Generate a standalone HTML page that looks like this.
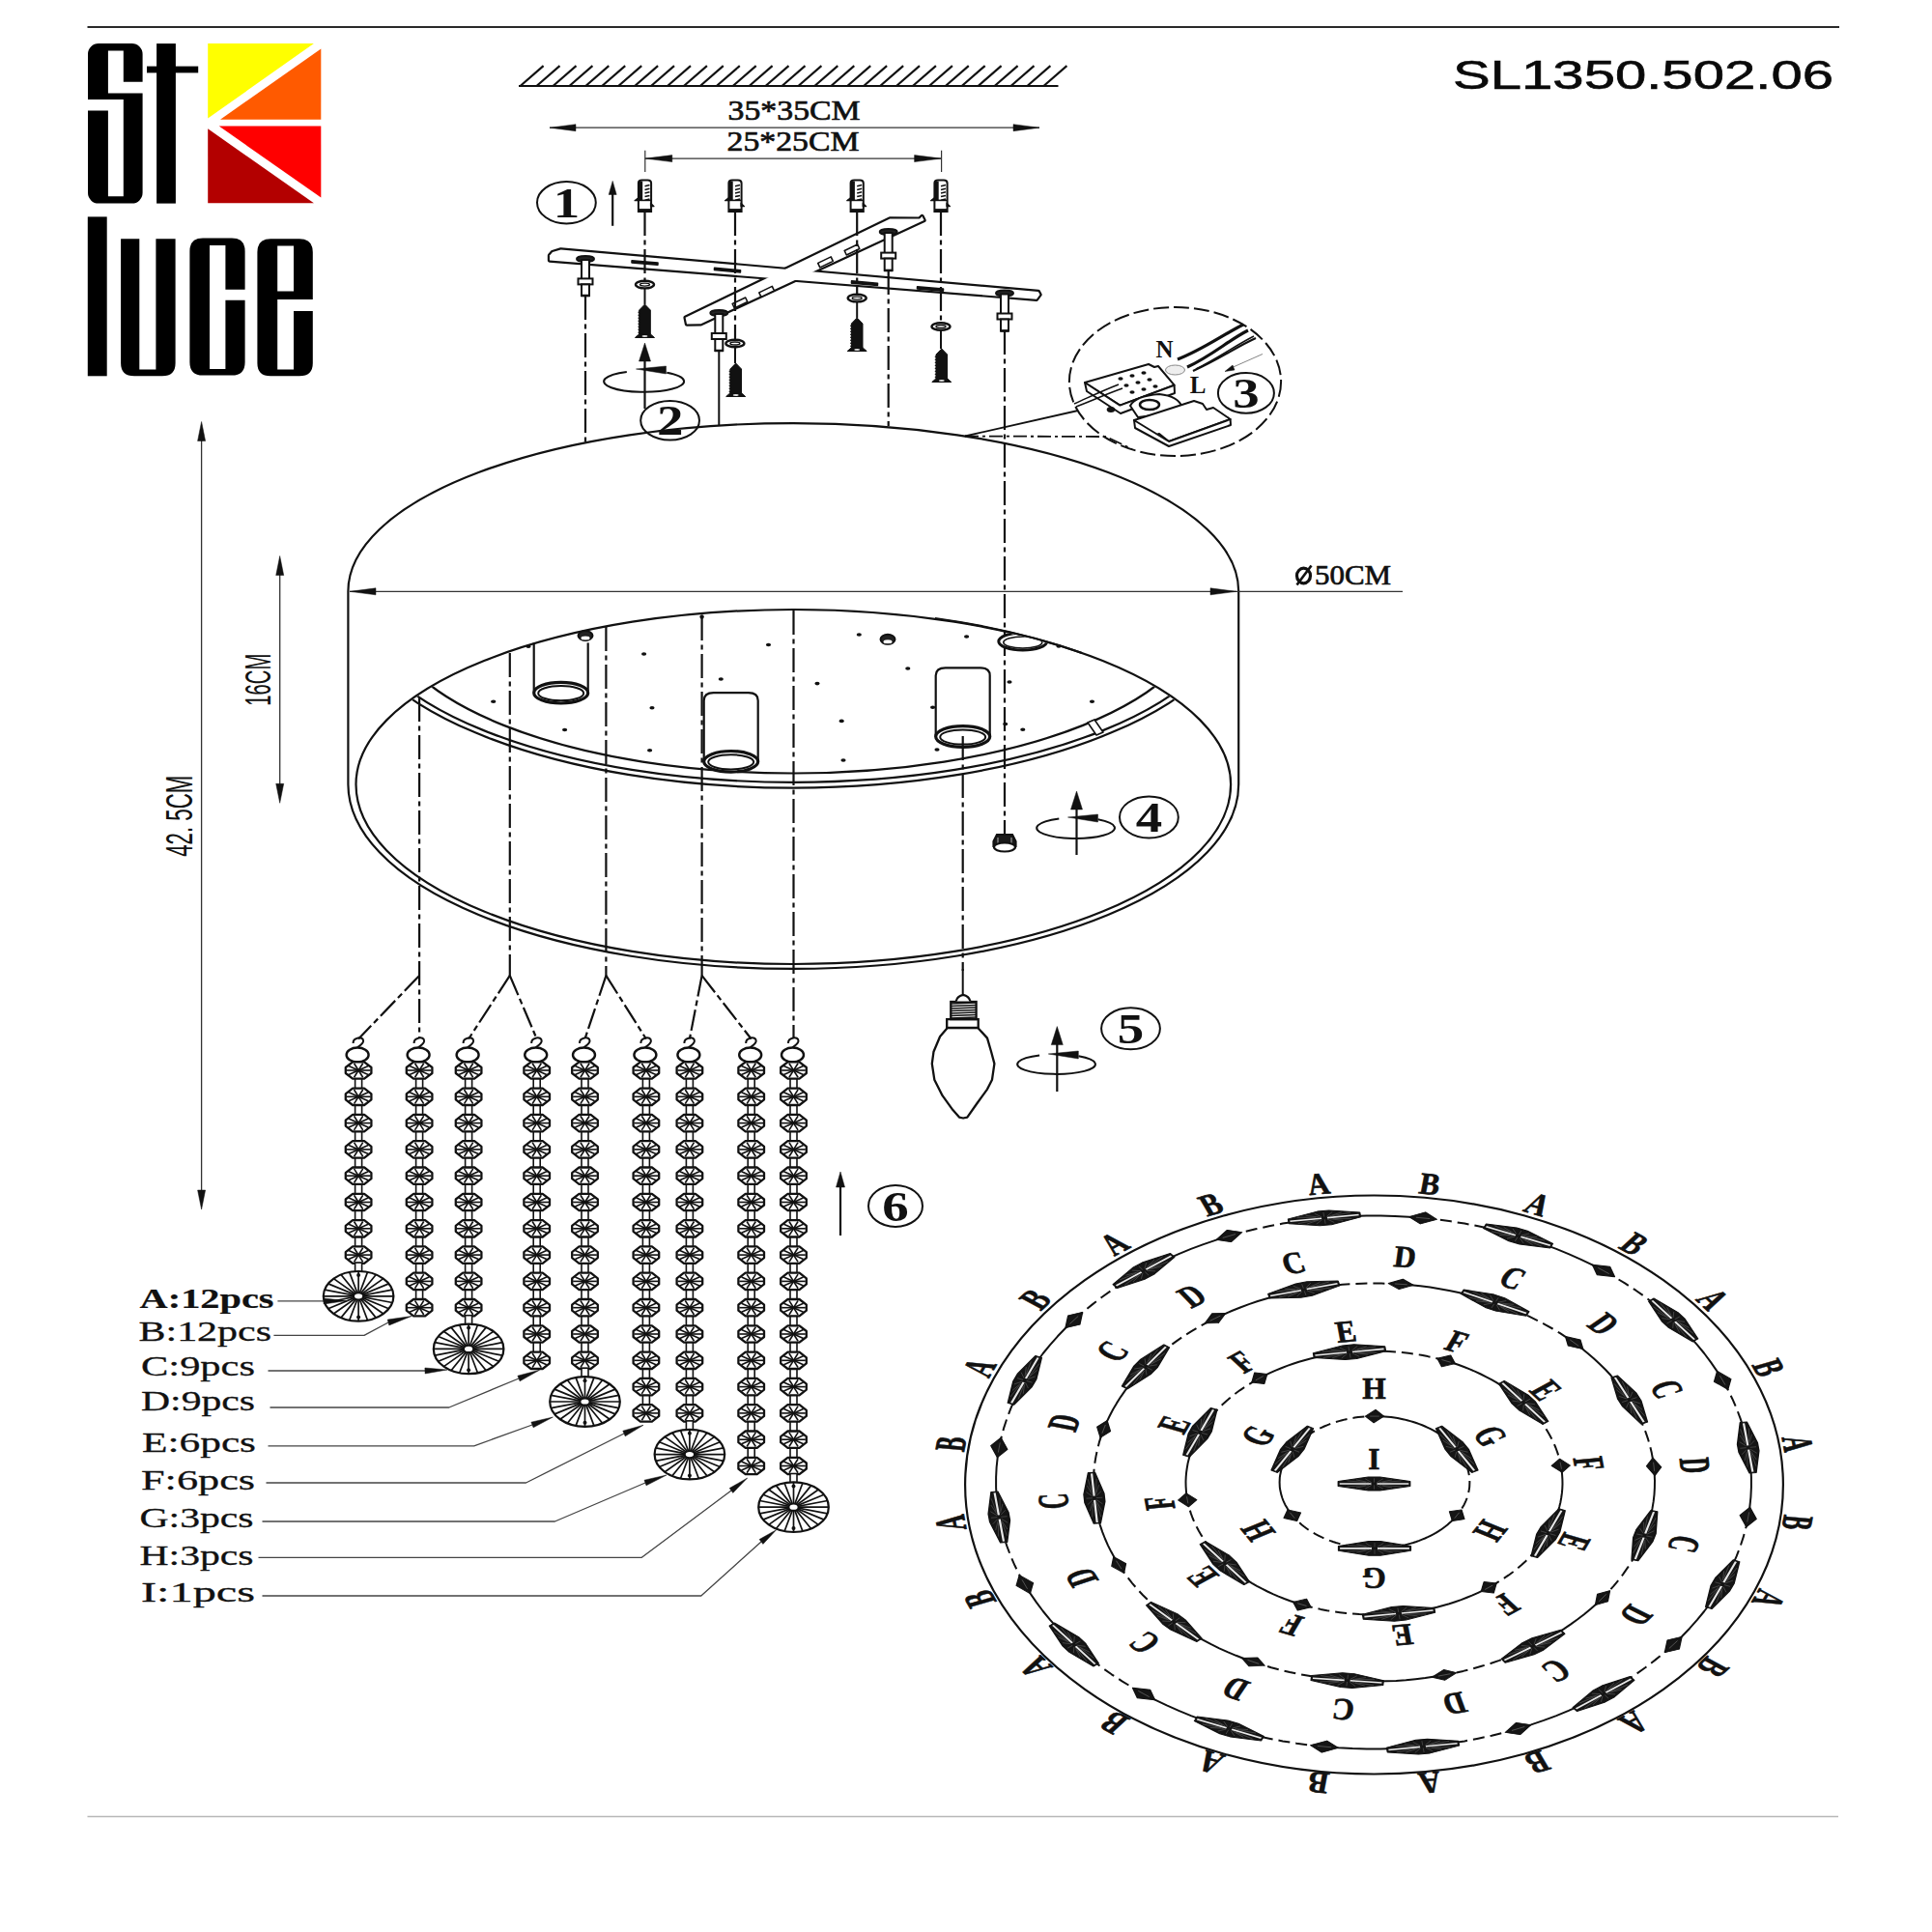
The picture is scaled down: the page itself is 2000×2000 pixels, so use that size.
<!DOCTYPE html>
<html><head><meta charset="utf-8"><title>SL1350.502.06</title>
<style>html,body{margin:0;padding:0;background:#fff;}svg{display:block;}
</style></head>
<body><svg width="2000" height="2000" viewBox="0 0 2000 2000">
<rect width="2000" height="2000" fill="#fff"/>
<line x1="90.5" y1="28" x2="1904" y2="28" stroke="#2a2a2a" stroke-width="2"/>
<line x1="90.5" y1="1880.5" x2="1903" y2="1880.5" stroke="#b8b8b8" stroke-width="1.5"/>
<path d="M102,45.1 H136.6 A11,11 0 0 1 147.6,56.1 V84.8 H127.8 V52.5 H111.9 V96.6 H147.6 V199.6 A11,11 0 0 1 136.6,210.6 H102 A11,11 0 0 1 91,199.6 V114.4 H111.9 V203.2 H127.8 V103 H91 V56.1 A11,11 0 0 1 102,45.1 Z" fill="#000" stroke="none" stroke-width="0"/>
<rect x="162.1" y="45.1" width="19.8" height="165.5" rx="0" fill="#000"/>
<rect x="152" y="68.6" width="53.2" height="6.8" rx="0" fill="#000"/>
<polygon points="215.2,45.1 324.9,45.1 215.2,122.5" fill="#ffff00" stroke="none" stroke-width="0" stroke-linejoin="round"/>
<polygon points="228,123.8 332.3,50.5 332.3,123.8" fill="#ff5a00" stroke="none" stroke-width="0" stroke-linejoin="round"/>
<polygon points="226.7,130.5 332.3,130.5 332.3,204.6" fill="#ff0000" stroke="none" stroke-width="0" stroke-linejoin="round"/>
<polygon points="215.2,133.2 324.9,210.3 215.2,210.3" fill="#b30000" stroke="none" stroke-width="0" stroke-linejoin="round"/>
<rect x="90.8" y="224.4" width="19.9" height="164.9" rx="0" fill="#000"/>
<path d="M125.1,247.3 H144.3 V382.5 H161.4 V247.3 H181.6 V376 Q181.6,389.3 168,389.3 H139 Q125.1,389.3 125.1,376 Z" fill="#000" stroke="none" stroke-width="0"/>
<path d="M210,246.6 H240 Q253.6,246.6 253.6,260 V299.8 H233.4 V254 H217 V381.9 H233.4 V310.8 H253.6 V375 Q253.6,388.6 240,388.6 H210 Q196.4,388.6 196.4,375 V260 Q196.4,246.6 210,246.6 Z" fill="#000" stroke="none" stroke-width="0"/>
<path d="M280,247.3 H310 Q323.8,247.3 323.8,261 V309.9 H287.2 V382.5 H304 V322 H323.8 V376 Q323.8,389.3 310,389.3 H280 Q266.4,389.3 266.4,376 V261 Q266.4,247.3 280,247.3 Z M287.2,254.4 V301.4 H304 V254.4 Z" fill="#000" stroke="none" stroke-width="0" fill-rule="evenodd"/>
<text x="1504" y="91.7" font-family="Liberation Sans" font-size="42" font-weight="normal" text-anchor="start" fill="#0a0a0a" stroke="#0a0a0a" stroke-width="0.6" textLength="394" lengthAdjust="spacingAndGlyphs">SL1350.502.06</text>
<line x1="537" y1="89" x2="1095.5" y2="89" stroke="#111" stroke-width="2.2"/>
<line x1="538.6" y1="89" x2="562.6" y2="68.1" stroke="#111" stroke-width="2.2"/>
<line x1="555.5" y1="89" x2="579.5" y2="68.1" stroke="#111" stroke-width="2.2"/>
<line x1="572.5" y1="89" x2="596.5" y2="68.1" stroke="#111" stroke-width="2.2"/>
<line x1="589.4" y1="89" x2="613.4" y2="68.1" stroke="#111" stroke-width="2.2"/>
<line x1="606.3" y1="89" x2="630.3" y2="68.1" stroke="#111" stroke-width="2.2"/>
<line x1="623.2" y1="89" x2="647.2" y2="68.1" stroke="#111" stroke-width="2.2"/>
<line x1="640.2" y1="89" x2="664.2" y2="68.1" stroke="#111" stroke-width="2.2"/>
<line x1="657.1" y1="89" x2="681.1" y2="68.1" stroke="#111" stroke-width="2.2"/>
<line x1="674" y1="89" x2="698" y2="68.1" stroke="#111" stroke-width="2.2"/>
<line x1="691" y1="89" x2="715" y2="68.1" stroke="#111" stroke-width="2.2"/>
<line x1="707.9" y1="89" x2="731.9" y2="68.1" stroke="#111" stroke-width="2.2"/>
<line x1="724.8" y1="89" x2="748.8" y2="68.1" stroke="#111" stroke-width="2.2"/>
<line x1="741.8" y1="89" x2="765.8" y2="68.1" stroke="#111" stroke-width="2.2"/>
<line x1="758.7" y1="89" x2="782.7" y2="68.1" stroke="#111" stroke-width="2.2"/>
<line x1="775.6" y1="89" x2="799.6" y2="68.1" stroke="#111" stroke-width="2.2"/>
<line x1="792.5" y1="89" x2="816.5" y2="68.1" stroke="#111" stroke-width="2.2"/>
<line x1="809.5" y1="89" x2="833.5" y2="68.1" stroke="#111" stroke-width="2.2"/>
<line x1="826.4" y1="89" x2="850.4" y2="68.1" stroke="#111" stroke-width="2.2"/>
<line x1="843.3" y1="89" x2="867.3" y2="68.1" stroke="#111" stroke-width="2.2"/>
<line x1="860.3" y1="89" x2="884.3" y2="68.1" stroke="#111" stroke-width="2.2"/>
<line x1="877.2" y1="89" x2="901.2" y2="68.1" stroke="#111" stroke-width="2.2"/>
<line x1="894.1" y1="89" x2="918.1" y2="68.1" stroke="#111" stroke-width="2.2"/>
<line x1="911.1" y1="89" x2="935.1" y2="68.1" stroke="#111" stroke-width="2.2"/>
<line x1="928" y1="89" x2="952" y2="68.1" stroke="#111" stroke-width="2.2"/>
<line x1="944.9" y1="89" x2="968.9" y2="68.1" stroke="#111" stroke-width="2.2"/>
<line x1="961.9" y1="89" x2="985.9" y2="68.1" stroke="#111" stroke-width="2.2"/>
<line x1="978.8" y1="89" x2="1002.8" y2="68.1" stroke="#111" stroke-width="2.2"/>
<line x1="995.7" y1="89" x2="1019.7" y2="68.1" stroke="#111" stroke-width="2.2"/>
<line x1="1012.6" y1="89" x2="1036.6" y2="68.1" stroke="#111" stroke-width="2.2"/>
<line x1="1029.6" y1="89" x2="1053.6" y2="68.1" stroke="#111" stroke-width="2.2"/>
<line x1="1046.5" y1="89" x2="1070.5" y2="68.1" stroke="#111" stroke-width="2.2"/>
<line x1="1063.4" y1="89" x2="1087.4" y2="68.1" stroke="#111" stroke-width="2.2"/>
<line x1="1080.4" y1="89" x2="1104.4" y2="68.1" stroke="#111" stroke-width="2.2"/>
<line x1="569" y1="132.2" x2="1076" y2="132.2" stroke="#333" stroke-width="1.2"/>
<polygon points="569,132.2 596,128.7 596,135.7" fill="#111" stroke="#111" stroke-width="0.5" stroke-linejoin="round"/>
<polygon points="1076,132.2 1049,135.7 1049,128.7" fill="#111" stroke="#111" stroke-width="0.5" stroke-linejoin="round"/>
<text x="753.6" y="124" font-family="Liberation Serif" font-size="29.5" font-weight="normal" text-anchor="start" fill="#111" stroke="#111" stroke-width="0.7" textLength="137" lengthAdjust="spacingAndGlyphs">35*35CM</text>
<line x1="667.8" y1="164.1" x2="974.6" y2="164.1" stroke="#333" stroke-width="1.2"/>
<polygon points="667.8,164.1 695.8,160.6 695.8,167.6" fill="#111" stroke="#111" stroke-width="0.5" stroke-linejoin="round"/>
<polygon points="974.6,164.1 946.6,167.6 946.6,160.6" fill="#111" stroke="#111" stroke-width="0.5" stroke-linejoin="round"/>
<text x="752.5" y="155.8" font-family="Liberation Serif" font-size="29.5" font-weight="normal" text-anchor="start" fill="#111" stroke="#111" stroke-width="0.7" textLength="137" lengthAdjust="spacingAndGlyphs">25*25CM</text>
<line x1="667.8" y1="155.8" x2="667.8" y2="178" stroke="#333" stroke-width="1.2"/>
<line x1="974.6" y1="155.8" x2="974.6" y2="178" stroke="#333" stroke-width="1.2"/>
<path d="M660.9,219.1 V189.6 Q660.9,186.6 664.5,186.6 H670.5 Q674.1,186.6 674.1,189.6 V219.1 Z" fill="#fff" stroke="#111" stroke-width="2"/>
<rect x="660.9" y="187.6" width="4.3" height="20" rx="0" fill="#111"/>
<line x1="667.5" y1="192.8" x2="672.5" y2="191.6" stroke="#111" stroke-width="1.5"/>
<line x1="667.5" y1="196.4" x2="672.5" y2="195.2" stroke="#111" stroke-width="1.5"/>
<line x1="667.5" y1="200" x2="672.5" y2="198.8" stroke="#111" stroke-width="1.5"/>
<line x1="667.5" y1="203.6" x2="672.5" y2="202.4" stroke="#111" stroke-width="1.5"/>
<line x1="667.5" y1="207.2" x2="672.5" y2="206" stroke="#111" stroke-width="1.5"/>
<polygon points="661.5,204.1 657,207.6 661.5,207.6" fill="#111" stroke="#111" stroke-width="1.2" stroke-linejoin="round"/>
<polygon points="673.5,210.1 677,213.6 673.5,213.6" fill="#111" stroke="#111" stroke-width="1.2" stroke-linejoin="round"/>
<line x1="660.9" y1="207.4" x2="674.1" y2="207.4" stroke="#111" stroke-width="1.6"/>
<rect x="660.9" y="216.1" width="13.2" height="3.2" rx="0" fill="#111"/>
<path d="M754.4,219.1 V189.6 Q754.4,186.6 758,186.6 H764 Q767.6,186.6 767.6,189.6 V219.1 Z" fill="#fff" stroke="#111" stroke-width="2"/>
<rect x="754.4" y="187.6" width="4.3" height="20" rx="0" fill="#111"/>
<line x1="761" y1="192.8" x2="766" y2="191.6" stroke="#111" stroke-width="1.5"/>
<line x1="761" y1="196.4" x2="766" y2="195.2" stroke="#111" stroke-width="1.5"/>
<line x1="761" y1="200" x2="766" y2="198.8" stroke="#111" stroke-width="1.5"/>
<line x1="761" y1="203.6" x2="766" y2="202.4" stroke="#111" stroke-width="1.5"/>
<line x1="761" y1="207.2" x2="766" y2="206" stroke="#111" stroke-width="1.5"/>
<polygon points="755,204.1 750.5,207.6 755,207.6" fill="#111" stroke="#111" stroke-width="1.2" stroke-linejoin="round"/>
<polygon points="767,210.1 770.5,213.6 767,213.6" fill="#111" stroke="#111" stroke-width="1.2" stroke-linejoin="round"/>
<line x1="754.4" y1="207.4" x2="767.6" y2="207.4" stroke="#111" stroke-width="1.6"/>
<rect x="754.4" y="216.1" width="13.2" height="3.2" rx="0" fill="#111"/>
<path d="M880.6,219.1 V189.6 Q880.6,186.6 884.2,186.6 H890.2 Q893.8,186.6 893.8,189.6 V219.1 Z" fill="#fff" stroke="#111" stroke-width="2"/>
<rect x="880.6" y="187.6" width="4.3" height="20" rx="0" fill="#111"/>
<line x1="887.2" y1="192.8" x2="892.2" y2="191.6" stroke="#111" stroke-width="1.5"/>
<line x1="887.2" y1="196.4" x2="892.2" y2="195.2" stroke="#111" stroke-width="1.5"/>
<line x1="887.2" y1="200" x2="892.2" y2="198.8" stroke="#111" stroke-width="1.5"/>
<line x1="887.2" y1="203.6" x2="892.2" y2="202.4" stroke="#111" stroke-width="1.5"/>
<line x1="887.2" y1="207.2" x2="892.2" y2="206" stroke="#111" stroke-width="1.5"/>
<polygon points="881.2,204.1 876.7,207.6 881.2,207.6" fill="#111" stroke="#111" stroke-width="1.2" stroke-linejoin="round"/>
<polygon points="893.2,210.1 896.7,213.6 893.2,213.6" fill="#111" stroke="#111" stroke-width="1.2" stroke-linejoin="round"/>
<line x1="880.6" y1="207.4" x2="893.8" y2="207.4" stroke="#111" stroke-width="1.6"/>
<rect x="880.6" y="216.1" width="13.2" height="3.2" rx="0" fill="#111"/>
<path d="M967.4,219.1 V189.6 Q967.4,186.6 971,186.6 H977 Q980.6,186.6 980.6,189.6 V219.1 Z" fill="#fff" stroke="#111" stroke-width="2"/>
<rect x="967.4" y="187.6" width="4.3" height="20" rx="0" fill="#111"/>
<line x1="974" y1="192.8" x2="979" y2="191.6" stroke="#111" stroke-width="1.5"/>
<line x1="974" y1="196.4" x2="979" y2="195.2" stroke="#111" stroke-width="1.5"/>
<line x1="974" y1="200" x2="979" y2="198.8" stroke="#111" stroke-width="1.5"/>
<line x1="974" y1="203.6" x2="979" y2="202.4" stroke="#111" stroke-width="1.5"/>
<line x1="974" y1="207.2" x2="979" y2="206" stroke="#111" stroke-width="1.5"/>
<polygon points="968,204.1 963.5,207.6 968,207.6" fill="#111" stroke="#111" stroke-width="1.2" stroke-linejoin="round"/>
<polygon points="980,210.1 983.5,213.6 980,213.6" fill="#111" stroke="#111" stroke-width="1.2" stroke-linejoin="round"/>
<line x1="967.4" y1="207.4" x2="980.6" y2="207.4" stroke="#111" stroke-width="1.6"/>
<rect x="967.4" y="216.1" width="13.2" height="3.2" rx="0" fill="#111"/>
<polygon points="569,264.5 572,261 580.6,258.4 1074.8,301.9 1076.5,305 1073,309.7 569,269.5" fill="#fff" stroke="#111" stroke-width="4.4" stroke-linejoin="round"/>
<polygon points="709.6,328.8 921.2,226.5 952,226.6 954.5,224 956.5,228 725.5,335.2 711,335.5" fill="#fff" stroke="#111" stroke-width="4.4" stroke-linejoin="round"/>
<polygon points="569,264.5 572,261 580.6,258.4 1074.8,301.9 1076.5,305 1073,309.7 569,269.5" fill="#fff" stroke="none" stroke-width="0" stroke-linejoin="round"/>
<polygon points="709.6,328.8 921.2,226.5 952,226.6 954.5,224 956.5,228 725.5,335.2 711,335.5" fill="#fff" stroke="none" stroke-width="0" stroke-linejoin="round"/>
<polygon points="654,271.9 680.9,274.3 681,272.1 654.1,269.7" fill="#111" stroke="#111" stroke-width="1.6" stroke-linejoin="round"/>
<polygon points="739.5,279.5 766.4,281.9 766.5,279.7 739.6,277.3" fill="#111" stroke="#111" stroke-width="1.6" stroke-linejoin="round"/>
<polygon points="881.5,293.1 908.4,295.5 908.5,293.3 881.6,290.9" fill="#111" stroke="#111" stroke-width="1.6" stroke-linejoin="round"/>
<polygon points="949.5,298.9 976.4,301.3 976.5,299.1 949.6,296.7" fill="#111" stroke="#111" stroke-width="1.6" stroke-linejoin="round"/>
<polygon points="876.3,264 889.8,257.5 887.7,253 874.2,259.5" fill="#fff" stroke="#111" stroke-width="1.6" stroke-linejoin="round"/>
<polygon points="848.8,276.9 862.3,270.4 860.2,265.9 846.7,272.4" fill="#fff" stroke="#111" stroke-width="1.6" stroke-linejoin="round"/>
<polygon points="787.9,307.4 801.4,300.9 799.3,296.4 785.8,302.9" fill="#fff" stroke="#111" stroke-width="1.6" stroke-linejoin="round"/>
<polygon points="760.3,319 773.8,312.5 771.7,308 758.2,314.5" fill="#fff" stroke="#111" stroke-width="1.6" stroke-linejoin="round"/>
<line x1="606" y1="306" x2="606" y2="460" stroke="#111" stroke-width="2.2" stroke-dasharray="25,4.5,5,4.5"/>
<line x1="667.5" y1="219" x2="667.5" y2="290" stroke="#111" stroke-width="2.2" stroke-dasharray="25,4.5,5,4.5"/>
<line x1="667.5" y1="298" x2="667.5" y2="315" stroke="#111" stroke-width="2"/>
<line x1="744.3" y1="362" x2="744.3" y2="440" stroke="#111" stroke-width="2"/>
<line x1="761" y1="219" x2="761" y2="351" stroke="#111" stroke-width="2.2" stroke-dasharray="25,4.5,5,4.5"/>
<line x1="761" y1="359" x2="761" y2="376" stroke="#111" stroke-width="2"/>
<line x1="887.2" y1="219" x2="887.2" y2="304" stroke="#111" stroke-width="2.2" stroke-dasharray="25,4.5,5,4.5"/>
<line x1="887.2" y1="312" x2="887.2" y2="329" stroke="#111" stroke-width="2"/>
<line x1="919.7" y1="280" x2="919.7" y2="441" stroke="#111" stroke-width="2.2" stroke-dasharray="25,4.5,5,4.5"/>
<line x1="974" y1="219" x2="974" y2="334" stroke="#111" stroke-width="2.2" stroke-dasharray="25,4.5,5,4.5"/>
<line x1="974" y1="342" x2="974" y2="361" stroke="#111" stroke-width="2"/>
<line x1="1040" y1="342" x2="1040" y2="866" stroke="#111" stroke-width="2.2" stroke-dasharray="25,4.5,5,4.5"/>
<ellipse cx="667.5" cy="294.6" rx="9.5" ry="3.8" fill="#fff" stroke="#111" stroke-width="2.4"/>
<ellipse cx="667.5" cy="294.6" rx="5" ry="1.5" fill="#fff" stroke="#111" stroke-width="1.4"/>
<ellipse cx="760.9" cy="355.5" rx="9.5" ry="3.8" fill="#fff" stroke="#111" stroke-width="2.4"/>
<ellipse cx="760.9" cy="355.5" rx="5" ry="1.5" fill="#fff" stroke="#111" stroke-width="1.4"/>
<ellipse cx="887.2" cy="308.6" rx="9.5" ry="3.8" fill="#fff" stroke="#111" stroke-width="2.4"/>
<ellipse cx="887.2" cy="308.6" rx="5" ry="1.5" fill="#fff" stroke="#111" stroke-width="1.4"/>
<ellipse cx="974" cy="338" rx="9.5" ry="3.8" fill="#fff" stroke="#111" stroke-width="2.4"/>
<ellipse cx="974" cy="338" rx="5" ry="1.5" fill="#fff" stroke="#111" stroke-width="1.4"/>
<path d="M667.5,315 L673.3,321 V346 H661.7 V321 Z" fill="#111" stroke="#111" stroke-width="1"/>
<line x1="660.5" y1="323" x2="662.5" y2="324" stroke="#111" stroke-width="1.2"/>
<line x1="660.5" y1="326" x2="662.5" y2="327" stroke="#111" stroke-width="1.2"/>
<line x1="660.5" y1="329" x2="662.5" y2="330" stroke="#111" stroke-width="1.2"/>
<line x1="660.5" y1="332" x2="662.5" y2="333" stroke="#111" stroke-width="1.2"/>
<line x1="660.5" y1="335" x2="662.5" y2="336" stroke="#111" stroke-width="1.2"/>
<line x1="660.5" y1="338" x2="662.5" y2="339" stroke="#111" stroke-width="1.2"/>
<line x1="660.5" y1="341" x2="662.5" y2="342" stroke="#111" stroke-width="1.2"/>
<line x1="660.5" y1="344" x2="662.5" y2="345" stroke="#111" stroke-width="1.2"/>
<path d="M661.5,346 H673.5 L677.5,349.5 H657.5 Z" fill="#111" stroke="#111" stroke-width="1"/>
<ellipse cx="667.5" cy="348" rx="3" ry="1" fill="#ddd" stroke="none" stroke-width="0"/>
<path d="M761.7,376 L767.5,382 V407 H755.9 V382 Z" fill="#111" stroke="#111" stroke-width="1"/>
<line x1="754.7" y1="384" x2="756.7" y2="385" stroke="#111" stroke-width="1.2"/>
<line x1="754.7" y1="387" x2="756.7" y2="388" stroke="#111" stroke-width="1.2"/>
<line x1="754.7" y1="390" x2="756.7" y2="391" stroke="#111" stroke-width="1.2"/>
<line x1="754.7" y1="393" x2="756.7" y2="394" stroke="#111" stroke-width="1.2"/>
<line x1="754.7" y1="396" x2="756.7" y2="397" stroke="#111" stroke-width="1.2"/>
<line x1="754.7" y1="399" x2="756.7" y2="400" stroke="#111" stroke-width="1.2"/>
<line x1="754.7" y1="402" x2="756.7" y2="403" stroke="#111" stroke-width="1.2"/>
<line x1="754.7" y1="405" x2="756.7" y2="406" stroke="#111" stroke-width="1.2"/>
<path d="M755.7,407 H767.7 L771.7,410.5 H751.7 Z" fill="#111" stroke="#111" stroke-width="1"/>
<ellipse cx="761.7" cy="409" rx="3" ry="1" fill="#ddd" stroke="none" stroke-width="0"/>
<path d="M887.2,329 L893,335 V360 H881.4 V335 Z" fill="#111" stroke="#111" stroke-width="1"/>
<line x1="880.2" y1="337" x2="882.2" y2="338" stroke="#111" stroke-width="1.2"/>
<line x1="880.2" y1="340" x2="882.2" y2="341" stroke="#111" stroke-width="1.2"/>
<line x1="880.2" y1="343" x2="882.2" y2="344" stroke="#111" stroke-width="1.2"/>
<line x1="880.2" y1="346" x2="882.2" y2="347" stroke="#111" stroke-width="1.2"/>
<line x1="880.2" y1="349" x2="882.2" y2="350" stroke="#111" stroke-width="1.2"/>
<line x1="880.2" y1="352" x2="882.2" y2="353" stroke="#111" stroke-width="1.2"/>
<line x1="880.2" y1="355" x2="882.2" y2="356" stroke="#111" stroke-width="1.2"/>
<line x1="880.2" y1="358" x2="882.2" y2="359" stroke="#111" stroke-width="1.2"/>
<path d="M881.2,360 H893.2 L897.2,363.5 H877.2 Z" fill="#111" stroke="#111" stroke-width="1"/>
<ellipse cx="887.2" cy="362" rx="3" ry="1" fill="#ddd" stroke="none" stroke-width="0"/>
<path d="M974.8,361 L980.6,367 V392 H969 V367 Z" fill="#111" stroke="#111" stroke-width="1"/>
<line x1="967.8" y1="369" x2="969.8" y2="370" stroke="#111" stroke-width="1.2"/>
<line x1="967.8" y1="372" x2="969.8" y2="373" stroke="#111" stroke-width="1.2"/>
<line x1="967.8" y1="375" x2="969.8" y2="376" stroke="#111" stroke-width="1.2"/>
<line x1="967.8" y1="378" x2="969.8" y2="379" stroke="#111" stroke-width="1.2"/>
<line x1="967.8" y1="381" x2="969.8" y2="382" stroke="#111" stroke-width="1.2"/>
<line x1="967.8" y1="384" x2="969.8" y2="385" stroke="#111" stroke-width="1.2"/>
<line x1="967.8" y1="387" x2="969.8" y2="388" stroke="#111" stroke-width="1.2"/>
<line x1="967.8" y1="390" x2="969.8" y2="391" stroke="#111" stroke-width="1.2"/>
<path d="M968.8,392 H980.8 L984.8,395.5 H964.8 Z" fill="#111" stroke="#111" stroke-width="1"/>
<ellipse cx="974.8" cy="394" rx="3" ry="1" fill="#ddd" stroke="none" stroke-width="0"/>
<ellipse cx="606" cy="268" rx="9" ry="3" fill="#222" stroke="#111" stroke-width="2"/>
<rect x="602" y="269" width="8" height="20.3" rx="0" fill="#fff" stroke="#111" stroke-width="2"/>
<rect x="598.5" y="288.4" width="15" height="6" rx="0" fill="#fff" stroke="#111" stroke-width="2"/>
<rect x="602" y="294.4" width="8" height="11.7" rx="0" fill="#fff" stroke="#111" stroke-width="2"/>
<line x1="601.5" y1="306" x2="610.5" y2="306" stroke="#111" stroke-width="2.5"/>
<ellipse cx="744.3" cy="324" rx="9" ry="3" fill="#222" stroke="#111" stroke-width="2"/>
<rect x="740.3" y="325" width="8" height="20.8" rx="0" fill="#fff" stroke="#111" stroke-width="2"/>
<rect x="736.8" y="345" width="15" height="6" rx="0" fill="#fff" stroke="#111" stroke-width="2"/>
<rect x="740.3" y="351" width="8" height="12" rx="0" fill="#fff" stroke="#111" stroke-width="2"/>
<line x1="739.8" y1="363" x2="748.8" y2="363" stroke="#111" stroke-width="2.5"/>
<ellipse cx="919.7" cy="240" rx="9" ry="3" fill="#222" stroke="#111" stroke-width="2"/>
<rect x="915.7" y="241" width="8" height="21.3" rx="0" fill="#fff" stroke="#111" stroke-width="2"/>
<rect x="912.2" y="261.6" width="15" height="6" rx="0" fill="#fff" stroke="#111" stroke-width="2"/>
<rect x="915.7" y="267.6" width="8" height="12.3" rx="0" fill="#fff" stroke="#111" stroke-width="2"/>
<line x1="915.2" y1="280" x2="924.2" y2="280" stroke="#111" stroke-width="2.5"/>
<ellipse cx="1040" cy="303.5" rx="9" ry="3" fill="#222" stroke="#111" stroke-width="2"/>
<rect x="1036" y="304.5" width="8" height="20.8" rx="0" fill="#fff" stroke="#111" stroke-width="2"/>
<rect x="1032.5" y="324.5" width="15" height="6" rx="0" fill="#fff" stroke="#111" stroke-width="2"/>
<rect x="1036" y="330.5" width="8" height="12" rx="0" fill="#fff" stroke="#111" stroke-width="2"/>
<line x1="1035.5" y1="342.5" x2="1044.5" y2="342.5" stroke="#111" stroke-width="2.5"/>
<line x1="634.2" y1="200" x2="634.2" y2="233.8" stroke="#111" stroke-width="2.2"/>
<polygon points="634.2,187.4 638.2,201.4 630.2,201.4" fill="#111" stroke="#111" stroke-width="0.5" stroke-linejoin="round"/>
<ellipse cx="586.4" cy="209.7" rx="30.4" ry="21.7" fill="none" stroke="#111" stroke-width="2"/>
<text transform="translate(586.4,224.8) scale(1.22,1)" x="0" y="0" font-family="Liberation Serif" font-size="45" font-weight="bold" text-anchor="middle" fill="#111">1</text>
<line x1="667.5" y1="370" x2="667.5" y2="423" stroke="#111" stroke-width="2.2"/>
<polygon points="667.5,355 673.5,374 661.5,374" fill="#111" stroke="#111" stroke-width="0.5" stroke-linejoin="round"/>
<path d="M648.8,384.9 A41.5,11 0 1 0 690.3,385.8" fill="none" stroke="#111" stroke-width="2"/>
<polygon points="658.5,382 689.5,379 689.5,387" fill="#111" stroke="#111" stroke-width="0.5" stroke-linejoin="round"/>
<ellipse cx="693.6" cy="435.2" rx="30.4" ry="20.3" fill="none" stroke="#111" stroke-width="2"/>
<text transform="translate(693.6,450.3) scale(1.22,1)" x="0" y="0" font-family="Liberation Serif" font-size="45" font-weight="bold" text-anchor="middle" fill="#111">2</text>
<path d="M360.4,612 A460.9,174 0 0 1 1282.2,612" fill="none" stroke="#111" stroke-width="2.2"/>
<line x1="360.4" y1="612" x2="360.4" y2="812" stroke="#111" stroke-width="2.2"/>
<line x1="1282.2" y1="612" x2="1282.2" y2="812" stroke="#111" stroke-width="2.2"/>
<path d="M360.4,812 A460.9,191 0 0 0 1282.2,812" fill="none" stroke="#111" stroke-width="2.2"/>
<path d="M368.5,812 A452.8,181 0 0 1 1274.1,812" fill="none" stroke="#111" stroke-width="2.2"/>
<path d="M368.5,812 A452.8,186 0 0 0 1274.1,812" fill="none" stroke="#111" stroke-width="2.2"/>
<defs><clipPath id="cin"><ellipse cx="821.3" cy="812" rx="451.5" ry="180"/></clipPath></defs>
<g clip-path="url(#cin)" fill="none" stroke="#111" stroke-width="2.2">
<path d="M397.4,631 A423.9,169.5 0 0 0 1245.2,631"/>
<path d="M367,625.6 A454.3,184.3 0 0 0 1275.6,625.6"/>
<path d="M356.4,621 A464.9,194.6 0 0 0 1286.2,621"/>
</g>
<polygon points="1126,748 1133,745 1142,758 1135,761" fill="#fff" stroke="#111" stroke-width="1.6" stroke-linejoin="round"/>
<line x1="552.7" y1="665.4" x2="552.7" y2="717.2" stroke="#111" stroke-width="2.2"/>
<line x1="608.7" y1="665.4" x2="608.7" y2="717.2" stroke="#111" stroke-width="2.2"/>
<ellipse cx="580.7" cy="717.2" rx="28" ry="10.8" fill="#fff" stroke="#111" stroke-width="3.2"/>
<ellipse cx="580.7" cy="717.7" rx="23.5" ry="7.6" fill="#fff" stroke="#111" stroke-width="2"/>
<path d="M728.7,788.3 V725.2 Q728.7,717.2 738.7,717.2 H774.7 Q784.7,717.2 784.7,725.2 V788.3" fill="#fff" stroke="#111" stroke-width="2.2"/>
<ellipse cx="756.7" cy="788.3" rx="28" ry="10.8" fill="#fff" stroke="#111" stroke-width="3.2"/>
<ellipse cx="756.7" cy="788.8" rx="23.5" ry="7.6" fill="#fff" stroke="#111" stroke-width="2"/>
<path d="M968.7,762.5 V699.3 Q968.7,691.3 978.7,691.3 H1014.7 Q1024.7,691.3 1024.7,699.3 V762.5" fill="#fff" stroke="#111" stroke-width="2.2"/>
<ellipse cx="996.7" cy="762.5" rx="28" ry="10.8" fill="#fff" stroke="#111" stroke-width="3.2"/>
<ellipse cx="996.7" cy="763" rx="23.5" ry="7.6" fill="#fff" stroke="#111" stroke-width="2"/>
<g clip-path="url(#cin)">
<ellipse cx="1058.8" cy="664" rx="25" ry="9" fill="#fff" stroke="#111" stroke-width="3"/>
<ellipse cx="1058.8" cy="665" rx="20" ry="6" fill="#fff" stroke="#111" stroke-width="1.6"/>
</g>
<path d="M968,640 A452.8,181 0 0 1 1120,676" fill="none" stroke="#111" stroke-width="2.2"/>
<ellipse cx="606" cy="658" rx="7.5" ry="5" fill="#222" stroke="#111" stroke-width="2"/>
<ellipse cx="606" cy="660.5" rx="5" ry="2.5" fill="#fff" stroke="#111" stroke-width="1"/>
<ellipse cx="919" cy="661.8" rx="7.5" ry="5" fill="#222" stroke="#111" stroke-width="2"/>
<ellipse cx="919" cy="664.3" rx="5" ry="2.5" fill="#fff" stroke="#111" stroke-width="1"/>
<ellipse cx="510.8" cy="726.2" rx="2.6" ry="1.8" fill="#111" stroke="none" stroke-width="0"/>
<ellipse cx="584.6" cy="755.5" rx="2.6" ry="1.8" fill="#111" stroke="none" stroke-width="0"/>
<ellipse cx="666.6" cy="677" rx="2.6" ry="1.8" fill="#111" stroke="none" stroke-width="0"/>
<ellipse cx="675" cy="732.7" rx="2.6" ry="1.8" fill="#111" stroke="none" stroke-width="0"/>
<ellipse cx="672.6" cy="776.7" rx="2.6" ry="1.8" fill="#111" stroke="none" stroke-width="0"/>
<ellipse cx="746.3" cy="703" rx="2.6" ry="1.8" fill="#111" stroke="none" stroke-width="0"/>
<ellipse cx="795.5" cy="667.5" rx="2.6" ry="1.8" fill="#111" stroke="none" stroke-width="0"/>
<ellipse cx="547" cy="669.3" rx="2.6" ry="1.8" fill="#111" stroke="none" stroke-width="0"/>
<ellipse cx="889.3" cy="657" rx="2.6" ry="1.8" fill="#111" stroke="none" stroke-width="0"/>
<ellipse cx="1000.6" cy="659" rx="2.6" ry="1.8" fill="#111" stroke="none" stroke-width="0"/>
<ellipse cx="939.8" cy="692" rx="2.6" ry="1.8" fill="#111" stroke="none" stroke-width="0"/>
<ellipse cx="846" cy="707.6" rx="2.6" ry="1.8" fill="#111" stroke="none" stroke-width="0"/>
<ellipse cx="1045" cy="706" rx="2.6" ry="1.8" fill="#111" stroke="none" stroke-width="0"/>
<ellipse cx="1130.5" cy="726.2" rx="2.6" ry="1.8" fill="#111" stroke="none" stroke-width="0"/>
<ellipse cx="965.6" cy="732.2" rx="2.6" ry="1.8" fill="#111" stroke="none" stroke-width="0"/>
<ellipse cx="1040.7" cy="749.5" rx="2.6" ry="1.8" fill="#111" stroke="none" stroke-width="0"/>
<ellipse cx="1058.8" cy="755.2" rx="2.6" ry="1.8" fill="#111" stroke="none" stroke-width="0"/>
<ellipse cx="871.2" cy="746.4" rx="2.6" ry="1.8" fill="#111" stroke="none" stroke-width="0"/>
<ellipse cx="970" cy="776" rx="2.6" ry="1.8" fill="#111" stroke="none" stroke-width="0"/>
<ellipse cx="873" cy="787" rx="2.6" ry="1.8" fill="#111" stroke="none" stroke-width="0"/>
<ellipse cx="1096" cy="669" rx="2.6" ry="1.8" fill="#111" stroke="none" stroke-width="0"/>
<line x1="362" y1="612.3" x2="1452" y2="612.3" stroke="#333" stroke-width="1.2"/>
<polygon points="362,612.3 389,608.8 389,615.8" fill="#111" stroke="#111" stroke-width="0.5" stroke-linejoin="round"/>
<polygon points="1280,612.3 1253,615.8 1253,608.8" fill="#111" stroke="#111" stroke-width="0.5" stroke-linejoin="round"/>
<ellipse cx="1349.5" cy="596" rx="7" ry="7.8" fill="none" stroke="#111" stroke-width="3.2"/>
<line x1="1342.5" y1="605.5" x2="1357.5" y2="585.5" stroke="#111" stroke-width="2.6"/>
<text x="1361" y="604.5" font-family="Liberation Serif" font-size="29.5" font-weight="normal" text-anchor="start" fill="#111" stroke="#111" stroke-width="0.7" textLength="79" lengthAdjust="spacingAndGlyphs">50CM</text>
<line x1="208.6" y1="450" x2="208.6" y2="1240" stroke="#333" stroke-width="1.3"/>
<polygon points="208.6,436.5 212.6,456.5 204.6,456.5" fill="#111" stroke="#111" stroke-width="0.5" stroke-linejoin="round"/>
<polygon points="208.6,1252 204.6,1232 212.6,1232" fill="#111" stroke="#111" stroke-width="0.5" stroke-linejoin="round"/>
<text transform="translate(199,844.8) rotate(-90)" font-family="Liberation Sans" font-size="39" text-anchor="middle" fill="#111" textLength="84" lengthAdjust="spacingAndGlyphs">42. 5CM</text>
<line x1="289.7" y1="590" x2="289.7" y2="817" stroke="#333" stroke-width="1.3"/>
<polygon points="289.7,575.5 293.7,595.5 285.7,595.5" fill="#111" stroke="#111" stroke-width="0.5" stroke-linejoin="round"/>
<polygon points="289.7,831.3 285.7,811.3 293.7,811.3" fill="#111" stroke="#111" stroke-width="0.5" stroke-linejoin="round"/>
<text transform="translate(279.5,703.7) rotate(-90)" font-family="Liberation Sans" font-size="37" text-anchor="middle" fill="#111" textLength="54" lengthAdjust="spacingAndGlyphs">16CM</text>
<line x1="434.1" y1="722" x2="434.1" y2="1075" stroke="#111" stroke-width="2.2" stroke-dasharray="25,4.5,5,4.5"/>
<line x1="527.8" y1="676" x2="527.8" y2="1010" stroke="#111" stroke-width="2.2" stroke-dasharray="25,4.5,5,4.5"/>
<line x1="627.4" y1="649" x2="627.4" y2="1010" stroke="#111" stroke-width="2.2" stroke-dasharray="25,4.5,5,4.5"/>
<line x1="726.6" y1="638" x2="726.6" y2="1010" stroke="#111" stroke-width="2.2" stroke-dasharray="25,4.5,5,4.5"/>
<line x1="821.5" y1="632" x2="821.5" y2="1075" stroke="#111" stroke-width="2.2" stroke-dasharray="25,4.5,5,4.5"/>
<circle cx="726.6" cy="638.5" r="2.2" fill="#111"/>
<line x1="434.1" y1="1009.9" x2="371.1" y2="1075.5" stroke="#111" stroke-width="2.2" stroke-dasharray="22,4,6,4"/>
<line x1="527.8" y1="1009.9" x2="485.1" y2="1075.5" stroke="#111" stroke-width="2.2" stroke-dasharray="22,4,6,4"/>
<line x1="527.8" y1="1009.9" x2="555.7" y2="1075.5" stroke="#111" stroke-width="2.2" stroke-dasharray="22,4,6,4"/>
<line x1="627.4" y1="1009.9" x2="605.5" y2="1075.5" stroke="#111" stroke-width="2.2" stroke-dasharray="22,4,6,4"/>
<line x1="627.4" y1="1009.9" x2="668.9" y2="1075.5" stroke="#111" stroke-width="2.2" stroke-dasharray="22,4,6,4"/>
<line x1="726.6" y1="1009.9" x2="713.9" y2="1075.5" stroke="#111" stroke-width="2.2" stroke-dasharray="22,4,6,4"/>
<line x1="726.6" y1="1009.9" x2="777.7" y2="1075.5" stroke="#111" stroke-width="2.2" stroke-dasharray="22,4,6,4"/>
<line x1="996.7" y1="762" x2="996.7" y2="1005" stroke="#111" stroke-width="2.2" stroke-dasharray="25,4.5,5,4.5"/>
<line x1="996.7" y1="1003" x2="996.7" y2="1030" stroke="#111" stroke-width="2"/>
<path d="M365.6,1080 C365.1,1074 376.1,1072 376.1,1077.5 C376.1,1081 371.1,1083 370.1,1084.5" fill="none" stroke="#111" stroke-width="2"/>
<ellipse cx="370.1" cy="1092" rx="11.5" ry="7.5" fill="#fff" stroke="#111" stroke-width="2.4"/>
<rect x="367.6" y="1116" width="7" height="11.3" rx="0" fill="#fff" stroke="#111" stroke-width="1.6"/>
<rect x="367.6" y="1143.3" width="7" height="11.3" rx="0" fill="#fff" stroke="#111" stroke-width="1.6"/>
<rect x="367.6" y="1170.6" width="7" height="11.3" rx="0" fill="#fff" stroke="#111" stroke-width="1.6"/>
<rect x="367.6" y="1197.9" width="7" height="11.3" rx="0" fill="#fff" stroke="#111" stroke-width="1.6"/>
<rect x="367.6" y="1225.2" width="7" height="11.3" rx="0" fill="#fff" stroke="#111" stroke-width="1.6"/>
<rect x="367.6" y="1252.5" width="7" height="11.3" rx="0" fill="#fff" stroke="#111" stroke-width="1.6"/>
<rect x="367.6" y="1279.8" width="7" height="11.3" rx="0" fill="#fff" stroke="#111" stroke-width="1.6"/>
<polygon points="365.1,1099.3 377.1,1099.3 384.4,1105 384.4,1111 377.1,1116.7 365.1,1116.7 357.8,1111 357.8,1105" fill="#fff" stroke="#111" stroke-width="2.3" stroke-linejoin="round"/>
<line x1="358.8" y1="1108" x2="383.4" y2="1108" stroke="#111" stroke-width="1.6"/>
<line x1="361" y1="1103.5" x2="381.2" y2="1112.5" stroke="#111" stroke-width="1.6"/>
<line x1="366.5" y1="1100.7" x2="375.7" y2="1115.3" stroke="#111" stroke-width="1.6"/>
<line x1="375.7" y1="1100.7" x2="366.5" y2="1115.3" stroke="#111" stroke-width="1.6"/>
<line x1="381.2" y1="1103.5" x2="361" y2="1112.5" stroke="#111" stroke-width="1.6"/>
<polygon points="365.1,1126.6 377.1,1126.6 384.4,1132.3 384.4,1138.3 377.1,1144 365.1,1144 357.8,1138.3 357.8,1132.3" fill="#fff" stroke="#111" stroke-width="2.3" stroke-linejoin="round"/>
<line x1="358.8" y1="1135.3" x2="383.4" y2="1135.3" stroke="#111" stroke-width="1.6"/>
<line x1="361" y1="1130.8" x2="381.2" y2="1139.8" stroke="#111" stroke-width="1.6"/>
<line x1="366.5" y1="1128" x2="375.7" y2="1142.6" stroke="#111" stroke-width="1.6"/>
<line x1="375.7" y1="1128" x2="366.5" y2="1142.6" stroke="#111" stroke-width="1.6"/>
<line x1="381.2" y1="1130.8" x2="361" y2="1139.8" stroke="#111" stroke-width="1.6"/>
<polygon points="365.1,1153.9 377.1,1153.9 384.4,1159.6 384.4,1165.6 377.1,1171.3 365.1,1171.3 357.8,1165.6 357.8,1159.6" fill="#fff" stroke="#111" stroke-width="2.3" stroke-linejoin="round"/>
<line x1="358.8" y1="1162.6" x2="383.4" y2="1162.6" stroke="#111" stroke-width="1.6"/>
<line x1="361" y1="1158.1" x2="381.2" y2="1167.1" stroke="#111" stroke-width="1.6"/>
<line x1="366.5" y1="1155.3" x2="375.7" y2="1169.9" stroke="#111" stroke-width="1.6"/>
<line x1="375.7" y1="1155.3" x2="366.5" y2="1169.9" stroke="#111" stroke-width="1.6"/>
<line x1="381.2" y1="1158.1" x2="361" y2="1167.1" stroke="#111" stroke-width="1.6"/>
<polygon points="365.1,1181.2 377.1,1181.2 384.4,1186.9 384.4,1192.9 377.1,1198.6 365.1,1198.6 357.8,1192.9 357.8,1186.9" fill="#fff" stroke="#111" stroke-width="2.3" stroke-linejoin="round"/>
<line x1="358.8" y1="1189.9" x2="383.4" y2="1189.9" stroke="#111" stroke-width="1.6"/>
<line x1="361" y1="1185.4" x2="381.2" y2="1194.4" stroke="#111" stroke-width="1.6"/>
<line x1="366.5" y1="1182.6" x2="375.7" y2="1197.2" stroke="#111" stroke-width="1.6"/>
<line x1="375.7" y1="1182.6" x2="366.5" y2="1197.2" stroke="#111" stroke-width="1.6"/>
<line x1="381.2" y1="1185.4" x2="361" y2="1194.4" stroke="#111" stroke-width="1.6"/>
<polygon points="365.1,1208.5 377.1,1208.5 384.4,1214.2 384.4,1220.2 377.1,1225.9 365.1,1225.9 357.8,1220.2 357.8,1214.2" fill="#fff" stroke="#111" stroke-width="2.3" stroke-linejoin="round"/>
<line x1="358.8" y1="1217.2" x2="383.4" y2="1217.2" stroke="#111" stroke-width="1.6"/>
<line x1="361" y1="1212.7" x2="381.2" y2="1221.7" stroke="#111" stroke-width="1.6"/>
<line x1="366.5" y1="1209.9" x2="375.7" y2="1224.5" stroke="#111" stroke-width="1.6"/>
<line x1="375.7" y1="1209.9" x2="366.5" y2="1224.5" stroke="#111" stroke-width="1.6"/>
<line x1="381.2" y1="1212.7" x2="361" y2="1221.7" stroke="#111" stroke-width="1.6"/>
<polygon points="365.1,1235.8 377.1,1235.8 384.4,1241.5 384.4,1247.5 377.1,1253.2 365.1,1253.2 357.8,1247.5 357.8,1241.5" fill="#fff" stroke="#111" stroke-width="2.3" stroke-linejoin="round"/>
<line x1="358.8" y1="1244.5" x2="383.4" y2="1244.5" stroke="#111" stroke-width="1.6"/>
<line x1="361" y1="1240" x2="381.2" y2="1249" stroke="#111" stroke-width="1.6"/>
<line x1="366.5" y1="1237.2" x2="375.7" y2="1251.8" stroke="#111" stroke-width="1.6"/>
<line x1="375.7" y1="1237.2" x2="366.5" y2="1251.8" stroke="#111" stroke-width="1.6"/>
<line x1="381.2" y1="1240" x2="361" y2="1249" stroke="#111" stroke-width="1.6"/>
<polygon points="365.1,1263.1 377.1,1263.1 384.4,1268.8 384.4,1274.8 377.1,1280.5 365.1,1280.5 357.8,1274.8 357.8,1268.8" fill="#fff" stroke="#111" stroke-width="2.3" stroke-linejoin="round"/>
<line x1="358.8" y1="1271.8" x2="383.4" y2="1271.8" stroke="#111" stroke-width="1.6"/>
<line x1="361" y1="1267.3" x2="381.2" y2="1276.3" stroke="#111" stroke-width="1.6"/>
<line x1="366.5" y1="1264.5" x2="375.7" y2="1279.1" stroke="#111" stroke-width="1.6"/>
<line x1="375.7" y1="1264.5" x2="366.5" y2="1279.1" stroke="#111" stroke-width="1.6"/>
<line x1="381.2" y1="1267.3" x2="361" y2="1276.3" stroke="#111" stroke-width="1.6"/>
<polygon points="365.1,1290.4 377.1,1290.4 384.4,1296.1 384.4,1302.1 377.1,1307.8 365.1,1307.8 357.8,1302.1 357.8,1296.1" fill="#fff" stroke="#111" stroke-width="2.3" stroke-linejoin="round"/>
<line x1="358.8" y1="1299.1" x2="383.4" y2="1299.1" stroke="#111" stroke-width="1.6"/>
<line x1="361" y1="1294.6" x2="381.2" y2="1303.6" stroke="#111" stroke-width="1.6"/>
<line x1="366.5" y1="1291.8" x2="375.7" y2="1306.4" stroke="#111" stroke-width="1.6"/>
<line x1="375.7" y1="1291.8" x2="366.5" y2="1306.4" stroke="#111" stroke-width="1.6"/>
<line x1="381.2" y1="1294.6" x2="361" y2="1303.6" stroke="#111" stroke-width="1.6"/>
<rect x="367.6" y="1307.1" width="7" height="10" rx="0" fill="#fff" stroke="#111" stroke-width="1.6"/>
<ellipse cx="371.1" cy="1341.8" rx="36.3" ry="25.8" fill="#fff" stroke="#111" stroke-width="2.2"/>
<line x1="334.8" y1="1341.8" x2="407.4" y2="1341.8" stroke="#111" stroke-width="1.7"/>
<line x1="336" y1="1335.1" x2="406.2" y2="1348.5" stroke="#111" stroke-width="1.7"/>
<line x1="339.7" y1="1328.9" x2="402.5" y2="1354.7" stroke="#111" stroke-width="1.7"/>
<line x1="345.4" y1="1323.6" x2="396.8" y2="1360" stroke="#111" stroke-width="1.7"/>
<line x1="353" y1="1319.5" x2="389.2" y2="1364.1" stroke="#111" stroke-width="1.7"/>
<line x1="361.7" y1="1316.9" x2="380.5" y2="1366.7" stroke="#111" stroke-width="1.7"/>
<line x1="371.1" y1="1316" x2="371.1" y2="1367.6" stroke="#111" stroke-width="1.7"/>
<line x1="380.5" y1="1316.9" x2="361.7" y2="1366.7" stroke="#111" stroke-width="1.7"/>
<line x1="389.2" y1="1319.5" x2="353" y2="1364.1" stroke="#111" stroke-width="1.7"/>
<line x1="396.8" y1="1323.6" x2="345.4" y2="1360" stroke="#111" stroke-width="1.7"/>
<line x1="402.5" y1="1328.9" x2="339.7" y2="1354.7" stroke="#111" stroke-width="1.7"/>
<line x1="406.2" y1="1335.1" x2="336" y2="1348.5" stroke="#111" stroke-width="1.7"/>
<ellipse cx="371.1" cy="1341.8" rx="5" ry="3.5" fill="#fff" stroke="#111" stroke-width="1.8"/>
<circle cx="371.1" cy="1320" r="2" fill="#111"/>
<circle cx="371.1" cy="1363.6" r="2" fill="#111"/>
<path d="M428.6,1080 C428.1,1074 439.1,1072 439.1,1077.5 C439.1,1081 434.1,1083 433.1,1084.5" fill="none" stroke="#111" stroke-width="2"/>
<ellipse cx="433.1" cy="1092" rx="11.5" ry="7.5" fill="#fff" stroke="#111" stroke-width="2.4"/>
<rect x="430.6" y="1116" width="7" height="11.3" rx="0" fill="#fff" stroke="#111" stroke-width="1.6"/>
<rect x="430.6" y="1143.3" width="7" height="11.3" rx="0" fill="#fff" stroke="#111" stroke-width="1.6"/>
<rect x="430.6" y="1170.6" width="7" height="11.3" rx="0" fill="#fff" stroke="#111" stroke-width="1.6"/>
<rect x="430.6" y="1197.9" width="7" height="11.3" rx="0" fill="#fff" stroke="#111" stroke-width="1.6"/>
<rect x="430.6" y="1225.2" width="7" height="11.3" rx="0" fill="#fff" stroke="#111" stroke-width="1.6"/>
<rect x="430.6" y="1252.5" width="7" height="11.3" rx="0" fill="#fff" stroke="#111" stroke-width="1.6"/>
<rect x="430.6" y="1279.8" width="7" height="11.3" rx="0" fill="#fff" stroke="#111" stroke-width="1.6"/>
<rect x="430.6" y="1307.1" width="7" height="11.3" rx="0" fill="#fff" stroke="#111" stroke-width="1.6"/>
<rect x="430.6" y="1334.4" width="7" height="11.3" rx="0" fill="#fff" stroke="#111" stroke-width="1.6"/>
<polygon points="428.1,1099.3 440.1,1099.3 447.4,1105 447.4,1111 440.1,1116.7 428.1,1116.7 420.8,1111 420.8,1105" fill="#fff" stroke="#111" stroke-width="2.3" stroke-linejoin="round"/>
<line x1="421.8" y1="1108" x2="446.4" y2="1108" stroke="#111" stroke-width="1.6"/>
<line x1="424" y1="1103.5" x2="444.2" y2="1112.5" stroke="#111" stroke-width="1.6"/>
<line x1="429.5" y1="1100.7" x2="438.7" y2="1115.3" stroke="#111" stroke-width="1.6"/>
<line x1="438.7" y1="1100.7" x2="429.5" y2="1115.3" stroke="#111" stroke-width="1.6"/>
<line x1="444.2" y1="1103.5" x2="424" y2="1112.5" stroke="#111" stroke-width="1.6"/>
<polygon points="428.1,1126.6 440.1,1126.6 447.4,1132.3 447.4,1138.3 440.1,1144 428.1,1144 420.8,1138.3 420.8,1132.3" fill="#fff" stroke="#111" stroke-width="2.3" stroke-linejoin="round"/>
<line x1="421.8" y1="1135.3" x2="446.4" y2="1135.3" stroke="#111" stroke-width="1.6"/>
<line x1="424" y1="1130.8" x2="444.2" y2="1139.8" stroke="#111" stroke-width="1.6"/>
<line x1="429.5" y1="1128" x2="438.7" y2="1142.6" stroke="#111" stroke-width="1.6"/>
<line x1="438.7" y1="1128" x2="429.5" y2="1142.6" stroke="#111" stroke-width="1.6"/>
<line x1="444.2" y1="1130.8" x2="424" y2="1139.8" stroke="#111" stroke-width="1.6"/>
<polygon points="428.1,1153.9 440.1,1153.9 447.4,1159.6 447.4,1165.6 440.1,1171.3 428.1,1171.3 420.8,1165.6 420.8,1159.6" fill="#fff" stroke="#111" stroke-width="2.3" stroke-linejoin="round"/>
<line x1="421.8" y1="1162.6" x2="446.4" y2="1162.6" stroke="#111" stroke-width="1.6"/>
<line x1="424" y1="1158.1" x2="444.2" y2="1167.1" stroke="#111" stroke-width="1.6"/>
<line x1="429.5" y1="1155.3" x2="438.7" y2="1169.9" stroke="#111" stroke-width="1.6"/>
<line x1="438.7" y1="1155.3" x2="429.5" y2="1169.9" stroke="#111" stroke-width="1.6"/>
<line x1="444.2" y1="1158.1" x2="424" y2="1167.1" stroke="#111" stroke-width="1.6"/>
<polygon points="428.1,1181.2 440.1,1181.2 447.4,1186.9 447.4,1192.9 440.1,1198.6 428.1,1198.6 420.8,1192.9 420.8,1186.9" fill="#fff" stroke="#111" stroke-width="2.3" stroke-linejoin="round"/>
<line x1="421.8" y1="1189.9" x2="446.4" y2="1189.9" stroke="#111" stroke-width="1.6"/>
<line x1="424" y1="1185.4" x2="444.2" y2="1194.4" stroke="#111" stroke-width="1.6"/>
<line x1="429.5" y1="1182.6" x2="438.7" y2="1197.2" stroke="#111" stroke-width="1.6"/>
<line x1="438.7" y1="1182.6" x2="429.5" y2="1197.2" stroke="#111" stroke-width="1.6"/>
<line x1="444.2" y1="1185.4" x2="424" y2="1194.4" stroke="#111" stroke-width="1.6"/>
<polygon points="428.1,1208.5 440.1,1208.5 447.4,1214.2 447.4,1220.2 440.1,1225.9 428.1,1225.9 420.8,1220.2 420.8,1214.2" fill="#fff" stroke="#111" stroke-width="2.3" stroke-linejoin="round"/>
<line x1="421.8" y1="1217.2" x2="446.4" y2="1217.2" stroke="#111" stroke-width="1.6"/>
<line x1="424" y1="1212.7" x2="444.2" y2="1221.7" stroke="#111" stroke-width="1.6"/>
<line x1="429.5" y1="1209.9" x2="438.7" y2="1224.5" stroke="#111" stroke-width="1.6"/>
<line x1="438.7" y1="1209.9" x2="429.5" y2="1224.5" stroke="#111" stroke-width="1.6"/>
<line x1="444.2" y1="1212.7" x2="424" y2="1221.7" stroke="#111" stroke-width="1.6"/>
<polygon points="428.1,1235.8 440.1,1235.8 447.4,1241.5 447.4,1247.5 440.1,1253.2 428.1,1253.2 420.8,1247.5 420.8,1241.5" fill="#fff" stroke="#111" stroke-width="2.3" stroke-linejoin="round"/>
<line x1="421.8" y1="1244.5" x2="446.4" y2="1244.5" stroke="#111" stroke-width="1.6"/>
<line x1="424" y1="1240" x2="444.2" y2="1249" stroke="#111" stroke-width="1.6"/>
<line x1="429.5" y1="1237.2" x2="438.7" y2="1251.8" stroke="#111" stroke-width="1.6"/>
<line x1="438.7" y1="1237.2" x2="429.5" y2="1251.8" stroke="#111" stroke-width="1.6"/>
<line x1="444.2" y1="1240" x2="424" y2="1249" stroke="#111" stroke-width="1.6"/>
<polygon points="428.1,1263.1 440.1,1263.1 447.4,1268.8 447.4,1274.8 440.1,1280.5 428.1,1280.5 420.8,1274.8 420.8,1268.8" fill="#fff" stroke="#111" stroke-width="2.3" stroke-linejoin="round"/>
<line x1="421.8" y1="1271.8" x2="446.4" y2="1271.8" stroke="#111" stroke-width="1.6"/>
<line x1="424" y1="1267.3" x2="444.2" y2="1276.3" stroke="#111" stroke-width="1.6"/>
<line x1="429.5" y1="1264.5" x2="438.7" y2="1279.1" stroke="#111" stroke-width="1.6"/>
<line x1="438.7" y1="1264.5" x2="429.5" y2="1279.1" stroke="#111" stroke-width="1.6"/>
<line x1="444.2" y1="1267.3" x2="424" y2="1276.3" stroke="#111" stroke-width="1.6"/>
<polygon points="428.1,1290.4 440.1,1290.4 447.4,1296.1 447.4,1302.1 440.1,1307.8 428.1,1307.8 420.8,1302.1 420.8,1296.1" fill="#fff" stroke="#111" stroke-width="2.3" stroke-linejoin="round"/>
<line x1="421.8" y1="1299.1" x2="446.4" y2="1299.1" stroke="#111" stroke-width="1.6"/>
<line x1="424" y1="1294.6" x2="444.2" y2="1303.6" stroke="#111" stroke-width="1.6"/>
<line x1="429.5" y1="1291.8" x2="438.7" y2="1306.4" stroke="#111" stroke-width="1.6"/>
<line x1="438.7" y1="1291.8" x2="429.5" y2="1306.4" stroke="#111" stroke-width="1.6"/>
<line x1="444.2" y1="1294.6" x2="424" y2="1303.6" stroke="#111" stroke-width="1.6"/>
<polygon points="428.1,1317.7 440.1,1317.7 447.4,1323.4 447.4,1329.4 440.1,1335.1 428.1,1335.1 420.8,1329.4 420.8,1323.4" fill="#fff" stroke="#111" stroke-width="2.3" stroke-linejoin="round"/>
<line x1="421.8" y1="1326.4" x2="446.4" y2="1326.4" stroke="#111" stroke-width="1.6"/>
<line x1="424" y1="1321.9" x2="444.2" y2="1330.9" stroke="#111" stroke-width="1.6"/>
<line x1="429.5" y1="1319.1" x2="438.7" y2="1333.7" stroke="#111" stroke-width="1.6"/>
<line x1="438.7" y1="1319.1" x2="429.5" y2="1333.7" stroke="#111" stroke-width="1.6"/>
<line x1="444.2" y1="1321.9" x2="424" y2="1330.9" stroke="#111" stroke-width="1.6"/>
<polygon points="428.1,1345 440.1,1345 447.4,1350.7 447.4,1356.7 440.1,1362.4 428.1,1362.4 420.8,1356.7 420.8,1350.7" fill="#fff" stroke="#111" stroke-width="2.3" stroke-linejoin="round"/>
<line x1="421.8" y1="1353.7" x2="446.4" y2="1353.7" stroke="#111" stroke-width="1.6"/>
<line x1="424" y1="1349.2" x2="444.2" y2="1358.2" stroke="#111" stroke-width="1.6"/>
<line x1="429.5" y1="1346.4" x2="438.7" y2="1361" stroke="#111" stroke-width="1.6"/>
<line x1="438.7" y1="1346.4" x2="429.5" y2="1361" stroke="#111" stroke-width="1.6"/>
<line x1="444.2" y1="1349.2" x2="424" y2="1358.2" stroke="#111" stroke-width="1.6"/>
<path d="M479.6,1080 C479.1,1074 490.1,1072 490.1,1077.5 C490.1,1081 485.1,1083 484.1,1084.5" fill="none" stroke="#111" stroke-width="2"/>
<ellipse cx="484.1" cy="1092" rx="11.5" ry="7.5" fill="#fff" stroke="#111" stroke-width="2.4"/>
<rect x="481.6" y="1116" width="7" height="11.3" rx="0" fill="#fff" stroke="#111" stroke-width="1.6"/>
<rect x="481.6" y="1143.3" width="7" height="11.3" rx="0" fill="#fff" stroke="#111" stroke-width="1.6"/>
<rect x="481.6" y="1170.6" width="7" height="11.3" rx="0" fill="#fff" stroke="#111" stroke-width="1.6"/>
<rect x="481.6" y="1197.9" width="7" height="11.3" rx="0" fill="#fff" stroke="#111" stroke-width="1.6"/>
<rect x="481.6" y="1225.2" width="7" height="11.3" rx="0" fill="#fff" stroke="#111" stroke-width="1.6"/>
<rect x="481.6" y="1252.5" width="7" height="11.3" rx="0" fill="#fff" stroke="#111" stroke-width="1.6"/>
<rect x="481.6" y="1279.8" width="7" height="11.3" rx="0" fill="#fff" stroke="#111" stroke-width="1.6"/>
<rect x="481.6" y="1307.1" width="7" height="11.3" rx="0" fill="#fff" stroke="#111" stroke-width="1.6"/>
<rect x="481.6" y="1334.4" width="7" height="11.3" rx="0" fill="#fff" stroke="#111" stroke-width="1.6"/>
<polygon points="479.1,1099.3 491.1,1099.3 498.4,1105 498.4,1111 491.1,1116.7 479.1,1116.7 471.8,1111 471.8,1105" fill="#fff" stroke="#111" stroke-width="2.3" stroke-linejoin="round"/>
<line x1="472.8" y1="1108" x2="497.4" y2="1108" stroke="#111" stroke-width="1.6"/>
<line x1="475" y1="1103.5" x2="495.2" y2="1112.5" stroke="#111" stroke-width="1.6"/>
<line x1="480.5" y1="1100.7" x2="489.7" y2="1115.3" stroke="#111" stroke-width="1.6"/>
<line x1="489.7" y1="1100.7" x2="480.5" y2="1115.3" stroke="#111" stroke-width="1.6"/>
<line x1="495.2" y1="1103.5" x2="475" y2="1112.5" stroke="#111" stroke-width="1.6"/>
<polygon points="479.1,1126.6 491.1,1126.6 498.4,1132.3 498.4,1138.3 491.1,1144 479.1,1144 471.8,1138.3 471.8,1132.3" fill="#fff" stroke="#111" stroke-width="2.3" stroke-linejoin="round"/>
<line x1="472.8" y1="1135.3" x2="497.4" y2="1135.3" stroke="#111" stroke-width="1.6"/>
<line x1="475" y1="1130.8" x2="495.2" y2="1139.8" stroke="#111" stroke-width="1.6"/>
<line x1="480.5" y1="1128" x2="489.7" y2="1142.6" stroke="#111" stroke-width="1.6"/>
<line x1="489.7" y1="1128" x2="480.5" y2="1142.6" stroke="#111" stroke-width="1.6"/>
<line x1="495.2" y1="1130.8" x2="475" y2="1139.8" stroke="#111" stroke-width="1.6"/>
<polygon points="479.1,1153.9 491.1,1153.9 498.4,1159.6 498.4,1165.6 491.1,1171.3 479.1,1171.3 471.8,1165.6 471.8,1159.6" fill="#fff" stroke="#111" stroke-width="2.3" stroke-linejoin="round"/>
<line x1="472.8" y1="1162.6" x2="497.4" y2="1162.6" stroke="#111" stroke-width="1.6"/>
<line x1="475" y1="1158.1" x2="495.2" y2="1167.1" stroke="#111" stroke-width="1.6"/>
<line x1="480.5" y1="1155.3" x2="489.7" y2="1169.9" stroke="#111" stroke-width="1.6"/>
<line x1="489.7" y1="1155.3" x2="480.5" y2="1169.9" stroke="#111" stroke-width="1.6"/>
<line x1="495.2" y1="1158.1" x2="475" y2="1167.1" stroke="#111" stroke-width="1.6"/>
<polygon points="479.1,1181.2 491.1,1181.2 498.4,1186.9 498.4,1192.9 491.1,1198.6 479.1,1198.6 471.8,1192.9 471.8,1186.9" fill="#fff" stroke="#111" stroke-width="2.3" stroke-linejoin="round"/>
<line x1="472.8" y1="1189.9" x2="497.4" y2="1189.9" stroke="#111" stroke-width="1.6"/>
<line x1="475" y1="1185.4" x2="495.2" y2="1194.4" stroke="#111" stroke-width="1.6"/>
<line x1="480.5" y1="1182.6" x2="489.7" y2="1197.2" stroke="#111" stroke-width="1.6"/>
<line x1="489.7" y1="1182.6" x2="480.5" y2="1197.2" stroke="#111" stroke-width="1.6"/>
<line x1="495.2" y1="1185.4" x2="475" y2="1194.4" stroke="#111" stroke-width="1.6"/>
<polygon points="479.1,1208.5 491.1,1208.5 498.4,1214.2 498.4,1220.2 491.1,1225.9 479.1,1225.9 471.8,1220.2 471.8,1214.2" fill="#fff" stroke="#111" stroke-width="2.3" stroke-linejoin="round"/>
<line x1="472.8" y1="1217.2" x2="497.4" y2="1217.2" stroke="#111" stroke-width="1.6"/>
<line x1="475" y1="1212.7" x2="495.2" y2="1221.7" stroke="#111" stroke-width="1.6"/>
<line x1="480.5" y1="1209.9" x2="489.7" y2="1224.5" stroke="#111" stroke-width="1.6"/>
<line x1="489.7" y1="1209.9" x2="480.5" y2="1224.5" stroke="#111" stroke-width="1.6"/>
<line x1="495.2" y1="1212.7" x2="475" y2="1221.7" stroke="#111" stroke-width="1.6"/>
<polygon points="479.1,1235.8 491.1,1235.8 498.4,1241.5 498.4,1247.5 491.1,1253.2 479.1,1253.2 471.8,1247.5 471.8,1241.5" fill="#fff" stroke="#111" stroke-width="2.3" stroke-linejoin="round"/>
<line x1="472.8" y1="1244.5" x2="497.4" y2="1244.5" stroke="#111" stroke-width="1.6"/>
<line x1="475" y1="1240" x2="495.2" y2="1249" stroke="#111" stroke-width="1.6"/>
<line x1="480.5" y1="1237.2" x2="489.7" y2="1251.8" stroke="#111" stroke-width="1.6"/>
<line x1="489.7" y1="1237.2" x2="480.5" y2="1251.8" stroke="#111" stroke-width="1.6"/>
<line x1="495.2" y1="1240" x2="475" y2="1249" stroke="#111" stroke-width="1.6"/>
<polygon points="479.1,1263.1 491.1,1263.1 498.4,1268.8 498.4,1274.8 491.1,1280.5 479.1,1280.5 471.8,1274.8 471.8,1268.8" fill="#fff" stroke="#111" stroke-width="2.3" stroke-linejoin="round"/>
<line x1="472.8" y1="1271.8" x2="497.4" y2="1271.8" stroke="#111" stroke-width="1.6"/>
<line x1="475" y1="1267.3" x2="495.2" y2="1276.3" stroke="#111" stroke-width="1.6"/>
<line x1="480.5" y1="1264.5" x2="489.7" y2="1279.1" stroke="#111" stroke-width="1.6"/>
<line x1="489.7" y1="1264.5" x2="480.5" y2="1279.1" stroke="#111" stroke-width="1.6"/>
<line x1="495.2" y1="1267.3" x2="475" y2="1276.3" stroke="#111" stroke-width="1.6"/>
<polygon points="479.1,1290.4 491.1,1290.4 498.4,1296.1 498.4,1302.1 491.1,1307.8 479.1,1307.8 471.8,1302.1 471.8,1296.1" fill="#fff" stroke="#111" stroke-width="2.3" stroke-linejoin="round"/>
<line x1="472.8" y1="1299.1" x2="497.4" y2="1299.1" stroke="#111" stroke-width="1.6"/>
<line x1="475" y1="1294.6" x2="495.2" y2="1303.6" stroke="#111" stroke-width="1.6"/>
<line x1="480.5" y1="1291.8" x2="489.7" y2="1306.4" stroke="#111" stroke-width="1.6"/>
<line x1="489.7" y1="1291.8" x2="480.5" y2="1306.4" stroke="#111" stroke-width="1.6"/>
<line x1="495.2" y1="1294.6" x2="475" y2="1303.6" stroke="#111" stroke-width="1.6"/>
<polygon points="479.1,1317.7 491.1,1317.7 498.4,1323.4 498.4,1329.4 491.1,1335.1 479.1,1335.1 471.8,1329.4 471.8,1323.4" fill="#fff" stroke="#111" stroke-width="2.3" stroke-linejoin="round"/>
<line x1="472.8" y1="1326.4" x2="497.4" y2="1326.4" stroke="#111" stroke-width="1.6"/>
<line x1="475" y1="1321.9" x2="495.2" y2="1330.9" stroke="#111" stroke-width="1.6"/>
<line x1="480.5" y1="1319.1" x2="489.7" y2="1333.7" stroke="#111" stroke-width="1.6"/>
<line x1="489.7" y1="1319.1" x2="480.5" y2="1333.7" stroke="#111" stroke-width="1.6"/>
<line x1="495.2" y1="1321.9" x2="475" y2="1330.9" stroke="#111" stroke-width="1.6"/>
<polygon points="479.1,1345 491.1,1345 498.4,1350.7 498.4,1356.7 491.1,1362.4 479.1,1362.4 471.8,1356.7 471.8,1350.7" fill="#fff" stroke="#111" stroke-width="2.3" stroke-linejoin="round"/>
<line x1="472.8" y1="1353.7" x2="497.4" y2="1353.7" stroke="#111" stroke-width="1.6"/>
<line x1="475" y1="1349.2" x2="495.2" y2="1358.2" stroke="#111" stroke-width="1.6"/>
<line x1="480.5" y1="1346.4" x2="489.7" y2="1361" stroke="#111" stroke-width="1.6"/>
<line x1="489.7" y1="1346.4" x2="480.5" y2="1361" stroke="#111" stroke-width="1.6"/>
<line x1="495.2" y1="1349.2" x2="475" y2="1358.2" stroke="#111" stroke-width="1.6"/>
<rect x="481.6" y="1361.7" width="7" height="10" rx="0" fill="#fff" stroke="#111" stroke-width="1.6"/>
<ellipse cx="485.1" cy="1396.4" rx="36.3" ry="25.8" fill="#fff" stroke="#111" stroke-width="2.2"/>
<line x1="448.8" y1="1396.4" x2="521.4" y2="1396.4" stroke="#111" stroke-width="1.7"/>
<line x1="450" y1="1389.7" x2="520.2" y2="1403.1" stroke="#111" stroke-width="1.7"/>
<line x1="453.7" y1="1383.5" x2="516.5" y2="1409.3" stroke="#111" stroke-width="1.7"/>
<line x1="459.4" y1="1378.2" x2="510.8" y2="1414.6" stroke="#111" stroke-width="1.7"/>
<line x1="467" y1="1374.1" x2="503.2" y2="1418.7" stroke="#111" stroke-width="1.7"/>
<line x1="475.7" y1="1371.5" x2="494.5" y2="1421.3" stroke="#111" stroke-width="1.7"/>
<line x1="485.1" y1="1370.6" x2="485.1" y2="1422.2" stroke="#111" stroke-width="1.7"/>
<line x1="494.5" y1="1371.5" x2="475.7" y2="1421.3" stroke="#111" stroke-width="1.7"/>
<line x1="503.2" y1="1374.1" x2="467" y2="1418.7" stroke="#111" stroke-width="1.7"/>
<line x1="510.8" y1="1378.2" x2="459.4" y2="1414.6" stroke="#111" stroke-width="1.7"/>
<line x1="516.5" y1="1383.5" x2="453.7" y2="1409.3" stroke="#111" stroke-width="1.7"/>
<line x1="520.2" y1="1389.7" x2="450" y2="1403.1" stroke="#111" stroke-width="1.7"/>
<ellipse cx="485.1" cy="1396.4" rx="5" ry="3.5" fill="#fff" stroke="#111" stroke-width="1.8"/>
<circle cx="485.1" cy="1374.6" r="2" fill="#111"/>
<circle cx="485.1" cy="1418.2" r="2" fill="#111"/>
<path d="M550.2,1080 C549.7,1074 560.7,1072 560.7,1077.5 C560.7,1081 555.7,1083 554.7,1084.5" fill="none" stroke="#111" stroke-width="2"/>
<ellipse cx="554.7" cy="1092" rx="11.5" ry="7.5" fill="#fff" stroke="#111" stroke-width="2.4"/>
<rect x="552.2" y="1116" width="7" height="11.3" rx="0" fill="#fff" stroke="#111" stroke-width="1.6"/>
<rect x="552.2" y="1143.3" width="7" height="11.3" rx="0" fill="#fff" stroke="#111" stroke-width="1.6"/>
<rect x="552.2" y="1170.6" width="7" height="11.3" rx="0" fill="#fff" stroke="#111" stroke-width="1.6"/>
<rect x="552.2" y="1197.9" width="7" height="11.3" rx="0" fill="#fff" stroke="#111" stroke-width="1.6"/>
<rect x="552.2" y="1225.2" width="7" height="11.3" rx="0" fill="#fff" stroke="#111" stroke-width="1.6"/>
<rect x="552.2" y="1252.5" width="7" height="11.3" rx="0" fill="#fff" stroke="#111" stroke-width="1.6"/>
<rect x="552.2" y="1279.8" width="7" height="11.3" rx="0" fill="#fff" stroke="#111" stroke-width="1.6"/>
<rect x="552.2" y="1307.1" width="7" height="11.3" rx="0" fill="#fff" stroke="#111" stroke-width="1.6"/>
<rect x="552.2" y="1334.4" width="7" height="11.3" rx="0" fill="#fff" stroke="#111" stroke-width="1.6"/>
<rect x="552.2" y="1361.7" width="7" height="11.3" rx="0" fill="#fff" stroke="#111" stroke-width="1.6"/>
<rect x="552.2" y="1389" width="7" height="11.3" rx="0" fill="#fff" stroke="#111" stroke-width="1.6"/>
<polygon points="549.7,1099.3 561.7,1099.3 569,1105 569,1111 561.7,1116.7 549.7,1116.7 542.4,1111 542.4,1105" fill="#fff" stroke="#111" stroke-width="2.3" stroke-linejoin="round"/>
<line x1="543.4" y1="1108" x2="568" y2="1108" stroke="#111" stroke-width="1.6"/>
<line x1="545.6" y1="1103.5" x2="565.8" y2="1112.5" stroke="#111" stroke-width="1.6"/>
<line x1="551.1" y1="1100.7" x2="560.3" y2="1115.3" stroke="#111" stroke-width="1.6"/>
<line x1="560.3" y1="1100.7" x2="551.1" y2="1115.3" stroke="#111" stroke-width="1.6"/>
<line x1="565.8" y1="1103.5" x2="545.6" y2="1112.5" stroke="#111" stroke-width="1.6"/>
<polygon points="549.7,1126.6 561.7,1126.6 569,1132.3 569,1138.3 561.7,1144 549.7,1144 542.4,1138.3 542.4,1132.3" fill="#fff" stroke="#111" stroke-width="2.3" stroke-linejoin="round"/>
<line x1="543.4" y1="1135.3" x2="568" y2="1135.3" stroke="#111" stroke-width="1.6"/>
<line x1="545.6" y1="1130.8" x2="565.8" y2="1139.8" stroke="#111" stroke-width="1.6"/>
<line x1="551.1" y1="1128" x2="560.3" y2="1142.6" stroke="#111" stroke-width="1.6"/>
<line x1="560.3" y1="1128" x2="551.1" y2="1142.6" stroke="#111" stroke-width="1.6"/>
<line x1="565.8" y1="1130.8" x2="545.6" y2="1139.8" stroke="#111" stroke-width="1.6"/>
<polygon points="549.7,1153.9 561.7,1153.9 569,1159.6 569,1165.6 561.7,1171.3 549.7,1171.3 542.4,1165.6 542.4,1159.6" fill="#fff" stroke="#111" stroke-width="2.3" stroke-linejoin="round"/>
<line x1="543.4" y1="1162.6" x2="568" y2="1162.6" stroke="#111" stroke-width="1.6"/>
<line x1="545.6" y1="1158.1" x2="565.8" y2="1167.1" stroke="#111" stroke-width="1.6"/>
<line x1="551.1" y1="1155.3" x2="560.3" y2="1169.9" stroke="#111" stroke-width="1.6"/>
<line x1="560.3" y1="1155.3" x2="551.1" y2="1169.9" stroke="#111" stroke-width="1.6"/>
<line x1="565.8" y1="1158.1" x2="545.6" y2="1167.1" stroke="#111" stroke-width="1.6"/>
<polygon points="549.7,1181.2 561.7,1181.2 569,1186.9 569,1192.9 561.7,1198.6 549.7,1198.6 542.4,1192.9 542.4,1186.9" fill="#fff" stroke="#111" stroke-width="2.3" stroke-linejoin="round"/>
<line x1="543.4" y1="1189.9" x2="568" y2="1189.9" stroke="#111" stroke-width="1.6"/>
<line x1="545.6" y1="1185.4" x2="565.8" y2="1194.4" stroke="#111" stroke-width="1.6"/>
<line x1="551.1" y1="1182.6" x2="560.3" y2="1197.2" stroke="#111" stroke-width="1.6"/>
<line x1="560.3" y1="1182.6" x2="551.1" y2="1197.2" stroke="#111" stroke-width="1.6"/>
<line x1="565.8" y1="1185.4" x2="545.6" y2="1194.4" stroke="#111" stroke-width="1.6"/>
<polygon points="549.7,1208.5 561.7,1208.5 569,1214.2 569,1220.2 561.7,1225.9 549.7,1225.9 542.4,1220.2 542.4,1214.2" fill="#fff" stroke="#111" stroke-width="2.3" stroke-linejoin="round"/>
<line x1="543.4" y1="1217.2" x2="568" y2="1217.2" stroke="#111" stroke-width="1.6"/>
<line x1="545.6" y1="1212.7" x2="565.8" y2="1221.7" stroke="#111" stroke-width="1.6"/>
<line x1="551.1" y1="1209.9" x2="560.3" y2="1224.5" stroke="#111" stroke-width="1.6"/>
<line x1="560.3" y1="1209.9" x2="551.1" y2="1224.5" stroke="#111" stroke-width="1.6"/>
<line x1="565.8" y1="1212.7" x2="545.6" y2="1221.7" stroke="#111" stroke-width="1.6"/>
<polygon points="549.7,1235.8 561.7,1235.8 569,1241.5 569,1247.5 561.7,1253.2 549.7,1253.2 542.4,1247.5 542.4,1241.5" fill="#fff" stroke="#111" stroke-width="2.3" stroke-linejoin="round"/>
<line x1="543.4" y1="1244.5" x2="568" y2="1244.5" stroke="#111" stroke-width="1.6"/>
<line x1="545.6" y1="1240" x2="565.8" y2="1249" stroke="#111" stroke-width="1.6"/>
<line x1="551.1" y1="1237.2" x2="560.3" y2="1251.8" stroke="#111" stroke-width="1.6"/>
<line x1="560.3" y1="1237.2" x2="551.1" y2="1251.8" stroke="#111" stroke-width="1.6"/>
<line x1="565.8" y1="1240" x2="545.6" y2="1249" stroke="#111" stroke-width="1.6"/>
<polygon points="549.7,1263.1 561.7,1263.1 569,1268.8 569,1274.8 561.7,1280.5 549.7,1280.5 542.4,1274.8 542.4,1268.8" fill="#fff" stroke="#111" stroke-width="2.3" stroke-linejoin="round"/>
<line x1="543.4" y1="1271.8" x2="568" y2="1271.8" stroke="#111" stroke-width="1.6"/>
<line x1="545.6" y1="1267.3" x2="565.8" y2="1276.3" stroke="#111" stroke-width="1.6"/>
<line x1="551.1" y1="1264.5" x2="560.3" y2="1279.1" stroke="#111" stroke-width="1.6"/>
<line x1="560.3" y1="1264.5" x2="551.1" y2="1279.1" stroke="#111" stroke-width="1.6"/>
<line x1="565.8" y1="1267.3" x2="545.6" y2="1276.3" stroke="#111" stroke-width="1.6"/>
<polygon points="549.7,1290.4 561.7,1290.4 569,1296.1 569,1302.1 561.7,1307.8 549.7,1307.8 542.4,1302.1 542.4,1296.1" fill="#fff" stroke="#111" stroke-width="2.3" stroke-linejoin="round"/>
<line x1="543.4" y1="1299.1" x2="568" y2="1299.1" stroke="#111" stroke-width="1.6"/>
<line x1="545.6" y1="1294.6" x2="565.8" y2="1303.6" stroke="#111" stroke-width="1.6"/>
<line x1="551.1" y1="1291.8" x2="560.3" y2="1306.4" stroke="#111" stroke-width="1.6"/>
<line x1="560.3" y1="1291.8" x2="551.1" y2="1306.4" stroke="#111" stroke-width="1.6"/>
<line x1="565.8" y1="1294.6" x2="545.6" y2="1303.6" stroke="#111" stroke-width="1.6"/>
<polygon points="549.7,1317.7 561.7,1317.7 569,1323.4 569,1329.4 561.7,1335.1 549.7,1335.1 542.4,1329.4 542.4,1323.4" fill="#fff" stroke="#111" stroke-width="2.3" stroke-linejoin="round"/>
<line x1="543.4" y1="1326.4" x2="568" y2="1326.4" stroke="#111" stroke-width="1.6"/>
<line x1="545.6" y1="1321.9" x2="565.8" y2="1330.9" stroke="#111" stroke-width="1.6"/>
<line x1="551.1" y1="1319.1" x2="560.3" y2="1333.7" stroke="#111" stroke-width="1.6"/>
<line x1="560.3" y1="1319.1" x2="551.1" y2="1333.7" stroke="#111" stroke-width="1.6"/>
<line x1="565.8" y1="1321.9" x2="545.6" y2="1330.9" stroke="#111" stroke-width="1.6"/>
<polygon points="549.7,1345 561.7,1345 569,1350.7 569,1356.7 561.7,1362.4 549.7,1362.4 542.4,1356.7 542.4,1350.7" fill="#fff" stroke="#111" stroke-width="2.3" stroke-linejoin="round"/>
<line x1="543.4" y1="1353.7" x2="568" y2="1353.7" stroke="#111" stroke-width="1.6"/>
<line x1="545.6" y1="1349.2" x2="565.8" y2="1358.2" stroke="#111" stroke-width="1.6"/>
<line x1="551.1" y1="1346.4" x2="560.3" y2="1361" stroke="#111" stroke-width="1.6"/>
<line x1="560.3" y1="1346.4" x2="551.1" y2="1361" stroke="#111" stroke-width="1.6"/>
<line x1="565.8" y1="1349.2" x2="545.6" y2="1358.2" stroke="#111" stroke-width="1.6"/>
<polygon points="549.7,1372.3 561.7,1372.3 569,1378 569,1384 561.7,1389.7 549.7,1389.7 542.4,1384 542.4,1378" fill="#fff" stroke="#111" stroke-width="2.3" stroke-linejoin="round"/>
<line x1="543.4" y1="1381" x2="568" y2="1381" stroke="#111" stroke-width="1.6"/>
<line x1="545.6" y1="1376.5" x2="565.8" y2="1385.5" stroke="#111" stroke-width="1.6"/>
<line x1="551.1" y1="1373.7" x2="560.3" y2="1388.3" stroke="#111" stroke-width="1.6"/>
<line x1="560.3" y1="1373.7" x2="551.1" y2="1388.3" stroke="#111" stroke-width="1.6"/>
<line x1="565.8" y1="1376.5" x2="545.6" y2="1385.5" stroke="#111" stroke-width="1.6"/>
<polygon points="549.7,1399.6 561.7,1399.6 569,1405.3 569,1411.3 561.7,1417 549.7,1417 542.4,1411.3 542.4,1405.3" fill="#fff" stroke="#111" stroke-width="2.3" stroke-linejoin="round"/>
<line x1="543.4" y1="1408.3" x2="568" y2="1408.3" stroke="#111" stroke-width="1.6"/>
<line x1="545.6" y1="1403.8" x2="565.8" y2="1412.8" stroke="#111" stroke-width="1.6"/>
<line x1="551.1" y1="1401" x2="560.3" y2="1415.6" stroke="#111" stroke-width="1.6"/>
<line x1="560.3" y1="1401" x2="551.1" y2="1415.6" stroke="#111" stroke-width="1.6"/>
<line x1="565.8" y1="1403.8" x2="545.6" y2="1412.8" stroke="#111" stroke-width="1.6"/>
<path d="M600,1080 C599.5,1074 610.5,1072 610.5,1077.5 C610.5,1081 605.5,1083 604.5,1084.5" fill="none" stroke="#111" stroke-width="2"/>
<ellipse cx="604.5" cy="1092" rx="11.5" ry="7.5" fill="#fff" stroke="#111" stroke-width="2.4"/>
<rect x="602" y="1116" width="7" height="11.3" rx="0" fill="#fff" stroke="#111" stroke-width="1.6"/>
<rect x="602" y="1143.3" width="7" height="11.3" rx="0" fill="#fff" stroke="#111" stroke-width="1.6"/>
<rect x="602" y="1170.6" width="7" height="11.3" rx="0" fill="#fff" stroke="#111" stroke-width="1.6"/>
<rect x="602" y="1197.9" width="7" height="11.3" rx="0" fill="#fff" stroke="#111" stroke-width="1.6"/>
<rect x="602" y="1225.2" width="7" height="11.3" rx="0" fill="#fff" stroke="#111" stroke-width="1.6"/>
<rect x="602" y="1252.5" width="7" height="11.3" rx="0" fill="#fff" stroke="#111" stroke-width="1.6"/>
<rect x="602" y="1279.8" width="7" height="11.3" rx="0" fill="#fff" stroke="#111" stroke-width="1.6"/>
<rect x="602" y="1307.1" width="7" height="11.3" rx="0" fill="#fff" stroke="#111" stroke-width="1.6"/>
<rect x="602" y="1334.4" width="7" height="11.3" rx="0" fill="#fff" stroke="#111" stroke-width="1.6"/>
<rect x="602" y="1361.7" width="7" height="11.3" rx="0" fill="#fff" stroke="#111" stroke-width="1.6"/>
<rect x="602" y="1389" width="7" height="11.3" rx="0" fill="#fff" stroke="#111" stroke-width="1.6"/>
<polygon points="599.5,1099.3 611.5,1099.3 618.8,1105 618.8,1111 611.5,1116.7 599.5,1116.7 592.2,1111 592.2,1105" fill="#fff" stroke="#111" stroke-width="2.3" stroke-linejoin="round"/>
<line x1="593.2" y1="1108" x2="617.8" y2="1108" stroke="#111" stroke-width="1.6"/>
<line x1="595.4" y1="1103.5" x2="615.6" y2="1112.5" stroke="#111" stroke-width="1.6"/>
<line x1="600.9" y1="1100.7" x2="610.1" y2="1115.3" stroke="#111" stroke-width="1.6"/>
<line x1="610.1" y1="1100.7" x2="600.9" y2="1115.3" stroke="#111" stroke-width="1.6"/>
<line x1="615.6" y1="1103.5" x2="595.4" y2="1112.5" stroke="#111" stroke-width="1.6"/>
<polygon points="599.5,1126.6 611.5,1126.6 618.8,1132.3 618.8,1138.3 611.5,1144 599.5,1144 592.2,1138.3 592.2,1132.3" fill="#fff" stroke="#111" stroke-width="2.3" stroke-linejoin="round"/>
<line x1="593.2" y1="1135.3" x2="617.8" y2="1135.3" stroke="#111" stroke-width="1.6"/>
<line x1="595.4" y1="1130.8" x2="615.6" y2="1139.8" stroke="#111" stroke-width="1.6"/>
<line x1="600.9" y1="1128" x2="610.1" y2="1142.6" stroke="#111" stroke-width="1.6"/>
<line x1="610.1" y1="1128" x2="600.9" y2="1142.6" stroke="#111" stroke-width="1.6"/>
<line x1="615.6" y1="1130.8" x2="595.4" y2="1139.8" stroke="#111" stroke-width="1.6"/>
<polygon points="599.5,1153.9 611.5,1153.9 618.8,1159.6 618.8,1165.6 611.5,1171.3 599.5,1171.3 592.2,1165.6 592.2,1159.6" fill="#fff" stroke="#111" stroke-width="2.3" stroke-linejoin="round"/>
<line x1="593.2" y1="1162.6" x2="617.8" y2="1162.6" stroke="#111" stroke-width="1.6"/>
<line x1="595.4" y1="1158.1" x2="615.6" y2="1167.1" stroke="#111" stroke-width="1.6"/>
<line x1="600.9" y1="1155.3" x2="610.1" y2="1169.9" stroke="#111" stroke-width="1.6"/>
<line x1="610.1" y1="1155.3" x2="600.9" y2="1169.9" stroke="#111" stroke-width="1.6"/>
<line x1="615.6" y1="1158.1" x2="595.4" y2="1167.1" stroke="#111" stroke-width="1.6"/>
<polygon points="599.5,1181.2 611.5,1181.2 618.8,1186.9 618.8,1192.9 611.5,1198.6 599.5,1198.6 592.2,1192.9 592.2,1186.9" fill="#fff" stroke="#111" stroke-width="2.3" stroke-linejoin="round"/>
<line x1="593.2" y1="1189.9" x2="617.8" y2="1189.9" stroke="#111" stroke-width="1.6"/>
<line x1="595.4" y1="1185.4" x2="615.6" y2="1194.4" stroke="#111" stroke-width="1.6"/>
<line x1="600.9" y1="1182.6" x2="610.1" y2="1197.2" stroke="#111" stroke-width="1.6"/>
<line x1="610.1" y1="1182.6" x2="600.9" y2="1197.2" stroke="#111" stroke-width="1.6"/>
<line x1="615.6" y1="1185.4" x2="595.4" y2="1194.4" stroke="#111" stroke-width="1.6"/>
<polygon points="599.5,1208.5 611.5,1208.5 618.8,1214.2 618.8,1220.2 611.5,1225.9 599.5,1225.9 592.2,1220.2 592.2,1214.2" fill="#fff" stroke="#111" stroke-width="2.3" stroke-linejoin="round"/>
<line x1="593.2" y1="1217.2" x2="617.8" y2="1217.2" stroke="#111" stroke-width="1.6"/>
<line x1="595.4" y1="1212.7" x2="615.6" y2="1221.7" stroke="#111" stroke-width="1.6"/>
<line x1="600.9" y1="1209.9" x2="610.1" y2="1224.5" stroke="#111" stroke-width="1.6"/>
<line x1="610.1" y1="1209.9" x2="600.9" y2="1224.5" stroke="#111" stroke-width="1.6"/>
<line x1="615.6" y1="1212.7" x2="595.4" y2="1221.7" stroke="#111" stroke-width="1.6"/>
<polygon points="599.5,1235.8 611.5,1235.8 618.8,1241.5 618.8,1247.5 611.5,1253.2 599.5,1253.2 592.2,1247.5 592.2,1241.5" fill="#fff" stroke="#111" stroke-width="2.3" stroke-linejoin="round"/>
<line x1="593.2" y1="1244.5" x2="617.8" y2="1244.5" stroke="#111" stroke-width="1.6"/>
<line x1="595.4" y1="1240" x2="615.6" y2="1249" stroke="#111" stroke-width="1.6"/>
<line x1="600.9" y1="1237.2" x2="610.1" y2="1251.8" stroke="#111" stroke-width="1.6"/>
<line x1="610.1" y1="1237.2" x2="600.9" y2="1251.8" stroke="#111" stroke-width="1.6"/>
<line x1="615.6" y1="1240" x2="595.4" y2="1249" stroke="#111" stroke-width="1.6"/>
<polygon points="599.5,1263.1 611.5,1263.1 618.8,1268.8 618.8,1274.8 611.5,1280.5 599.5,1280.5 592.2,1274.8 592.2,1268.8" fill="#fff" stroke="#111" stroke-width="2.3" stroke-linejoin="round"/>
<line x1="593.2" y1="1271.8" x2="617.8" y2="1271.8" stroke="#111" stroke-width="1.6"/>
<line x1="595.4" y1="1267.3" x2="615.6" y2="1276.3" stroke="#111" stroke-width="1.6"/>
<line x1="600.9" y1="1264.5" x2="610.1" y2="1279.1" stroke="#111" stroke-width="1.6"/>
<line x1="610.1" y1="1264.5" x2="600.9" y2="1279.1" stroke="#111" stroke-width="1.6"/>
<line x1="615.6" y1="1267.3" x2="595.4" y2="1276.3" stroke="#111" stroke-width="1.6"/>
<polygon points="599.5,1290.4 611.5,1290.4 618.8,1296.1 618.8,1302.1 611.5,1307.8 599.5,1307.8 592.2,1302.1 592.2,1296.1" fill="#fff" stroke="#111" stroke-width="2.3" stroke-linejoin="round"/>
<line x1="593.2" y1="1299.1" x2="617.8" y2="1299.1" stroke="#111" stroke-width="1.6"/>
<line x1="595.4" y1="1294.6" x2="615.6" y2="1303.6" stroke="#111" stroke-width="1.6"/>
<line x1="600.9" y1="1291.8" x2="610.1" y2="1306.4" stroke="#111" stroke-width="1.6"/>
<line x1="610.1" y1="1291.8" x2="600.9" y2="1306.4" stroke="#111" stroke-width="1.6"/>
<line x1="615.6" y1="1294.6" x2="595.4" y2="1303.6" stroke="#111" stroke-width="1.6"/>
<polygon points="599.5,1317.7 611.5,1317.7 618.8,1323.4 618.8,1329.4 611.5,1335.1 599.5,1335.1 592.2,1329.4 592.2,1323.4" fill="#fff" stroke="#111" stroke-width="2.3" stroke-linejoin="round"/>
<line x1="593.2" y1="1326.4" x2="617.8" y2="1326.4" stroke="#111" stroke-width="1.6"/>
<line x1="595.4" y1="1321.9" x2="615.6" y2="1330.9" stroke="#111" stroke-width="1.6"/>
<line x1="600.9" y1="1319.1" x2="610.1" y2="1333.7" stroke="#111" stroke-width="1.6"/>
<line x1="610.1" y1="1319.1" x2="600.9" y2="1333.7" stroke="#111" stroke-width="1.6"/>
<line x1="615.6" y1="1321.9" x2="595.4" y2="1330.9" stroke="#111" stroke-width="1.6"/>
<polygon points="599.5,1345 611.5,1345 618.8,1350.7 618.8,1356.7 611.5,1362.4 599.5,1362.4 592.2,1356.7 592.2,1350.7" fill="#fff" stroke="#111" stroke-width="2.3" stroke-linejoin="round"/>
<line x1="593.2" y1="1353.7" x2="617.8" y2="1353.7" stroke="#111" stroke-width="1.6"/>
<line x1="595.4" y1="1349.2" x2="615.6" y2="1358.2" stroke="#111" stroke-width="1.6"/>
<line x1="600.9" y1="1346.4" x2="610.1" y2="1361" stroke="#111" stroke-width="1.6"/>
<line x1="610.1" y1="1346.4" x2="600.9" y2="1361" stroke="#111" stroke-width="1.6"/>
<line x1="615.6" y1="1349.2" x2="595.4" y2="1358.2" stroke="#111" stroke-width="1.6"/>
<polygon points="599.5,1372.3 611.5,1372.3 618.8,1378 618.8,1384 611.5,1389.7 599.5,1389.7 592.2,1384 592.2,1378" fill="#fff" stroke="#111" stroke-width="2.3" stroke-linejoin="round"/>
<line x1="593.2" y1="1381" x2="617.8" y2="1381" stroke="#111" stroke-width="1.6"/>
<line x1="595.4" y1="1376.5" x2="615.6" y2="1385.5" stroke="#111" stroke-width="1.6"/>
<line x1="600.9" y1="1373.7" x2="610.1" y2="1388.3" stroke="#111" stroke-width="1.6"/>
<line x1="610.1" y1="1373.7" x2="600.9" y2="1388.3" stroke="#111" stroke-width="1.6"/>
<line x1="615.6" y1="1376.5" x2="595.4" y2="1385.5" stroke="#111" stroke-width="1.6"/>
<polygon points="599.5,1399.6 611.5,1399.6 618.8,1405.3 618.8,1411.3 611.5,1417 599.5,1417 592.2,1411.3 592.2,1405.3" fill="#fff" stroke="#111" stroke-width="2.3" stroke-linejoin="round"/>
<line x1="593.2" y1="1408.3" x2="617.8" y2="1408.3" stroke="#111" stroke-width="1.6"/>
<line x1="595.4" y1="1403.8" x2="615.6" y2="1412.8" stroke="#111" stroke-width="1.6"/>
<line x1="600.9" y1="1401" x2="610.1" y2="1415.6" stroke="#111" stroke-width="1.6"/>
<line x1="610.1" y1="1401" x2="600.9" y2="1415.6" stroke="#111" stroke-width="1.6"/>
<line x1="615.6" y1="1403.8" x2="595.4" y2="1412.8" stroke="#111" stroke-width="1.6"/>
<rect x="602" y="1416.3" width="7" height="10" rx="0" fill="#fff" stroke="#111" stroke-width="1.6"/>
<ellipse cx="605.5" cy="1451" rx="36.3" ry="25.8" fill="#fff" stroke="#111" stroke-width="2.2"/>
<line x1="569.2" y1="1451" x2="641.8" y2="1451" stroke="#111" stroke-width="1.7"/>
<line x1="570.4" y1="1444.3" x2="640.6" y2="1457.7" stroke="#111" stroke-width="1.7"/>
<line x1="574.1" y1="1438.1" x2="636.9" y2="1463.9" stroke="#111" stroke-width="1.7"/>
<line x1="579.8" y1="1432.8" x2="631.2" y2="1469.2" stroke="#111" stroke-width="1.7"/>
<line x1="587.4" y1="1428.7" x2="623.6" y2="1473.3" stroke="#111" stroke-width="1.7"/>
<line x1="596.1" y1="1426.1" x2="614.9" y2="1475.9" stroke="#111" stroke-width="1.7"/>
<line x1="605.5" y1="1425.2" x2="605.5" y2="1476.8" stroke="#111" stroke-width="1.7"/>
<line x1="614.9" y1="1426.1" x2="596.1" y2="1475.9" stroke="#111" stroke-width="1.7"/>
<line x1="623.6" y1="1428.7" x2="587.4" y2="1473.3" stroke="#111" stroke-width="1.7"/>
<line x1="631.2" y1="1432.8" x2="579.8" y2="1469.2" stroke="#111" stroke-width="1.7"/>
<line x1="636.9" y1="1438.1" x2="574.1" y2="1463.9" stroke="#111" stroke-width="1.7"/>
<line x1="640.6" y1="1444.3" x2="570.4" y2="1457.7" stroke="#111" stroke-width="1.7"/>
<ellipse cx="605.5" cy="1451" rx="5" ry="3.5" fill="#fff" stroke="#111" stroke-width="1.8"/>
<circle cx="605.5" cy="1429.2" r="2" fill="#111"/>
<circle cx="605.5" cy="1472.8" r="2" fill="#111"/>
<path d="M663.4,1080 C662.9,1074 673.9,1072 673.9,1077.5 C673.9,1081 668.9,1083 667.9,1084.5" fill="none" stroke="#111" stroke-width="2"/>
<ellipse cx="667.9" cy="1092" rx="11.5" ry="7.5" fill="#fff" stroke="#111" stroke-width="2.4"/>
<rect x="665.4" y="1116" width="7" height="11.3" rx="0" fill="#fff" stroke="#111" stroke-width="1.6"/>
<rect x="665.4" y="1143.3" width="7" height="11.3" rx="0" fill="#fff" stroke="#111" stroke-width="1.6"/>
<rect x="665.4" y="1170.6" width="7" height="11.3" rx="0" fill="#fff" stroke="#111" stroke-width="1.6"/>
<rect x="665.4" y="1197.9" width="7" height="11.3" rx="0" fill="#fff" stroke="#111" stroke-width="1.6"/>
<rect x="665.4" y="1225.2" width="7" height="11.3" rx="0" fill="#fff" stroke="#111" stroke-width="1.6"/>
<rect x="665.4" y="1252.5" width="7" height="11.3" rx="0" fill="#fff" stroke="#111" stroke-width="1.6"/>
<rect x="665.4" y="1279.8" width="7" height="11.3" rx="0" fill="#fff" stroke="#111" stroke-width="1.6"/>
<rect x="665.4" y="1307.1" width="7" height="11.3" rx="0" fill="#fff" stroke="#111" stroke-width="1.6"/>
<rect x="665.4" y="1334.4" width="7" height="11.3" rx="0" fill="#fff" stroke="#111" stroke-width="1.6"/>
<rect x="665.4" y="1361.7" width="7" height="11.3" rx="0" fill="#fff" stroke="#111" stroke-width="1.6"/>
<rect x="665.4" y="1389" width="7" height="11.3" rx="0" fill="#fff" stroke="#111" stroke-width="1.6"/>
<rect x="665.4" y="1416.3" width="7" height="11.3" rx="0" fill="#fff" stroke="#111" stroke-width="1.6"/>
<rect x="665.4" y="1443.6" width="7" height="11.3" rx="0" fill="#fff" stroke="#111" stroke-width="1.6"/>
<polygon points="662.9,1099.3 674.9,1099.3 682.2,1105 682.2,1111 674.9,1116.7 662.9,1116.7 655.6,1111 655.6,1105" fill="#fff" stroke="#111" stroke-width="2.3" stroke-linejoin="round"/>
<line x1="656.6" y1="1108" x2="681.2" y2="1108" stroke="#111" stroke-width="1.6"/>
<line x1="658.8" y1="1103.5" x2="679" y2="1112.5" stroke="#111" stroke-width="1.6"/>
<line x1="664.3" y1="1100.7" x2="673.5" y2="1115.3" stroke="#111" stroke-width="1.6"/>
<line x1="673.5" y1="1100.7" x2="664.3" y2="1115.3" stroke="#111" stroke-width="1.6"/>
<line x1="679" y1="1103.5" x2="658.8" y2="1112.5" stroke="#111" stroke-width="1.6"/>
<polygon points="662.9,1126.6 674.9,1126.6 682.2,1132.3 682.2,1138.3 674.9,1144 662.9,1144 655.6,1138.3 655.6,1132.3" fill="#fff" stroke="#111" stroke-width="2.3" stroke-linejoin="round"/>
<line x1="656.6" y1="1135.3" x2="681.2" y2="1135.3" stroke="#111" stroke-width="1.6"/>
<line x1="658.8" y1="1130.8" x2="679" y2="1139.8" stroke="#111" stroke-width="1.6"/>
<line x1="664.3" y1="1128" x2="673.5" y2="1142.6" stroke="#111" stroke-width="1.6"/>
<line x1="673.5" y1="1128" x2="664.3" y2="1142.6" stroke="#111" stroke-width="1.6"/>
<line x1="679" y1="1130.8" x2="658.8" y2="1139.8" stroke="#111" stroke-width="1.6"/>
<polygon points="662.9,1153.9 674.9,1153.9 682.2,1159.6 682.2,1165.6 674.9,1171.3 662.9,1171.3 655.6,1165.6 655.6,1159.6" fill="#fff" stroke="#111" stroke-width="2.3" stroke-linejoin="round"/>
<line x1="656.6" y1="1162.6" x2="681.2" y2="1162.6" stroke="#111" stroke-width="1.6"/>
<line x1="658.8" y1="1158.1" x2="679" y2="1167.1" stroke="#111" stroke-width="1.6"/>
<line x1="664.3" y1="1155.3" x2="673.5" y2="1169.9" stroke="#111" stroke-width="1.6"/>
<line x1="673.5" y1="1155.3" x2="664.3" y2="1169.9" stroke="#111" stroke-width="1.6"/>
<line x1="679" y1="1158.1" x2="658.8" y2="1167.1" stroke="#111" stroke-width="1.6"/>
<polygon points="662.9,1181.2 674.9,1181.2 682.2,1186.9 682.2,1192.9 674.9,1198.6 662.9,1198.6 655.6,1192.9 655.6,1186.9" fill="#fff" stroke="#111" stroke-width="2.3" stroke-linejoin="round"/>
<line x1="656.6" y1="1189.9" x2="681.2" y2="1189.9" stroke="#111" stroke-width="1.6"/>
<line x1="658.8" y1="1185.4" x2="679" y2="1194.4" stroke="#111" stroke-width="1.6"/>
<line x1="664.3" y1="1182.6" x2="673.5" y2="1197.2" stroke="#111" stroke-width="1.6"/>
<line x1="673.5" y1="1182.6" x2="664.3" y2="1197.2" stroke="#111" stroke-width="1.6"/>
<line x1="679" y1="1185.4" x2="658.8" y2="1194.4" stroke="#111" stroke-width="1.6"/>
<polygon points="662.9,1208.5 674.9,1208.5 682.2,1214.2 682.2,1220.2 674.9,1225.9 662.9,1225.9 655.6,1220.2 655.6,1214.2" fill="#fff" stroke="#111" stroke-width="2.3" stroke-linejoin="round"/>
<line x1="656.6" y1="1217.2" x2="681.2" y2="1217.2" stroke="#111" stroke-width="1.6"/>
<line x1="658.8" y1="1212.7" x2="679" y2="1221.7" stroke="#111" stroke-width="1.6"/>
<line x1="664.3" y1="1209.9" x2="673.5" y2="1224.5" stroke="#111" stroke-width="1.6"/>
<line x1="673.5" y1="1209.9" x2="664.3" y2="1224.5" stroke="#111" stroke-width="1.6"/>
<line x1="679" y1="1212.7" x2="658.8" y2="1221.7" stroke="#111" stroke-width="1.6"/>
<polygon points="662.9,1235.8 674.9,1235.8 682.2,1241.5 682.2,1247.5 674.9,1253.2 662.9,1253.2 655.6,1247.5 655.6,1241.5" fill="#fff" stroke="#111" stroke-width="2.3" stroke-linejoin="round"/>
<line x1="656.6" y1="1244.5" x2="681.2" y2="1244.5" stroke="#111" stroke-width="1.6"/>
<line x1="658.8" y1="1240" x2="679" y2="1249" stroke="#111" stroke-width="1.6"/>
<line x1="664.3" y1="1237.2" x2="673.5" y2="1251.8" stroke="#111" stroke-width="1.6"/>
<line x1="673.5" y1="1237.2" x2="664.3" y2="1251.8" stroke="#111" stroke-width="1.6"/>
<line x1="679" y1="1240" x2="658.8" y2="1249" stroke="#111" stroke-width="1.6"/>
<polygon points="662.9,1263.1 674.9,1263.1 682.2,1268.8 682.2,1274.8 674.9,1280.5 662.9,1280.5 655.6,1274.8 655.6,1268.8" fill="#fff" stroke="#111" stroke-width="2.3" stroke-linejoin="round"/>
<line x1="656.6" y1="1271.8" x2="681.2" y2="1271.8" stroke="#111" stroke-width="1.6"/>
<line x1="658.8" y1="1267.3" x2="679" y2="1276.3" stroke="#111" stroke-width="1.6"/>
<line x1="664.3" y1="1264.5" x2="673.5" y2="1279.1" stroke="#111" stroke-width="1.6"/>
<line x1="673.5" y1="1264.5" x2="664.3" y2="1279.1" stroke="#111" stroke-width="1.6"/>
<line x1="679" y1="1267.3" x2="658.8" y2="1276.3" stroke="#111" stroke-width="1.6"/>
<polygon points="662.9,1290.4 674.9,1290.4 682.2,1296.1 682.2,1302.1 674.9,1307.8 662.9,1307.8 655.6,1302.1 655.6,1296.1" fill="#fff" stroke="#111" stroke-width="2.3" stroke-linejoin="round"/>
<line x1="656.6" y1="1299.1" x2="681.2" y2="1299.1" stroke="#111" stroke-width="1.6"/>
<line x1="658.8" y1="1294.6" x2="679" y2="1303.6" stroke="#111" stroke-width="1.6"/>
<line x1="664.3" y1="1291.8" x2="673.5" y2="1306.4" stroke="#111" stroke-width="1.6"/>
<line x1="673.5" y1="1291.8" x2="664.3" y2="1306.4" stroke="#111" stroke-width="1.6"/>
<line x1="679" y1="1294.6" x2="658.8" y2="1303.6" stroke="#111" stroke-width="1.6"/>
<polygon points="662.9,1317.7 674.9,1317.7 682.2,1323.4 682.2,1329.4 674.9,1335.1 662.9,1335.1 655.6,1329.4 655.6,1323.4" fill="#fff" stroke="#111" stroke-width="2.3" stroke-linejoin="round"/>
<line x1="656.6" y1="1326.4" x2="681.2" y2="1326.4" stroke="#111" stroke-width="1.6"/>
<line x1="658.8" y1="1321.9" x2="679" y2="1330.9" stroke="#111" stroke-width="1.6"/>
<line x1="664.3" y1="1319.1" x2="673.5" y2="1333.7" stroke="#111" stroke-width="1.6"/>
<line x1="673.5" y1="1319.1" x2="664.3" y2="1333.7" stroke="#111" stroke-width="1.6"/>
<line x1="679" y1="1321.9" x2="658.8" y2="1330.9" stroke="#111" stroke-width="1.6"/>
<polygon points="662.9,1345 674.9,1345 682.2,1350.7 682.2,1356.7 674.9,1362.4 662.9,1362.4 655.6,1356.7 655.6,1350.7" fill="#fff" stroke="#111" stroke-width="2.3" stroke-linejoin="round"/>
<line x1="656.6" y1="1353.7" x2="681.2" y2="1353.7" stroke="#111" stroke-width="1.6"/>
<line x1="658.8" y1="1349.2" x2="679" y2="1358.2" stroke="#111" stroke-width="1.6"/>
<line x1="664.3" y1="1346.4" x2="673.5" y2="1361" stroke="#111" stroke-width="1.6"/>
<line x1="673.5" y1="1346.4" x2="664.3" y2="1361" stroke="#111" stroke-width="1.6"/>
<line x1="679" y1="1349.2" x2="658.8" y2="1358.2" stroke="#111" stroke-width="1.6"/>
<polygon points="662.9,1372.3 674.9,1372.3 682.2,1378 682.2,1384 674.9,1389.7 662.9,1389.7 655.6,1384 655.6,1378" fill="#fff" stroke="#111" stroke-width="2.3" stroke-linejoin="round"/>
<line x1="656.6" y1="1381" x2="681.2" y2="1381" stroke="#111" stroke-width="1.6"/>
<line x1="658.8" y1="1376.5" x2="679" y2="1385.5" stroke="#111" stroke-width="1.6"/>
<line x1="664.3" y1="1373.7" x2="673.5" y2="1388.3" stroke="#111" stroke-width="1.6"/>
<line x1="673.5" y1="1373.7" x2="664.3" y2="1388.3" stroke="#111" stroke-width="1.6"/>
<line x1="679" y1="1376.5" x2="658.8" y2="1385.5" stroke="#111" stroke-width="1.6"/>
<polygon points="662.9,1399.6 674.9,1399.6 682.2,1405.3 682.2,1411.3 674.9,1417 662.9,1417 655.6,1411.3 655.6,1405.3" fill="#fff" stroke="#111" stroke-width="2.3" stroke-linejoin="round"/>
<line x1="656.6" y1="1408.3" x2="681.2" y2="1408.3" stroke="#111" stroke-width="1.6"/>
<line x1="658.8" y1="1403.8" x2="679" y2="1412.8" stroke="#111" stroke-width="1.6"/>
<line x1="664.3" y1="1401" x2="673.5" y2="1415.6" stroke="#111" stroke-width="1.6"/>
<line x1="673.5" y1="1401" x2="664.3" y2="1415.6" stroke="#111" stroke-width="1.6"/>
<line x1="679" y1="1403.8" x2="658.8" y2="1412.8" stroke="#111" stroke-width="1.6"/>
<polygon points="662.9,1426.9 674.9,1426.9 682.2,1432.6 682.2,1438.6 674.9,1444.3 662.9,1444.3 655.6,1438.6 655.6,1432.6" fill="#fff" stroke="#111" stroke-width="2.3" stroke-linejoin="round"/>
<line x1="656.6" y1="1435.6" x2="681.2" y2="1435.6" stroke="#111" stroke-width="1.6"/>
<line x1="658.8" y1="1431.1" x2="679" y2="1440.1" stroke="#111" stroke-width="1.6"/>
<line x1="664.3" y1="1428.3" x2="673.5" y2="1442.9" stroke="#111" stroke-width="1.6"/>
<line x1="673.5" y1="1428.3" x2="664.3" y2="1442.9" stroke="#111" stroke-width="1.6"/>
<line x1="679" y1="1431.1" x2="658.8" y2="1440.1" stroke="#111" stroke-width="1.6"/>
<polygon points="662.9,1454.2 674.9,1454.2 682.2,1459.9 682.2,1465.9 674.9,1471.6 662.9,1471.6 655.6,1465.9 655.6,1459.9" fill="#fff" stroke="#111" stroke-width="2.3" stroke-linejoin="round"/>
<line x1="656.6" y1="1462.9" x2="681.2" y2="1462.9" stroke="#111" stroke-width="1.6"/>
<line x1="658.8" y1="1458.4" x2="679" y2="1467.4" stroke="#111" stroke-width="1.6"/>
<line x1="664.3" y1="1455.6" x2="673.5" y2="1470.2" stroke="#111" stroke-width="1.6"/>
<line x1="673.5" y1="1455.6" x2="664.3" y2="1470.2" stroke="#111" stroke-width="1.6"/>
<line x1="679" y1="1458.4" x2="658.8" y2="1467.4" stroke="#111" stroke-width="1.6"/>
<path d="M708.4,1080 C707.9,1074 718.9,1072 718.9,1077.5 C718.9,1081 713.9,1083 712.9,1084.5" fill="none" stroke="#111" stroke-width="2"/>
<ellipse cx="712.9" cy="1092" rx="11.5" ry="7.5" fill="#fff" stroke="#111" stroke-width="2.4"/>
<rect x="710.4" y="1116" width="7" height="11.3" rx="0" fill="#fff" stroke="#111" stroke-width="1.6"/>
<rect x="710.4" y="1143.3" width="7" height="11.3" rx="0" fill="#fff" stroke="#111" stroke-width="1.6"/>
<rect x="710.4" y="1170.6" width="7" height="11.3" rx="0" fill="#fff" stroke="#111" stroke-width="1.6"/>
<rect x="710.4" y="1197.9" width="7" height="11.3" rx="0" fill="#fff" stroke="#111" stroke-width="1.6"/>
<rect x="710.4" y="1225.2" width="7" height="11.3" rx="0" fill="#fff" stroke="#111" stroke-width="1.6"/>
<rect x="710.4" y="1252.5" width="7" height="11.3" rx="0" fill="#fff" stroke="#111" stroke-width="1.6"/>
<rect x="710.4" y="1279.8" width="7" height="11.3" rx="0" fill="#fff" stroke="#111" stroke-width="1.6"/>
<rect x="710.4" y="1307.1" width="7" height="11.3" rx="0" fill="#fff" stroke="#111" stroke-width="1.6"/>
<rect x="710.4" y="1334.4" width="7" height="11.3" rx="0" fill="#fff" stroke="#111" stroke-width="1.6"/>
<rect x="710.4" y="1361.7" width="7" height="11.3" rx="0" fill="#fff" stroke="#111" stroke-width="1.6"/>
<rect x="710.4" y="1389" width="7" height="11.3" rx="0" fill="#fff" stroke="#111" stroke-width="1.6"/>
<rect x="710.4" y="1416.3" width="7" height="11.3" rx="0" fill="#fff" stroke="#111" stroke-width="1.6"/>
<rect x="710.4" y="1443.6" width="7" height="11.3" rx="0" fill="#fff" stroke="#111" stroke-width="1.6"/>
<polygon points="707.9,1099.3 719.9,1099.3 727.2,1105 727.2,1111 719.9,1116.7 707.9,1116.7 700.6,1111 700.6,1105" fill="#fff" stroke="#111" stroke-width="2.3" stroke-linejoin="round"/>
<line x1="701.6" y1="1108" x2="726.2" y2="1108" stroke="#111" stroke-width="1.6"/>
<line x1="703.8" y1="1103.5" x2="724" y2="1112.5" stroke="#111" stroke-width="1.6"/>
<line x1="709.3" y1="1100.7" x2="718.5" y2="1115.3" stroke="#111" stroke-width="1.6"/>
<line x1="718.5" y1="1100.7" x2="709.3" y2="1115.3" stroke="#111" stroke-width="1.6"/>
<line x1="724" y1="1103.5" x2="703.8" y2="1112.5" stroke="#111" stroke-width="1.6"/>
<polygon points="707.9,1126.6 719.9,1126.6 727.2,1132.3 727.2,1138.3 719.9,1144 707.9,1144 700.6,1138.3 700.6,1132.3" fill="#fff" stroke="#111" stroke-width="2.3" stroke-linejoin="round"/>
<line x1="701.6" y1="1135.3" x2="726.2" y2="1135.3" stroke="#111" stroke-width="1.6"/>
<line x1="703.8" y1="1130.8" x2="724" y2="1139.8" stroke="#111" stroke-width="1.6"/>
<line x1="709.3" y1="1128" x2="718.5" y2="1142.6" stroke="#111" stroke-width="1.6"/>
<line x1="718.5" y1="1128" x2="709.3" y2="1142.6" stroke="#111" stroke-width="1.6"/>
<line x1="724" y1="1130.8" x2="703.8" y2="1139.8" stroke="#111" stroke-width="1.6"/>
<polygon points="707.9,1153.9 719.9,1153.9 727.2,1159.6 727.2,1165.6 719.9,1171.3 707.9,1171.3 700.6,1165.6 700.6,1159.6" fill="#fff" stroke="#111" stroke-width="2.3" stroke-linejoin="round"/>
<line x1="701.6" y1="1162.6" x2="726.2" y2="1162.6" stroke="#111" stroke-width="1.6"/>
<line x1="703.8" y1="1158.1" x2="724" y2="1167.1" stroke="#111" stroke-width="1.6"/>
<line x1="709.3" y1="1155.3" x2="718.5" y2="1169.9" stroke="#111" stroke-width="1.6"/>
<line x1="718.5" y1="1155.3" x2="709.3" y2="1169.9" stroke="#111" stroke-width="1.6"/>
<line x1="724" y1="1158.1" x2="703.8" y2="1167.1" stroke="#111" stroke-width="1.6"/>
<polygon points="707.9,1181.2 719.9,1181.2 727.2,1186.9 727.2,1192.9 719.9,1198.6 707.9,1198.6 700.6,1192.9 700.6,1186.9" fill="#fff" stroke="#111" stroke-width="2.3" stroke-linejoin="round"/>
<line x1="701.6" y1="1189.9" x2="726.2" y2="1189.9" stroke="#111" stroke-width="1.6"/>
<line x1="703.8" y1="1185.4" x2="724" y2="1194.4" stroke="#111" stroke-width="1.6"/>
<line x1="709.3" y1="1182.6" x2="718.5" y2="1197.2" stroke="#111" stroke-width="1.6"/>
<line x1="718.5" y1="1182.6" x2="709.3" y2="1197.2" stroke="#111" stroke-width="1.6"/>
<line x1="724" y1="1185.4" x2="703.8" y2="1194.4" stroke="#111" stroke-width="1.6"/>
<polygon points="707.9,1208.5 719.9,1208.5 727.2,1214.2 727.2,1220.2 719.9,1225.9 707.9,1225.9 700.6,1220.2 700.6,1214.2" fill="#fff" stroke="#111" stroke-width="2.3" stroke-linejoin="round"/>
<line x1="701.6" y1="1217.2" x2="726.2" y2="1217.2" stroke="#111" stroke-width="1.6"/>
<line x1="703.8" y1="1212.7" x2="724" y2="1221.7" stroke="#111" stroke-width="1.6"/>
<line x1="709.3" y1="1209.9" x2="718.5" y2="1224.5" stroke="#111" stroke-width="1.6"/>
<line x1="718.5" y1="1209.9" x2="709.3" y2="1224.5" stroke="#111" stroke-width="1.6"/>
<line x1="724" y1="1212.7" x2="703.8" y2="1221.7" stroke="#111" stroke-width="1.6"/>
<polygon points="707.9,1235.8 719.9,1235.8 727.2,1241.5 727.2,1247.5 719.9,1253.2 707.9,1253.2 700.6,1247.5 700.6,1241.5" fill="#fff" stroke="#111" stroke-width="2.3" stroke-linejoin="round"/>
<line x1="701.6" y1="1244.5" x2="726.2" y2="1244.5" stroke="#111" stroke-width="1.6"/>
<line x1="703.8" y1="1240" x2="724" y2="1249" stroke="#111" stroke-width="1.6"/>
<line x1="709.3" y1="1237.2" x2="718.5" y2="1251.8" stroke="#111" stroke-width="1.6"/>
<line x1="718.5" y1="1237.2" x2="709.3" y2="1251.8" stroke="#111" stroke-width="1.6"/>
<line x1="724" y1="1240" x2="703.8" y2="1249" stroke="#111" stroke-width="1.6"/>
<polygon points="707.9,1263.1 719.9,1263.1 727.2,1268.8 727.2,1274.8 719.9,1280.5 707.9,1280.5 700.6,1274.8 700.6,1268.8" fill="#fff" stroke="#111" stroke-width="2.3" stroke-linejoin="round"/>
<line x1="701.6" y1="1271.8" x2="726.2" y2="1271.8" stroke="#111" stroke-width="1.6"/>
<line x1="703.8" y1="1267.3" x2="724" y2="1276.3" stroke="#111" stroke-width="1.6"/>
<line x1="709.3" y1="1264.5" x2="718.5" y2="1279.1" stroke="#111" stroke-width="1.6"/>
<line x1="718.5" y1="1264.5" x2="709.3" y2="1279.1" stroke="#111" stroke-width="1.6"/>
<line x1="724" y1="1267.3" x2="703.8" y2="1276.3" stroke="#111" stroke-width="1.6"/>
<polygon points="707.9,1290.4 719.9,1290.4 727.2,1296.1 727.2,1302.1 719.9,1307.8 707.9,1307.8 700.6,1302.1 700.6,1296.1" fill="#fff" stroke="#111" stroke-width="2.3" stroke-linejoin="round"/>
<line x1="701.6" y1="1299.1" x2="726.2" y2="1299.1" stroke="#111" stroke-width="1.6"/>
<line x1="703.8" y1="1294.6" x2="724" y2="1303.6" stroke="#111" stroke-width="1.6"/>
<line x1="709.3" y1="1291.8" x2="718.5" y2="1306.4" stroke="#111" stroke-width="1.6"/>
<line x1="718.5" y1="1291.8" x2="709.3" y2="1306.4" stroke="#111" stroke-width="1.6"/>
<line x1="724" y1="1294.6" x2="703.8" y2="1303.6" stroke="#111" stroke-width="1.6"/>
<polygon points="707.9,1317.7 719.9,1317.7 727.2,1323.4 727.2,1329.4 719.9,1335.1 707.9,1335.1 700.6,1329.4 700.6,1323.4" fill="#fff" stroke="#111" stroke-width="2.3" stroke-linejoin="round"/>
<line x1="701.6" y1="1326.4" x2="726.2" y2="1326.4" stroke="#111" stroke-width="1.6"/>
<line x1="703.8" y1="1321.9" x2="724" y2="1330.9" stroke="#111" stroke-width="1.6"/>
<line x1="709.3" y1="1319.1" x2="718.5" y2="1333.7" stroke="#111" stroke-width="1.6"/>
<line x1="718.5" y1="1319.1" x2="709.3" y2="1333.7" stroke="#111" stroke-width="1.6"/>
<line x1="724" y1="1321.9" x2="703.8" y2="1330.9" stroke="#111" stroke-width="1.6"/>
<polygon points="707.9,1345 719.9,1345 727.2,1350.7 727.2,1356.7 719.9,1362.4 707.9,1362.4 700.6,1356.7 700.6,1350.7" fill="#fff" stroke="#111" stroke-width="2.3" stroke-linejoin="round"/>
<line x1="701.6" y1="1353.7" x2="726.2" y2="1353.7" stroke="#111" stroke-width="1.6"/>
<line x1="703.8" y1="1349.2" x2="724" y2="1358.2" stroke="#111" stroke-width="1.6"/>
<line x1="709.3" y1="1346.4" x2="718.5" y2="1361" stroke="#111" stroke-width="1.6"/>
<line x1="718.5" y1="1346.4" x2="709.3" y2="1361" stroke="#111" stroke-width="1.6"/>
<line x1="724" y1="1349.2" x2="703.8" y2="1358.2" stroke="#111" stroke-width="1.6"/>
<polygon points="707.9,1372.3 719.9,1372.3 727.2,1378 727.2,1384 719.9,1389.7 707.9,1389.7 700.6,1384 700.6,1378" fill="#fff" stroke="#111" stroke-width="2.3" stroke-linejoin="round"/>
<line x1="701.6" y1="1381" x2="726.2" y2="1381" stroke="#111" stroke-width="1.6"/>
<line x1="703.8" y1="1376.5" x2="724" y2="1385.5" stroke="#111" stroke-width="1.6"/>
<line x1="709.3" y1="1373.7" x2="718.5" y2="1388.3" stroke="#111" stroke-width="1.6"/>
<line x1="718.5" y1="1373.7" x2="709.3" y2="1388.3" stroke="#111" stroke-width="1.6"/>
<line x1="724" y1="1376.5" x2="703.8" y2="1385.5" stroke="#111" stroke-width="1.6"/>
<polygon points="707.9,1399.6 719.9,1399.6 727.2,1405.3 727.2,1411.3 719.9,1417 707.9,1417 700.6,1411.3 700.6,1405.3" fill="#fff" stroke="#111" stroke-width="2.3" stroke-linejoin="round"/>
<line x1="701.6" y1="1408.3" x2="726.2" y2="1408.3" stroke="#111" stroke-width="1.6"/>
<line x1="703.8" y1="1403.8" x2="724" y2="1412.8" stroke="#111" stroke-width="1.6"/>
<line x1="709.3" y1="1401" x2="718.5" y2="1415.6" stroke="#111" stroke-width="1.6"/>
<line x1="718.5" y1="1401" x2="709.3" y2="1415.6" stroke="#111" stroke-width="1.6"/>
<line x1="724" y1="1403.8" x2="703.8" y2="1412.8" stroke="#111" stroke-width="1.6"/>
<polygon points="707.9,1426.9 719.9,1426.9 727.2,1432.6 727.2,1438.6 719.9,1444.3 707.9,1444.3 700.6,1438.6 700.6,1432.6" fill="#fff" stroke="#111" stroke-width="2.3" stroke-linejoin="round"/>
<line x1="701.6" y1="1435.6" x2="726.2" y2="1435.6" stroke="#111" stroke-width="1.6"/>
<line x1="703.8" y1="1431.1" x2="724" y2="1440.1" stroke="#111" stroke-width="1.6"/>
<line x1="709.3" y1="1428.3" x2="718.5" y2="1442.9" stroke="#111" stroke-width="1.6"/>
<line x1="718.5" y1="1428.3" x2="709.3" y2="1442.9" stroke="#111" stroke-width="1.6"/>
<line x1="724" y1="1431.1" x2="703.8" y2="1440.1" stroke="#111" stroke-width="1.6"/>
<polygon points="707.9,1454.2 719.9,1454.2 727.2,1459.9 727.2,1465.9 719.9,1471.6 707.9,1471.6 700.6,1465.9 700.6,1459.9" fill="#fff" stroke="#111" stroke-width="2.3" stroke-linejoin="round"/>
<line x1="701.6" y1="1462.9" x2="726.2" y2="1462.9" stroke="#111" stroke-width="1.6"/>
<line x1="703.8" y1="1458.4" x2="724" y2="1467.4" stroke="#111" stroke-width="1.6"/>
<line x1="709.3" y1="1455.6" x2="718.5" y2="1470.2" stroke="#111" stroke-width="1.6"/>
<line x1="718.5" y1="1455.6" x2="709.3" y2="1470.2" stroke="#111" stroke-width="1.6"/>
<line x1="724" y1="1458.4" x2="703.8" y2="1467.4" stroke="#111" stroke-width="1.6"/>
<rect x="710.4" y="1470.9" width="7" height="10" rx="0" fill="#fff" stroke="#111" stroke-width="1.6"/>
<ellipse cx="713.9" cy="1505.6" rx="36.3" ry="25.8" fill="#fff" stroke="#111" stroke-width="2.2"/>
<line x1="677.6" y1="1505.6" x2="750.2" y2="1505.6" stroke="#111" stroke-width="1.7"/>
<line x1="678.8" y1="1498.9" x2="749" y2="1512.3" stroke="#111" stroke-width="1.7"/>
<line x1="682.5" y1="1492.7" x2="745.3" y2="1518.5" stroke="#111" stroke-width="1.7"/>
<line x1="688.2" y1="1487.4" x2="739.6" y2="1523.8" stroke="#111" stroke-width="1.7"/>
<line x1="695.8" y1="1483.3" x2="732" y2="1527.9" stroke="#111" stroke-width="1.7"/>
<line x1="704.5" y1="1480.7" x2="723.3" y2="1530.5" stroke="#111" stroke-width="1.7"/>
<line x1="713.9" y1="1479.8" x2="713.9" y2="1531.4" stroke="#111" stroke-width="1.7"/>
<line x1="723.3" y1="1480.7" x2="704.5" y2="1530.5" stroke="#111" stroke-width="1.7"/>
<line x1="732" y1="1483.3" x2="695.8" y2="1527.9" stroke="#111" stroke-width="1.7"/>
<line x1="739.6" y1="1487.4" x2="688.2" y2="1523.8" stroke="#111" stroke-width="1.7"/>
<line x1="745.3" y1="1492.7" x2="682.5" y2="1518.5" stroke="#111" stroke-width="1.7"/>
<line x1="749" y1="1498.9" x2="678.8" y2="1512.3" stroke="#111" stroke-width="1.7"/>
<ellipse cx="713.9" cy="1505.6" rx="5" ry="3.5" fill="#fff" stroke="#111" stroke-width="1.8"/>
<circle cx="713.9" cy="1483.8" r="2" fill="#111"/>
<circle cx="713.9" cy="1527.4" r="2" fill="#111"/>
<path d="M772.2,1080 C771.7,1074 782.7,1072 782.7,1077.5 C782.7,1081 777.7,1083 776.7,1084.5" fill="none" stroke="#111" stroke-width="2"/>
<ellipse cx="776.7" cy="1092" rx="11.5" ry="7.5" fill="#fff" stroke="#111" stroke-width="2.4"/>
<rect x="774.2" y="1116" width="7" height="11.3" rx="0" fill="#fff" stroke="#111" stroke-width="1.6"/>
<rect x="774.2" y="1143.3" width="7" height="11.3" rx="0" fill="#fff" stroke="#111" stroke-width="1.6"/>
<rect x="774.2" y="1170.6" width="7" height="11.3" rx="0" fill="#fff" stroke="#111" stroke-width="1.6"/>
<rect x="774.2" y="1197.9" width="7" height="11.3" rx="0" fill="#fff" stroke="#111" stroke-width="1.6"/>
<rect x="774.2" y="1225.2" width="7" height="11.3" rx="0" fill="#fff" stroke="#111" stroke-width="1.6"/>
<rect x="774.2" y="1252.5" width="7" height="11.3" rx="0" fill="#fff" stroke="#111" stroke-width="1.6"/>
<rect x="774.2" y="1279.8" width="7" height="11.3" rx="0" fill="#fff" stroke="#111" stroke-width="1.6"/>
<rect x="774.2" y="1307.1" width="7" height="11.3" rx="0" fill="#fff" stroke="#111" stroke-width="1.6"/>
<rect x="774.2" y="1334.4" width="7" height="11.3" rx="0" fill="#fff" stroke="#111" stroke-width="1.6"/>
<rect x="774.2" y="1361.7" width="7" height="11.3" rx="0" fill="#fff" stroke="#111" stroke-width="1.6"/>
<rect x="774.2" y="1389" width="7" height="11.3" rx="0" fill="#fff" stroke="#111" stroke-width="1.6"/>
<rect x="774.2" y="1416.3" width="7" height="11.3" rx="0" fill="#fff" stroke="#111" stroke-width="1.6"/>
<rect x="774.2" y="1443.6" width="7" height="11.3" rx="0" fill="#fff" stroke="#111" stroke-width="1.6"/>
<rect x="774.2" y="1470.9" width="7" height="11.3" rx="0" fill="#fff" stroke="#111" stroke-width="1.6"/>
<rect x="774.2" y="1498.2" width="7" height="11.3" rx="0" fill="#fff" stroke="#111" stroke-width="1.6"/>
<polygon points="771.7,1099.3 783.7,1099.3 791,1105 791,1111 783.7,1116.7 771.7,1116.7 764.4,1111 764.4,1105" fill="#fff" stroke="#111" stroke-width="2.3" stroke-linejoin="round"/>
<line x1="765.4" y1="1108" x2="790" y2="1108" stroke="#111" stroke-width="1.6"/>
<line x1="767.6" y1="1103.5" x2="787.8" y2="1112.5" stroke="#111" stroke-width="1.6"/>
<line x1="773.1" y1="1100.7" x2="782.3" y2="1115.3" stroke="#111" stroke-width="1.6"/>
<line x1="782.3" y1="1100.7" x2="773.1" y2="1115.3" stroke="#111" stroke-width="1.6"/>
<line x1="787.8" y1="1103.5" x2="767.6" y2="1112.5" stroke="#111" stroke-width="1.6"/>
<polygon points="771.7,1126.6 783.7,1126.6 791,1132.3 791,1138.3 783.7,1144 771.7,1144 764.4,1138.3 764.4,1132.3" fill="#fff" stroke="#111" stroke-width="2.3" stroke-linejoin="round"/>
<line x1="765.4" y1="1135.3" x2="790" y2="1135.3" stroke="#111" stroke-width="1.6"/>
<line x1="767.6" y1="1130.8" x2="787.8" y2="1139.8" stroke="#111" stroke-width="1.6"/>
<line x1="773.1" y1="1128" x2="782.3" y2="1142.6" stroke="#111" stroke-width="1.6"/>
<line x1="782.3" y1="1128" x2="773.1" y2="1142.6" stroke="#111" stroke-width="1.6"/>
<line x1="787.8" y1="1130.8" x2="767.6" y2="1139.8" stroke="#111" stroke-width="1.6"/>
<polygon points="771.7,1153.9 783.7,1153.9 791,1159.6 791,1165.6 783.7,1171.3 771.7,1171.3 764.4,1165.6 764.4,1159.6" fill="#fff" stroke="#111" stroke-width="2.3" stroke-linejoin="round"/>
<line x1="765.4" y1="1162.6" x2="790" y2="1162.6" stroke="#111" stroke-width="1.6"/>
<line x1="767.6" y1="1158.1" x2="787.8" y2="1167.1" stroke="#111" stroke-width="1.6"/>
<line x1="773.1" y1="1155.3" x2="782.3" y2="1169.9" stroke="#111" stroke-width="1.6"/>
<line x1="782.3" y1="1155.3" x2="773.1" y2="1169.9" stroke="#111" stroke-width="1.6"/>
<line x1="787.8" y1="1158.1" x2="767.6" y2="1167.1" stroke="#111" stroke-width="1.6"/>
<polygon points="771.7,1181.2 783.7,1181.2 791,1186.9 791,1192.9 783.7,1198.6 771.7,1198.6 764.4,1192.9 764.4,1186.9" fill="#fff" stroke="#111" stroke-width="2.3" stroke-linejoin="round"/>
<line x1="765.4" y1="1189.9" x2="790" y2="1189.9" stroke="#111" stroke-width="1.6"/>
<line x1="767.6" y1="1185.4" x2="787.8" y2="1194.4" stroke="#111" stroke-width="1.6"/>
<line x1="773.1" y1="1182.6" x2="782.3" y2="1197.2" stroke="#111" stroke-width="1.6"/>
<line x1="782.3" y1="1182.6" x2="773.1" y2="1197.2" stroke="#111" stroke-width="1.6"/>
<line x1="787.8" y1="1185.4" x2="767.6" y2="1194.4" stroke="#111" stroke-width="1.6"/>
<polygon points="771.7,1208.5 783.7,1208.5 791,1214.2 791,1220.2 783.7,1225.9 771.7,1225.9 764.4,1220.2 764.4,1214.2" fill="#fff" stroke="#111" stroke-width="2.3" stroke-linejoin="round"/>
<line x1="765.4" y1="1217.2" x2="790" y2="1217.2" stroke="#111" stroke-width="1.6"/>
<line x1="767.6" y1="1212.7" x2="787.8" y2="1221.7" stroke="#111" stroke-width="1.6"/>
<line x1="773.1" y1="1209.9" x2="782.3" y2="1224.5" stroke="#111" stroke-width="1.6"/>
<line x1="782.3" y1="1209.9" x2="773.1" y2="1224.5" stroke="#111" stroke-width="1.6"/>
<line x1="787.8" y1="1212.7" x2="767.6" y2="1221.7" stroke="#111" stroke-width="1.6"/>
<polygon points="771.7,1235.8 783.7,1235.8 791,1241.5 791,1247.5 783.7,1253.2 771.7,1253.2 764.4,1247.5 764.4,1241.5" fill="#fff" stroke="#111" stroke-width="2.3" stroke-linejoin="round"/>
<line x1="765.4" y1="1244.5" x2="790" y2="1244.5" stroke="#111" stroke-width="1.6"/>
<line x1="767.6" y1="1240" x2="787.8" y2="1249" stroke="#111" stroke-width="1.6"/>
<line x1="773.1" y1="1237.2" x2="782.3" y2="1251.8" stroke="#111" stroke-width="1.6"/>
<line x1="782.3" y1="1237.2" x2="773.1" y2="1251.8" stroke="#111" stroke-width="1.6"/>
<line x1="787.8" y1="1240" x2="767.6" y2="1249" stroke="#111" stroke-width="1.6"/>
<polygon points="771.7,1263.1 783.7,1263.1 791,1268.8 791,1274.8 783.7,1280.5 771.7,1280.5 764.4,1274.8 764.4,1268.8" fill="#fff" stroke="#111" stroke-width="2.3" stroke-linejoin="round"/>
<line x1="765.4" y1="1271.8" x2="790" y2="1271.8" stroke="#111" stroke-width="1.6"/>
<line x1="767.6" y1="1267.3" x2="787.8" y2="1276.3" stroke="#111" stroke-width="1.6"/>
<line x1="773.1" y1="1264.5" x2="782.3" y2="1279.1" stroke="#111" stroke-width="1.6"/>
<line x1="782.3" y1="1264.5" x2="773.1" y2="1279.1" stroke="#111" stroke-width="1.6"/>
<line x1="787.8" y1="1267.3" x2="767.6" y2="1276.3" stroke="#111" stroke-width="1.6"/>
<polygon points="771.7,1290.4 783.7,1290.4 791,1296.1 791,1302.1 783.7,1307.8 771.7,1307.8 764.4,1302.1 764.4,1296.1" fill="#fff" stroke="#111" stroke-width="2.3" stroke-linejoin="round"/>
<line x1="765.4" y1="1299.1" x2="790" y2="1299.1" stroke="#111" stroke-width="1.6"/>
<line x1="767.6" y1="1294.6" x2="787.8" y2="1303.6" stroke="#111" stroke-width="1.6"/>
<line x1="773.1" y1="1291.8" x2="782.3" y2="1306.4" stroke="#111" stroke-width="1.6"/>
<line x1="782.3" y1="1291.8" x2="773.1" y2="1306.4" stroke="#111" stroke-width="1.6"/>
<line x1="787.8" y1="1294.6" x2="767.6" y2="1303.6" stroke="#111" stroke-width="1.6"/>
<polygon points="771.7,1317.7 783.7,1317.7 791,1323.4 791,1329.4 783.7,1335.1 771.7,1335.1 764.4,1329.4 764.4,1323.4" fill="#fff" stroke="#111" stroke-width="2.3" stroke-linejoin="round"/>
<line x1="765.4" y1="1326.4" x2="790" y2="1326.4" stroke="#111" stroke-width="1.6"/>
<line x1="767.6" y1="1321.9" x2="787.8" y2="1330.9" stroke="#111" stroke-width="1.6"/>
<line x1="773.1" y1="1319.1" x2="782.3" y2="1333.7" stroke="#111" stroke-width="1.6"/>
<line x1="782.3" y1="1319.1" x2="773.1" y2="1333.7" stroke="#111" stroke-width="1.6"/>
<line x1="787.8" y1="1321.9" x2="767.6" y2="1330.9" stroke="#111" stroke-width="1.6"/>
<polygon points="771.7,1345 783.7,1345 791,1350.7 791,1356.7 783.7,1362.4 771.7,1362.4 764.4,1356.7 764.4,1350.7" fill="#fff" stroke="#111" stroke-width="2.3" stroke-linejoin="round"/>
<line x1="765.4" y1="1353.7" x2="790" y2="1353.7" stroke="#111" stroke-width="1.6"/>
<line x1="767.6" y1="1349.2" x2="787.8" y2="1358.2" stroke="#111" stroke-width="1.6"/>
<line x1="773.1" y1="1346.4" x2="782.3" y2="1361" stroke="#111" stroke-width="1.6"/>
<line x1="782.3" y1="1346.4" x2="773.1" y2="1361" stroke="#111" stroke-width="1.6"/>
<line x1="787.8" y1="1349.2" x2="767.6" y2="1358.2" stroke="#111" stroke-width="1.6"/>
<polygon points="771.7,1372.3 783.7,1372.3 791,1378 791,1384 783.7,1389.7 771.7,1389.7 764.4,1384 764.4,1378" fill="#fff" stroke="#111" stroke-width="2.3" stroke-linejoin="round"/>
<line x1="765.4" y1="1381" x2="790" y2="1381" stroke="#111" stroke-width="1.6"/>
<line x1="767.6" y1="1376.5" x2="787.8" y2="1385.5" stroke="#111" stroke-width="1.6"/>
<line x1="773.1" y1="1373.7" x2="782.3" y2="1388.3" stroke="#111" stroke-width="1.6"/>
<line x1="782.3" y1="1373.7" x2="773.1" y2="1388.3" stroke="#111" stroke-width="1.6"/>
<line x1="787.8" y1="1376.5" x2="767.6" y2="1385.5" stroke="#111" stroke-width="1.6"/>
<polygon points="771.7,1399.6 783.7,1399.6 791,1405.3 791,1411.3 783.7,1417 771.7,1417 764.4,1411.3 764.4,1405.3" fill="#fff" stroke="#111" stroke-width="2.3" stroke-linejoin="round"/>
<line x1="765.4" y1="1408.3" x2="790" y2="1408.3" stroke="#111" stroke-width="1.6"/>
<line x1="767.6" y1="1403.8" x2="787.8" y2="1412.8" stroke="#111" stroke-width="1.6"/>
<line x1="773.1" y1="1401" x2="782.3" y2="1415.6" stroke="#111" stroke-width="1.6"/>
<line x1="782.3" y1="1401" x2="773.1" y2="1415.6" stroke="#111" stroke-width="1.6"/>
<line x1="787.8" y1="1403.8" x2="767.6" y2="1412.8" stroke="#111" stroke-width="1.6"/>
<polygon points="771.7,1426.9 783.7,1426.9 791,1432.6 791,1438.6 783.7,1444.3 771.7,1444.3 764.4,1438.6 764.4,1432.6" fill="#fff" stroke="#111" stroke-width="2.3" stroke-linejoin="round"/>
<line x1="765.4" y1="1435.6" x2="790" y2="1435.6" stroke="#111" stroke-width="1.6"/>
<line x1="767.6" y1="1431.1" x2="787.8" y2="1440.1" stroke="#111" stroke-width="1.6"/>
<line x1="773.1" y1="1428.3" x2="782.3" y2="1442.9" stroke="#111" stroke-width="1.6"/>
<line x1="782.3" y1="1428.3" x2="773.1" y2="1442.9" stroke="#111" stroke-width="1.6"/>
<line x1="787.8" y1="1431.1" x2="767.6" y2="1440.1" stroke="#111" stroke-width="1.6"/>
<polygon points="771.7,1454.2 783.7,1454.2 791,1459.9 791,1465.9 783.7,1471.6 771.7,1471.6 764.4,1465.9 764.4,1459.9" fill="#fff" stroke="#111" stroke-width="2.3" stroke-linejoin="round"/>
<line x1="765.4" y1="1462.9" x2="790" y2="1462.9" stroke="#111" stroke-width="1.6"/>
<line x1="767.6" y1="1458.4" x2="787.8" y2="1467.4" stroke="#111" stroke-width="1.6"/>
<line x1="773.1" y1="1455.6" x2="782.3" y2="1470.2" stroke="#111" stroke-width="1.6"/>
<line x1="782.3" y1="1455.6" x2="773.1" y2="1470.2" stroke="#111" stroke-width="1.6"/>
<line x1="787.8" y1="1458.4" x2="767.6" y2="1467.4" stroke="#111" stroke-width="1.6"/>
<polygon points="771.7,1481.5 783.7,1481.5 791,1487.2 791,1493.2 783.7,1498.9 771.7,1498.9 764.4,1493.2 764.4,1487.2" fill="#fff" stroke="#111" stroke-width="2.3" stroke-linejoin="round"/>
<line x1="765.4" y1="1490.2" x2="790" y2="1490.2" stroke="#111" stroke-width="1.6"/>
<line x1="767.6" y1="1485.7" x2="787.8" y2="1494.7" stroke="#111" stroke-width="1.6"/>
<line x1="773.1" y1="1482.9" x2="782.3" y2="1497.5" stroke="#111" stroke-width="1.6"/>
<line x1="782.3" y1="1482.9" x2="773.1" y2="1497.5" stroke="#111" stroke-width="1.6"/>
<line x1="787.8" y1="1485.7" x2="767.6" y2="1494.7" stroke="#111" stroke-width="1.6"/>
<polygon points="771.7,1508.8 783.7,1508.8 791,1514.5 791,1520.5 783.7,1526.2 771.7,1526.2 764.4,1520.5 764.4,1514.5" fill="#fff" stroke="#111" stroke-width="2.3" stroke-linejoin="round"/>
<line x1="765.4" y1="1517.5" x2="790" y2="1517.5" stroke="#111" stroke-width="1.6"/>
<line x1="767.6" y1="1513" x2="787.8" y2="1522" stroke="#111" stroke-width="1.6"/>
<line x1="773.1" y1="1510.2" x2="782.3" y2="1524.8" stroke="#111" stroke-width="1.6"/>
<line x1="782.3" y1="1510.2" x2="773.1" y2="1524.8" stroke="#111" stroke-width="1.6"/>
<line x1="787.8" y1="1513" x2="767.6" y2="1522" stroke="#111" stroke-width="1.6"/>
<path d="M816,1080 C815.5,1074 826.5,1072 826.5,1077.5 C826.5,1081 821.5,1083 820.5,1084.5" fill="none" stroke="#111" stroke-width="2"/>
<ellipse cx="820.5" cy="1092" rx="11.5" ry="7.5" fill="#fff" stroke="#111" stroke-width="2.4"/>
<rect x="818" y="1116" width="7" height="11.3" rx="0" fill="#fff" stroke="#111" stroke-width="1.6"/>
<rect x="818" y="1143.3" width="7" height="11.3" rx="0" fill="#fff" stroke="#111" stroke-width="1.6"/>
<rect x="818" y="1170.6" width="7" height="11.3" rx="0" fill="#fff" stroke="#111" stroke-width="1.6"/>
<rect x="818" y="1197.9" width="7" height="11.3" rx="0" fill="#fff" stroke="#111" stroke-width="1.6"/>
<rect x="818" y="1225.2" width="7" height="11.3" rx="0" fill="#fff" stroke="#111" stroke-width="1.6"/>
<rect x="818" y="1252.5" width="7" height="11.3" rx="0" fill="#fff" stroke="#111" stroke-width="1.6"/>
<rect x="818" y="1279.8" width="7" height="11.3" rx="0" fill="#fff" stroke="#111" stroke-width="1.6"/>
<rect x="818" y="1307.1" width="7" height="11.3" rx="0" fill="#fff" stroke="#111" stroke-width="1.6"/>
<rect x="818" y="1334.4" width="7" height="11.3" rx="0" fill="#fff" stroke="#111" stroke-width="1.6"/>
<rect x="818" y="1361.7" width="7" height="11.3" rx="0" fill="#fff" stroke="#111" stroke-width="1.6"/>
<rect x="818" y="1389" width="7" height="11.3" rx="0" fill="#fff" stroke="#111" stroke-width="1.6"/>
<rect x="818" y="1416.3" width="7" height="11.3" rx="0" fill="#fff" stroke="#111" stroke-width="1.6"/>
<rect x="818" y="1443.6" width="7" height="11.3" rx="0" fill="#fff" stroke="#111" stroke-width="1.6"/>
<rect x="818" y="1470.9" width="7" height="11.3" rx="0" fill="#fff" stroke="#111" stroke-width="1.6"/>
<rect x="818" y="1498.2" width="7" height="11.3" rx="0" fill="#fff" stroke="#111" stroke-width="1.6"/>
<polygon points="815.5,1099.3 827.5,1099.3 834.8,1105 834.8,1111 827.5,1116.7 815.5,1116.7 808.2,1111 808.2,1105" fill="#fff" stroke="#111" stroke-width="2.3" stroke-linejoin="round"/>
<line x1="809.2" y1="1108" x2="833.8" y2="1108" stroke="#111" stroke-width="1.6"/>
<line x1="811.4" y1="1103.5" x2="831.6" y2="1112.5" stroke="#111" stroke-width="1.6"/>
<line x1="816.9" y1="1100.7" x2="826.1" y2="1115.3" stroke="#111" stroke-width="1.6"/>
<line x1="826.1" y1="1100.7" x2="816.9" y2="1115.3" stroke="#111" stroke-width="1.6"/>
<line x1="831.6" y1="1103.5" x2="811.4" y2="1112.5" stroke="#111" stroke-width="1.6"/>
<polygon points="815.5,1126.6 827.5,1126.6 834.8,1132.3 834.8,1138.3 827.5,1144 815.5,1144 808.2,1138.3 808.2,1132.3" fill="#fff" stroke="#111" stroke-width="2.3" stroke-linejoin="round"/>
<line x1="809.2" y1="1135.3" x2="833.8" y2="1135.3" stroke="#111" stroke-width="1.6"/>
<line x1="811.4" y1="1130.8" x2="831.6" y2="1139.8" stroke="#111" stroke-width="1.6"/>
<line x1="816.9" y1="1128" x2="826.1" y2="1142.6" stroke="#111" stroke-width="1.6"/>
<line x1="826.1" y1="1128" x2="816.9" y2="1142.6" stroke="#111" stroke-width="1.6"/>
<line x1="831.6" y1="1130.8" x2="811.4" y2="1139.8" stroke="#111" stroke-width="1.6"/>
<polygon points="815.5,1153.9 827.5,1153.9 834.8,1159.6 834.8,1165.6 827.5,1171.3 815.5,1171.3 808.2,1165.6 808.2,1159.6" fill="#fff" stroke="#111" stroke-width="2.3" stroke-linejoin="round"/>
<line x1="809.2" y1="1162.6" x2="833.8" y2="1162.6" stroke="#111" stroke-width="1.6"/>
<line x1="811.4" y1="1158.1" x2="831.6" y2="1167.1" stroke="#111" stroke-width="1.6"/>
<line x1="816.9" y1="1155.3" x2="826.1" y2="1169.9" stroke="#111" stroke-width="1.6"/>
<line x1="826.1" y1="1155.3" x2="816.9" y2="1169.9" stroke="#111" stroke-width="1.6"/>
<line x1="831.6" y1="1158.1" x2="811.4" y2="1167.1" stroke="#111" stroke-width="1.6"/>
<polygon points="815.5,1181.2 827.5,1181.2 834.8,1186.9 834.8,1192.9 827.5,1198.6 815.5,1198.6 808.2,1192.9 808.2,1186.9" fill="#fff" stroke="#111" stroke-width="2.3" stroke-linejoin="round"/>
<line x1="809.2" y1="1189.9" x2="833.8" y2="1189.9" stroke="#111" stroke-width="1.6"/>
<line x1="811.4" y1="1185.4" x2="831.6" y2="1194.4" stroke="#111" stroke-width="1.6"/>
<line x1="816.9" y1="1182.6" x2="826.1" y2="1197.2" stroke="#111" stroke-width="1.6"/>
<line x1="826.1" y1="1182.6" x2="816.9" y2="1197.2" stroke="#111" stroke-width="1.6"/>
<line x1="831.6" y1="1185.4" x2="811.4" y2="1194.4" stroke="#111" stroke-width="1.6"/>
<polygon points="815.5,1208.5 827.5,1208.5 834.8,1214.2 834.8,1220.2 827.5,1225.9 815.5,1225.9 808.2,1220.2 808.2,1214.2" fill="#fff" stroke="#111" stroke-width="2.3" stroke-linejoin="round"/>
<line x1="809.2" y1="1217.2" x2="833.8" y2="1217.2" stroke="#111" stroke-width="1.6"/>
<line x1="811.4" y1="1212.7" x2="831.6" y2="1221.7" stroke="#111" stroke-width="1.6"/>
<line x1="816.9" y1="1209.9" x2="826.1" y2="1224.5" stroke="#111" stroke-width="1.6"/>
<line x1="826.1" y1="1209.9" x2="816.9" y2="1224.5" stroke="#111" stroke-width="1.6"/>
<line x1="831.6" y1="1212.7" x2="811.4" y2="1221.7" stroke="#111" stroke-width="1.6"/>
<polygon points="815.5,1235.8 827.5,1235.8 834.8,1241.5 834.8,1247.5 827.5,1253.2 815.5,1253.2 808.2,1247.5 808.2,1241.5" fill="#fff" stroke="#111" stroke-width="2.3" stroke-linejoin="round"/>
<line x1="809.2" y1="1244.5" x2="833.8" y2="1244.5" stroke="#111" stroke-width="1.6"/>
<line x1="811.4" y1="1240" x2="831.6" y2="1249" stroke="#111" stroke-width="1.6"/>
<line x1="816.9" y1="1237.2" x2="826.1" y2="1251.8" stroke="#111" stroke-width="1.6"/>
<line x1="826.1" y1="1237.2" x2="816.9" y2="1251.8" stroke="#111" stroke-width="1.6"/>
<line x1="831.6" y1="1240" x2="811.4" y2="1249" stroke="#111" stroke-width="1.6"/>
<polygon points="815.5,1263.1 827.5,1263.1 834.8,1268.8 834.8,1274.8 827.5,1280.5 815.5,1280.5 808.2,1274.8 808.2,1268.8" fill="#fff" stroke="#111" stroke-width="2.3" stroke-linejoin="round"/>
<line x1="809.2" y1="1271.8" x2="833.8" y2="1271.8" stroke="#111" stroke-width="1.6"/>
<line x1="811.4" y1="1267.3" x2="831.6" y2="1276.3" stroke="#111" stroke-width="1.6"/>
<line x1="816.9" y1="1264.5" x2="826.1" y2="1279.1" stroke="#111" stroke-width="1.6"/>
<line x1="826.1" y1="1264.5" x2="816.9" y2="1279.1" stroke="#111" stroke-width="1.6"/>
<line x1="831.6" y1="1267.3" x2="811.4" y2="1276.3" stroke="#111" stroke-width="1.6"/>
<polygon points="815.5,1290.4 827.5,1290.4 834.8,1296.1 834.8,1302.1 827.5,1307.8 815.5,1307.8 808.2,1302.1 808.2,1296.1" fill="#fff" stroke="#111" stroke-width="2.3" stroke-linejoin="round"/>
<line x1="809.2" y1="1299.1" x2="833.8" y2="1299.1" stroke="#111" stroke-width="1.6"/>
<line x1="811.4" y1="1294.6" x2="831.6" y2="1303.6" stroke="#111" stroke-width="1.6"/>
<line x1="816.9" y1="1291.8" x2="826.1" y2="1306.4" stroke="#111" stroke-width="1.6"/>
<line x1="826.1" y1="1291.8" x2="816.9" y2="1306.4" stroke="#111" stroke-width="1.6"/>
<line x1="831.6" y1="1294.6" x2="811.4" y2="1303.6" stroke="#111" stroke-width="1.6"/>
<polygon points="815.5,1317.7 827.5,1317.7 834.8,1323.4 834.8,1329.4 827.5,1335.1 815.5,1335.1 808.2,1329.4 808.2,1323.4" fill="#fff" stroke="#111" stroke-width="2.3" stroke-linejoin="round"/>
<line x1="809.2" y1="1326.4" x2="833.8" y2="1326.4" stroke="#111" stroke-width="1.6"/>
<line x1="811.4" y1="1321.9" x2="831.6" y2="1330.9" stroke="#111" stroke-width="1.6"/>
<line x1="816.9" y1="1319.1" x2="826.1" y2="1333.7" stroke="#111" stroke-width="1.6"/>
<line x1="826.1" y1="1319.1" x2="816.9" y2="1333.7" stroke="#111" stroke-width="1.6"/>
<line x1="831.6" y1="1321.9" x2="811.4" y2="1330.9" stroke="#111" stroke-width="1.6"/>
<polygon points="815.5,1345 827.5,1345 834.8,1350.7 834.8,1356.7 827.5,1362.4 815.5,1362.4 808.2,1356.7 808.2,1350.7" fill="#fff" stroke="#111" stroke-width="2.3" stroke-linejoin="round"/>
<line x1="809.2" y1="1353.7" x2="833.8" y2="1353.7" stroke="#111" stroke-width="1.6"/>
<line x1="811.4" y1="1349.2" x2="831.6" y2="1358.2" stroke="#111" stroke-width="1.6"/>
<line x1="816.9" y1="1346.4" x2="826.1" y2="1361" stroke="#111" stroke-width="1.6"/>
<line x1="826.1" y1="1346.4" x2="816.9" y2="1361" stroke="#111" stroke-width="1.6"/>
<line x1="831.6" y1="1349.2" x2="811.4" y2="1358.2" stroke="#111" stroke-width="1.6"/>
<polygon points="815.5,1372.3 827.5,1372.3 834.8,1378 834.8,1384 827.5,1389.7 815.5,1389.7 808.2,1384 808.2,1378" fill="#fff" stroke="#111" stroke-width="2.3" stroke-linejoin="round"/>
<line x1="809.2" y1="1381" x2="833.8" y2="1381" stroke="#111" stroke-width="1.6"/>
<line x1="811.4" y1="1376.5" x2="831.6" y2="1385.5" stroke="#111" stroke-width="1.6"/>
<line x1="816.9" y1="1373.7" x2="826.1" y2="1388.3" stroke="#111" stroke-width="1.6"/>
<line x1="826.1" y1="1373.7" x2="816.9" y2="1388.3" stroke="#111" stroke-width="1.6"/>
<line x1="831.6" y1="1376.5" x2="811.4" y2="1385.5" stroke="#111" stroke-width="1.6"/>
<polygon points="815.5,1399.6 827.5,1399.6 834.8,1405.3 834.8,1411.3 827.5,1417 815.5,1417 808.2,1411.3 808.2,1405.3" fill="#fff" stroke="#111" stroke-width="2.3" stroke-linejoin="round"/>
<line x1="809.2" y1="1408.3" x2="833.8" y2="1408.3" stroke="#111" stroke-width="1.6"/>
<line x1="811.4" y1="1403.8" x2="831.6" y2="1412.8" stroke="#111" stroke-width="1.6"/>
<line x1="816.9" y1="1401" x2="826.1" y2="1415.6" stroke="#111" stroke-width="1.6"/>
<line x1="826.1" y1="1401" x2="816.9" y2="1415.6" stroke="#111" stroke-width="1.6"/>
<line x1="831.6" y1="1403.8" x2="811.4" y2="1412.8" stroke="#111" stroke-width="1.6"/>
<polygon points="815.5,1426.9 827.5,1426.9 834.8,1432.6 834.8,1438.6 827.5,1444.3 815.5,1444.3 808.2,1438.6 808.2,1432.6" fill="#fff" stroke="#111" stroke-width="2.3" stroke-linejoin="round"/>
<line x1="809.2" y1="1435.6" x2="833.8" y2="1435.6" stroke="#111" stroke-width="1.6"/>
<line x1="811.4" y1="1431.1" x2="831.6" y2="1440.1" stroke="#111" stroke-width="1.6"/>
<line x1="816.9" y1="1428.3" x2="826.1" y2="1442.9" stroke="#111" stroke-width="1.6"/>
<line x1="826.1" y1="1428.3" x2="816.9" y2="1442.9" stroke="#111" stroke-width="1.6"/>
<line x1="831.6" y1="1431.1" x2="811.4" y2="1440.1" stroke="#111" stroke-width="1.6"/>
<polygon points="815.5,1454.2 827.5,1454.2 834.8,1459.9 834.8,1465.9 827.5,1471.6 815.5,1471.6 808.2,1465.9 808.2,1459.9" fill="#fff" stroke="#111" stroke-width="2.3" stroke-linejoin="round"/>
<line x1="809.2" y1="1462.9" x2="833.8" y2="1462.9" stroke="#111" stroke-width="1.6"/>
<line x1="811.4" y1="1458.4" x2="831.6" y2="1467.4" stroke="#111" stroke-width="1.6"/>
<line x1="816.9" y1="1455.6" x2="826.1" y2="1470.2" stroke="#111" stroke-width="1.6"/>
<line x1="826.1" y1="1455.6" x2="816.9" y2="1470.2" stroke="#111" stroke-width="1.6"/>
<line x1="831.6" y1="1458.4" x2="811.4" y2="1467.4" stroke="#111" stroke-width="1.6"/>
<polygon points="815.5,1481.5 827.5,1481.5 834.8,1487.2 834.8,1493.2 827.5,1498.9 815.5,1498.9 808.2,1493.2 808.2,1487.2" fill="#fff" stroke="#111" stroke-width="2.3" stroke-linejoin="round"/>
<line x1="809.2" y1="1490.2" x2="833.8" y2="1490.2" stroke="#111" stroke-width="1.6"/>
<line x1="811.4" y1="1485.7" x2="831.6" y2="1494.7" stroke="#111" stroke-width="1.6"/>
<line x1="816.9" y1="1482.9" x2="826.1" y2="1497.5" stroke="#111" stroke-width="1.6"/>
<line x1="826.1" y1="1482.9" x2="816.9" y2="1497.5" stroke="#111" stroke-width="1.6"/>
<line x1="831.6" y1="1485.7" x2="811.4" y2="1494.7" stroke="#111" stroke-width="1.6"/>
<polygon points="815.5,1508.8 827.5,1508.8 834.8,1514.5 834.8,1520.5 827.5,1526.2 815.5,1526.2 808.2,1520.5 808.2,1514.5" fill="#fff" stroke="#111" stroke-width="2.3" stroke-linejoin="round"/>
<line x1="809.2" y1="1517.5" x2="833.8" y2="1517.5" stroke="#111" stroke-width="1.6"/>
<line x1="811.4" y1="1513" x2="831.6" y2="1522" stroke="#111" stroke-width="1.6"/>
<line x1="816.9" y1="1510.2" x2="826.1" y2="1524.8" stroke="#111" stroke-width="1.6"/>
<line x1="826.1" y1="1510.2" x2="816.9" y2="1524.8" stroke="#111" stroke-width="1.6"/>
<line x1="831.6" y1="1513" x2="811.4" y2="1522" stroke="#111" stroke-width="1.6"/>
<rect x="818" y="1525.5" width="7" height="10" rx="0" fill="#fff" stroke="#111" stroke-width="1.6"/>
<ellipse cx="821.5" cy="1560.2" rx="36.3" ry="25.8" fill="#fff" stroke="#111" stroke-width="2.2"/>
<line x1="785.2" y1="1560.2" x2="857.8" y2="1560.2" stroke="#111" stroke-width="1.7"/>
<line x1="786.4" y1="1553.5" x2="856.6" y2="1566.9" stroke="#111" stroke-width="1.7"/>
<line x1="790.1" y1="1547.3" x2="852.9" y2="1573.1" stroke="#111" stroke-width="1.7"/>
<line x1="795.8" y1="1542" x2="847.2" y2="1578.4" stroke="#111" stroke-width="1.7"/>
<line x1="803.4" y1="1537.9" x2="839.6" y2="1582.5" stroke="#111" stroke-width="1.7"/>
<line x1="812.1" y1="1535.3" x2="830.9" y2="1585.1" stroke="#111" stroke-width="1.7"/>
<line x1="821.5" y1="1534.4" x2="821.5" y2="1586" stroke="#111" stroke-width="1.7"/>
<line x1="830.9" y1="1535.3" x2="812.1" y2="1585.1" stroke="#111" stroke-width="1.7"/>
<line x1="839.6" y1="1537.9" x2="803.4" y2="1582.5" stroke="#111" stroke-width="1.7"/>
<line x1="847.2" y1="1542" x2="795.8" y2="1578.4" stroke="#111" stroke-width="1.7"/>
<line x1="852.9" y1="1547.3" x2="790.1" y2="1573.1" stroke="#111" stroke-width="1.7"/>
<line x1="856.6" y1="1553.5" x2="786.4" y2="1566.9" stroke="#111" stroke-width="1.7"/>
<ellipse cx="821.5" cy="1560.2" rx="5" ry="3.5" fill="#fff" stroke="#111" stroke-width="1.8"/>
<circle cx="821.5" cy="1538.4" r="2" fill="#111"/>
<circle cx="821.5" cy="1582" r="2" fill="#111"/>
<text x="144.6" y="1354.4" font-family="Liberation Serif" font-size="30" font-weight="bold" fill="#111" stroke="#111" stroke-width="0.2" textLength="139" lengthAdjust="spacingAndGlyphs">A:12pcs</text>
<text x="143.5" y="1388.4" font-family="Liberation Serif" font-size="30" font-weight="normal" fill="#111" stroke="#111" stroke-width="0.3" textLength="137.5" lengthAdjust="spacingAndGlyphs">B:12pcs</text>
<text x="146" y="1423.5" font-family="Liberation Serif" font-size="30" font-weight="normal" fill="#111" stroke="#111" stroke-width="0.3" textLength="118" lengthAdjust="spacingAndGlyphs">C:9pcs</text>
<text x="146" y="1460.2" font-family="Liberation Serif" font-size="30" font-weight="normal" fill="#111" stroke="#111" stroke-width="0.3" textLength="118" lengthAdjust="spacingAndGlyphs">D:9pcs</text>
<text x="147" y="1503" font-family="Liberation Serif" font-size="30" font-weight="normal" fill="#111" stroke="#111" stroke-width="0.3" textLength="118" lengthAdjust="spacingAndGlyphs">E:6pcs</text>
<text x="146" y="1541.9" font-family="Liberation Serif" font-size="30" font-weight="normal" fill="#111" stroke="#111" stroke-width="0.3" textLength="118" lengthAdjust="spacingAndGlyphs">F:6pcs</text>
<text x="144.5" y="1580.5" font-family="Liberation Serif" font-size="30" font-weight="normal" fill="#111" stroke="#111" stroke-width="0.3" textLength="118" lengthAdjust="spacingAndGlyphs">G:3pcs</text>
<text x="144.5" y="1619.6" font-family="Liberation Serif" font-size="30" font-weight="normal" fill="#111" stroke="#111" stroke-width="0.3" textLength="118" lengthAdjust="spacingAndGlyphs">H:3pcs</text>
<text x="146" y="1657.5" font-family="Liberation Serif" font-size="30" font-weight="normal" fill="#111" stroke="#111" stroke-width="0.3" textLength="118" lengthAdjust="spacingAndGlyphs">I:1pcs</text>
<polyline points="287.4,1346.8 336,1346.8" fill="none" stroke="#444" stroke-width="1.3" stroke-linejoin="round"/>
<polygon points="359,1346.5 335.1,1350 334.9,1344" fill="#111" stroke="#111" stroke-width="0.5" stroke-linejoin="round"/>
<polyline points="283.4,1382.4 377,1382.4 402,1369" fill="none" stroke="#444" stroke-width="1.3" stroke-linejoin="round"/>
<polygon points="426,1362.5 402.8,1371.9 401.2,1366.1" fill="#111" stroke="#111" stroke-width="0.5" stroke-linejoin="round"/>
<polyline points="277.5,1419 440,1419" fill="none" stroke="#444" stroke-width="1.3" stroke-linejoin="round"/>
<polygon points="463,1418 440.1,1422 439.9,1416" fill="#111" stroke="#111" stroke-width="0.5" stroke-linejoin="round"/>
<polyline points="279.5,1457 464.8,1457 537,1427" fill="none" stroke="#444" stroke-width="1.3" stroke-linejoin="round"/>
<polygon points="558.5,1418.3 538.1,1429.8 535.9,1424.2" fill="#111" stroke="#111" stroke-width="0.5" stroke-linejoin="round"/>
<polyline points="277.5,1496.8 490.7,1496.8 551,1475" fill="none" stroke="#444" stroke-width="1.3" stroke-linejoin="round"/>
<polygon points="572.4,1467 552.1,1477.8 549.9,1472.2" fill="#111" stroke="#111" stroke-width="0.5" stroke-linejoin="round"/>
<polyline points="275.5,1535 544.5,1535 646,1484" fill="none" stroke="#444" stroke-width="1.3" stroke-linejoin="round"/>
<polygon points="666,1475.3 647.2,1486.8 644.8,1481.2" fill="#111" stroke="#111" stroke-width="0.5" stroke-linejoin="round"/>
<polyline points="271.5,1575 574.4,1575 668,1535" fill="none" stroke="#444" stroke-width="1.3" stroke-linejoin="round"/>
<polygon points="690,1527 669,1537.8 667,1532.2" fill="#111" stroke="#111" stroke-width="0.5" stroke-linejoin="round"/>
<polyline points="267.5,1612.4 664,1612.4 757,1543" fill="none" stroke="#444" stroke-width="1.3" stroke-linejoin="round"/>
<polygon points="773.7,1530 758.8,1545.4 755.2,1540.6" fill="#111" stroke="#111" stroke-width="0.5" stroke-linejoin="round"/>
<polyline points="271.5,1652 725.8,1652 788,1596" fill="none" stroke="#444" stroke-width="1.3" stroke-linejoin="round"/>
<polygon points="803.6,1583.7 789.9,1598.4 786.1,1593.6" fill="#111" stroke="#111" stroke-width="0.5" stroke-linejoin="round"/>
<line x1="870" y1="1225" x2="870" y2="1279" stroke="#111" stroke-width="2.2"/>
<polygon points="870,1213 874.5,1229 865.5,1229" fill="#111" stroke="#111" stroke-width="0.5" stroke-linejoin="round"/>
<ellipse cx="927" cy="1248.4" rx="28" ry="21.5" fill="none" stroke="#111" stroke-width="2"/>
<text transform="translate(927,1263.5) scale(1.22,1)" x="0" y="0" font-family="Liberation Serif" font-size="45" font-weight="bold" text-anchor="middle" fill="#111">6</text>
<path d="M1028.5,871 L1032,864 H1048 L1051.5,871 V876 H1028.5 Z" fill="#1a1a1a" stroke="#111" stroke-width="2.2"/>
<line x1="1033" y1="867" x2="1033" y2="874" stroke="#999" stroke-width="1.2"/>
<line x1="1047" y1="867" x2="1047" y2="874" stroke="#999" stroke-width="1.2"/>
<ellipse cx="1040" cy="877" rx="11" ry="4.5" fill="#fff" stroke="#111" stroke-width="2.2"/>
<line x1="1114.5" y1="834" x2="1114.5" y2="885" stroke="#111" stroke-width="2.2"/>
<polygon points="1114.5,819 1120.5,838 1108.5,838" fill="#111" stroke="#111" stroke-width="0.5" stroke-linejoin="round"/>
<path d="M1096.3,847.4 A40.4,10.8 0 1 0 1136.7,848.3" fill="none" stroke="#111" stroke-width="2"/>
<polygon points="1105.5,846 1136.5,843 1136.5,851" fill="#111" stroke="#111" stroke-width="0.5" stroke-linejoin="round"/>
<ellipse cx="1189.4" cy="846" rx="30.4" ry="21.5" fill="none" stroke="#111" stroke-width="2"/>
<text transform="translate(1189.4,861.1) scale(1.22,1)" x="0" y="0" font-family="Liberation Serif" font-size="45" font-weight="bold" text-anchor="middle" fill="#111">4</text>
<polygon points="980.6,1064.2 973.1,1073 966.5,1088.7 964.8,1101.1 967.3,1117.7 975.6,1134.2 986.4,1149.1 993,1156.6 997.1,1157.5 1001.3,1156.6 1011.2,1142.5 1022,1127.6 1027,1117.7 1029.4,1101.1 1026.1,1088.7 1022,1074.6 1012.5,1064.2" fill="#fff" stroke="#111" stroke-width="2.3" stroke-linejoin="round"/>
<rect x="980.2" y="1055.1" width="32.5" height="8.8" rx="0" fill="#fff" stroke="#111" stroke-width="2.3"/>
<rect x="984.3" y="1037" width="26.3" height="18.1" rx="0" fill="#fff" stroke="#111" stroke-width="2.3"/>
<line x1="984.3" y1="1039" x2="1010.6" y2="1038" stroke="#111" stroke-width="1.6"/>
<line x1="984.3" y1="1041.5" x2="1010.6" y2="1040.5" stroke="#111" stroke-width="1.6"/>
<line x1="984.3" y1="1044" x2="1010.6" y2="1043" stroke="#111" stroke-width="1.6"/>
<line x1="984.3" y1="1046.5" x2="1010.6" y2="1045.5" stroke="#111" stroke-width="1.6"/>
<line x1="984.3" y1="1049" x2="1010.6" y2="1048" stroke="#111" stroke-width="1.6"/>
<line x1="984.3" y1="1051.5" x2="1010.6" y2="1050.5" stroke="#111" stroke-width="1.6"/>
<line x1="984.3" y1="1054" x2="1010.6" y2="1053" stroke="#111" stroke-width="1.6"/>
<path d="M989.7,1036.5 Q991,1031 997.1,1029.9 Q1003,1031 1004.5,1036.5" fill="#fff" stroke="#111" stroke-width="2.2"/>
<line x1="1094.3" y1="1077.6" x2="1094.3" y2="1130" stroke="#111" stroke-width="2.2"/>
<polygon points="1094.3,1062.6 1100.3,1081.6 1088.3,1081.6" fill="#111" stroke="#111" stroke-width="0.5" stroke-linejoin="round"/>
<path d="M1076.1,1092.5 A40.4,10.2 0 1 0 1116.5,1093.3" fill="none" stroke="#111" stroke-width="2"/>
<polygon points="1085.3,1091 1116.3,1088 1116.3,1096" fill="#111" stroke="#111" stroke-width="0.5" stroke-linejoin="round"/>
<ellipse cx="1170.5" cy="1064.8" rx="30.4" ry="21.5" fill="none" stroke="#111" stroke-width="2"/>
<text transform="translate(1170.5,1079.9) scale(1.22,1)" x="0" y="0" font-family="Liberation Serif" font-size="45" font-weight="bold" text-anchor="middle" fill="#111">5</text>
<line x1="999" y1="451.5" x2="1116" y2="425" stroke="#111" stroke-width="1.8"/>
<polyline points="999,451.5 1145,452 1172,465" fill="none" stroke="#111" stroke-width="1.8" stroke-linejoin="round" stroke-dasharray="14,4,3,4"/>
<ellipse cx="1216.5" cy="395" rx="109.6" ry="77" fill="none" stroke="#111" stroke-width="2" stroke-dasharray="16,5"/>
<path d="M1219,372 C1245,362 1265,347 1287,336" fill="none" stroke="#111" stroke-width="3.2"/>
<path d="M1229,380 C1255,368 1272,352 1292,342" fill="none" stroke="#111" stroke-width="3.2"/>
<path d="M1235,384 C1262,372 1280,359 1300,350" fill="none" stroke="#111" stroke-width="2.2"/>
<path d="M1238,382 C1262,370 1280,357 1298,348" fill="none" stroke="#111" stroke-width="1.5"/>
<line x1="1307" y1="366.5" x2="1272" y2="382" stroke="#666" stroke-width="0.8"/>
<polygon points="1268,384.5 1276,378 1278,383" fill="#111" stroke="#111" stroke-width="0.5" stroke-linejoin="round"/>
<ellipse cx="1216.5" cy="383" rx="10" ry="5" fill="#eee" stroke="#888" stroke-width="1"/>
<polygon points="1123,396 1189,377 1195,380 1199,379 1215.6,398.7 1159.4,419.6" fill="#fff" stroke="#111" stroke-width="2" stroke-linejoin="round"/>
<polygon points="1123,396 1125,405 1160,428 1216,407 1215.6,398.7 1159.4,419.6" fill="#fff" stroke="#111" stroke-width="2" stroke-linejoin="round"/>
<ellipse cx="1160" cy="392" rx="2.6" ry="1.8" fill="#111" stroke="none" stroke-width="0"/>
<ellipse cx="1172" cy="389" rx="2.6" ry="1.8" fill="#111" stroke="none" stroke-width="0"/>
<ellipse cx="1184" cy="386" rx="2.6" ry="1.8" fill="#111" stroke="none" stroke-width="0"/>
<ellipse cx="1166" cy="399" rx="2.6" ry="1.8" fill="#111" stroke="none" stroke-width="0"/>
<ellipse cx="1178" cy="396" rx="2.6" ry="1.8" fill="#111" stroke="none" stroke-width="0"/>
<ellipse cx="1190" cy="393" rx="2.6" ry="1.8" fill="#111" stroke="none" stroke-width="0"/>
<ellipse cx="1172" cy="406" rx="2.6" ry="1.8" fill="#111" stroke="none" stroke-width="0"/>
<ellipse cx="1184" cy="403" rx="2.6" ry="1.8" fill="#111" stroke="none" stroke-width="0"/>
<ellipse cx="1196" cy="400" rx="2.6" ry="1.8" fill="#111" stroke="none" stroke-width="0"/>
<path d="M1112,418 C1130,410 1140,405 1158,398" fill="none" stroke="#111" stroke-width="1.6"/>
<path d="M1114,421 C1132,414 1145,408 1162,402" fill="none" stroke="#111" stroke-width="1.6"/>
<ellipse cx="1150" cy="424" rx="4" ry="2.5" fill="#111" stroke="#111" stroke-width="1"/>
<path d="M1170,420 Q1175,410 1200,408 Q1220,410 1224,422 L1210,428 L1178,432 Z" fill="#fff" stroke="#111" stroke-width="2"/>
<ellipse cx="1190" cy="419" rx="10" ry="5" fill="#fff" stroke="#111" stroke-width="2.5"/>
<polygon points="1174,435 1236,415 1245,418 1249,424 1256,422 1273.6,434 1210,457 1200,449 1193,452 1184,444" fill="#fff" stroke="#111" stroke-width="2" stroke-linejoin="round"/>
<polygon points="1174,435 1175,443 1210,462 1274,440 1273.6,434 1210,457" fill="#fff" stroke="#111" stroke-width="2" stroke-linejoin="round"/>
<text x="1205.6" y="370" font-family="Liberation Serif" font-size="25" font-weight="bold" text-anchor="middle" fill="#111">N</text>
<text x="1240" y="407" font-family="Liberation Serif" font-size="25" font-weight="bold" text-anchor="middle" fill="#111">L</text>
<ellipse cx="1289.9" cy="406.9" rx="29" ry="20.8" fill="none" stroke="#111" stroke-width="2"/>
<text transform="translate(1289.9,422) scale(1.22,1)" x="0" y="0" font-family="Liberation Serif" font-size="45" font-weight="bold" text-anchor="middle" fill="#111">3</text>
<ellipse cx="1422.5" cy="1537" rx="423.4" ry="299.5" fill="none" stroke="#111" stroke-width="2.2"/>
<polyline points="1473,1260.9 1487.5,1262.4 1501.9,1264.3 1516.1,1266.6 1530.2,1269.3 1544.2,1272.3 1558,1275.7 1571.6,1279.5" fill="none" stroke="#111" stroke-width="2" stroke-linejoin="round" stroke-dasharray="12,6"/>
<polyline points="1571.6,1279.5 1585,1283.6 1598.2,1288.1 1611.1,1292.9 1623.8,1298.1 1636.2,1303.6 1648.3,1309.4 1660,1315.5" fill="none" stroke="#111" stroke-width="2" stroke-linejoin="round"/>
<polyline points="1660,1315.5 1671.5,1322 1682.5,1328.7 1693.3,1335.7 1703.6,1343 1713.5,1350.6 1723.1,1358.4 1732.2,1366.5" fill="none" stroke="#111" stroke-width="2" stroke-linejoin="round" stroke-dasharray="12,6"/>
<polyline points="1732.2,1366.5 1740.9,1374.8 1749.1,1383.3 1756.9,1392.1 1764.2,1401 1771,1410.1 1777.4,1419.4 1783.2,1428.9" fill="none" stroke="#111" stroke-width="2" stroke-linejoin="round"/>
<polyline points="1783.2,1428.9 1788.6,1438.5 1793.4,1448.2 1797.7,1458.1 1801.5,1468.1 1804.8,1478.1 1807.5,1488.3 1809.7,1498.5" fill="none" stroke="#111" stroke-width="2" stroke-linejoin="round" stroke-dasharray="12,6"/>
<polyline points="1809.7,1498.5 1811.3,1508.7 1812.4,1519 1812.9,1529.3 1812.9,1539.7 1812.4,1550 1811.3,1560.3 1809.7,1570.5" fill="none" stroke="#111" stroke-width="2" stroke-linejoin="round"/>
<polyline points="1809.7,1570.5 1807.5,1580.7 1804.8,1590.9 1801.5,1600.9 1797.7,1610.9 1793.4,1620.8 1788.6,1630.5 1783.2,1640.1" fill="none" stroke="#111" stroke-width="2" stroke-linejoin="round" stroke-dasharray="12,6"/>
<polyline points="1783.2,1640.1 1777.4,1649.6 1771,1658.9 1764.2,1668 1756.9,1676.9 1749.1,1685.7 1740.9,1694.2 1732.2,1702.5" fill="none" stroke="#111" stroke-width="2" stroke-linejoin="round"/>
<polyline points="1732.2,1702.5 1723.1,1710.6 1713.5,1718.4 1703.6,1726 1693.3,1733.3 1682.5,1740.3 1671.5,1747 1660,1753.5" fill="none" stroke="#111" stroke-width="2" stroke-linejoin="round" stroke-dasharray="12,6"/>
<polyline points="1660,1753.5 1648.3,1759.6 1636.2,1765.4 1623.8,1770.9 1611.1,1776.1 1598.2,1780.9 1585,1785.4 1571.6,1789.5" fill="none" stroke="#111" stroke-width="2" stroke-linejoin="round"/>
<polyline points="1571.6,1789.5 1558,1793.3 1544.2,1796.7 1530.2,1799.7 1516.1,1802.4 1501.9,1804.7 1487.5,1806.6 1473,1808.1" fill="none" stroke="#111" stroke-width="2" stroke-linejoin="round" stroke-dasharray="12,6"/>
<polyline points="1473,1808.1 1458.5,1809.3 1443.9,1810.1 1429.3,1810.5 1414.7,1810.5 1400.1,1810.1 1385.5,1809.3 1371,1808.1" fill="none" stroke="#111" stroke-width="2" stroke-linejoin="round"/>
<polyline points="1371,1808.1 1356.5,1806.6 1342.1,1804.7 1327.9,1802.4 1313.8,1799.7 1299.8,1796.7 1286,1793.3 1272.4,1789.5" fill="none" stroke="#111" stroke-width="2" stroke-linejoin="round" stroke-dasharray="12,6"/>
<polyline points="1272.4,1789.5 1259,1785.4 1245.8,1780.9 1232.9,1776.1 1220.2,1770.9 1207.8,1765.4 1195.7,1759.6 1184,1753.5" fill="none" stroke="#111" stroke-width="2" stroke-linejoin="round"/>
<polyline points="1184,1753.5 1172.5,1747 1161.5,1740.3 1150.7,1733.3 1140.4,1726 1130.5,1718.4 1120.9,1710.6 1111.8,1702.5" fill="none" stroke="#111" stroke-width="2" stroke-linejoin="round" stroke-dasharray="12,6"/>
<polyline points="1111.8,1702.5 1103.1,1694.2 1094.9,1685.7 1087.1,1676.9 1079.8,1668 1073,1658.9 1066.6,1649.6 1060.8,1640.1" fill="none" stroke="#111" stroke-width="2" stroke-linejoin="round"/>
<polyline points="1060.8,1640.1 1055.4,1630.5 1050.6,1620.8 1046.3,1610.9 1042.5,1600.9 1039.2,1590.9 1036.5,1580.7 1034.3,1570.5" fill="none" stroke="#111" stroke-width="2" stroke-linejoin="round" stroke-dasharray="12,6"/>
<polyline points="1034.3,1570.5 1032.7,1560.3 1031.6,1550 1031.1,1539.7 1031.1,1529.3 1031.6,1519 1032.7,1508.7 1034.3,1498.5" fill="none" stroke="#111" stroke-width="2" stroke-linejoin="round"/>
<polyline points="1034.3,1498.5 1036.5,1488.3 1039.2,1478.1 1042.5,1468.1 1046.3,1458.1 1050.6,1448.2 1055.4,1438.5 1060.8,1428.9" fill="none" stroke="#111" stroke-width="2" stroke-linejoin="round" stroke-dasharray="12,6"/>
<polyline points="1060.8,1428.9 1066.6,1419.4 1073,1410.1 1079.8,1401 1087.1,1392.1 1094.9,1383.3 1103.1,1374.8 1111.8,1366.5" fill="none" stroke="#111" stroke-width="2" stroke-linejoin="round"/>
<polyline points="1111.8,1366.5 1120.9,1358.4 1130.5,1350.6 1140.4,1343 1150.7,1335.7 1161.5,1328.7 1172.5,1322 1184,1315.5" fill="none" stroke="#111" stroke-width="2" stroke-linejoin="round" stroke-dasharray="12,6"/>
<polyline points="1184,1315.5 1195.7,1309.4 1207.8,1303.6 1220.2,1298.1 1232.9,1292.9 1245.8,1288.1 1259,1283.6 1272.4,1279.5" fill="none" stroke="#111" stroke-width="2" stroke-linejoin="round"/>
<polyline points="1272.4,1279.5 1286,1275.7 1299.8,1272.3 1313.8,1269.3 1327.9,1266.6 1342.1,1264.3 1356.5,1262.4 1371,1260.9" fill="none" stroke="#111" stroke-width="2" stroke-linejoin="round" stroke-dasharray="12,6"/>
<polyline points="1371,1260.9 1385.5,1259.7 1400.1,1258.9 1414.7,1258.5 1429.3,1258.5 1443.9,1258.9 1458.5,1259.7 1473,1260.9" fill="none" stroke="#111" stroke-width="2" stroke-linejoin="round"/>
<g transform="matrix(0.9914 0.0923 -0.1305 0.7010 1473 1260.9)"><polygon points="-14.5,0 1.5,-8.8 14.5,0 -1.5,8.8" fill="#151515" stroke="#111" stroke-width="1.3" stroke-linejoin="round"/><line x1="-7.2" y1="0" x2="7.2" y2="0" stroke="#666" stroke-width="0.8"/></g>
<g transform="matrix(0.9239 0.2706 -0.3827 0.6532 1571.6 1279.5)"><polygon points="-37.4,-3.5 -6,-10.5 6,-10.5 37.4,-3.5 37.4,3.5 6,10.5 -6,10.5 -37.4,3.5" fill="#151515" stroke="#111" stroke-width="1.4" stroke-linejoin="round"/><line x1="-35.9" y1="0" x2="-3" y2="0" stroke="#e8e8e8" stroke-width="2.2"/><line x1="3" y1="0" x2="35.9" y2="0" stroke="#e8e8e8" stroke-width="2.2"/><line x1="-8.4" y1="-2" x2="-28" y2="-4.5" stroke="#5a5a5a" stroke-width="0.7"/><line x1="-5.6" y1="-2" x2="-18.7" y2="-6.1" stroke="#5a5a5a" stroke-width="0.7"/><line x1="-2.8" y1="-2" x2="-9.3" y2="-7.8" stroke="#5a5a5a" stroke-width="0.7"/><line x1="0" y1="-2" x2="0" y2="-8.4" stroke="#5a5a5a" stroke-width="0.7"/><line x1="2.8" y1="-2" x2="9.3" y2="-7.8" stroke="#5a5a5a" stroke-width="0.7"/><line x1="5.6" y1="-2" x2="18.7" y2="-6.1" stroke="#5a5a5a" stroke-width="0.7"/><line x1="8.4" y1="-2" x2="28" y2="-4.5" stroke="#5a5a5a" stroke-width="0.7"/><line x1="-8.4" y1="2" x2="-28" y2="4.5" stroke="#5a5a5a" stroke-width="0.7"/><line x1="-5.6" y1="2" x2="-18.7" y2="6.1" stroke="#5a5a5a" stroke-width="0.7"/><line x1="-2.8" y1="2" x2="-9.3" y2="7.8" stroke="#5a5a5a" stroke-width="0.7"/><line x1="0" y1="2" x2="0" y2="8.4" stroke="#5a5a5a" stroke-width="0.7"/><line x1="2.8" y1="2" x2="9.3" y2="7.8" stroke="#5a5a5a" stroke-width="0.7"/><line x1="5.6" y1="2" x2="18.7" y2="6.1" stroke="#5a5a5a" stroke-width="0.7"/><line x1="8.4" y1="2" x2="28" y2="4.5" stroke="#5a5a5a" stroke-width="0.7"/></g>
<g transform="matrix(0.7934 0.4304 -0.6088 0.5609 1660 1315.5)"><polygon points="-14.5,0 1.5,-8.8 14.5,0 -1.5,8.8" fill="#151515" stroke="#111" stroke-width="1.3" stroke-linejoin="round"/><line x1="-7.2" y1="0" x2="7.2" y2="0" stroke="#666" stroke-width="0.8"/></g>
<g transform="matrix(0.6088 0.5609 -0.7934 0.4304 1732.2 1366.5)"><polygon points="-37.4,-3.5 -6,-10.5 6,-10.5 37.4,-3.5 37.4,3.5 6,10.5 -6,10.5 -37.4,3.5" fill="#151515" stroke="#111" stroke-width="1.4" stroke-linejoin="round"/><line x1="-35.9" y1="0" x2="-3" y2="0" stroke="#e8e8e8" stroke-width="2.2"/><line x1="3" y1="0" x2="35.9" y2="0" stroke="#e8e8e8" stroke-width="2.2"/><line x1="-8.4" y1="-2" x2="-28" y2="-4.5" stroke="#5a5a5a" stroke-width="0.7"/><line x1="-5.6" y1="-2" x2="-18.7" y2="-6.1" stroke="#5a5a5a" stroke-width="0.7"/><line x1="-2.8" y1="-2" x2="-9.3" y2="-7.8" stroke="#5a5a5a" stroke-width="0.7"/><line x1="0" y1="-2" x2="0" y2="-8.4" stroke="#5a5a5a" stroke-width="0.7"/><line x1="2.8" y1="-2" x2="9.3" y2="-7.8" stroke="#5a5a5a" stroke-width="0.7"/><line x1="5.6" y1="-2" x2="18.7" y2="-6.1" stroke="#5a5a5a" stroke-width="0.7"/><line x1="8.4" y1="-2" x2="28" y2="-4.5" stroke="#5a5a5a" stroke-width="0.7"/><line x1="-8.4" y1="2" x2="-28" y2="4.5" stroke="#5a5a5a" stroke-width="0.7"/><line x1="-5.6" y1="2" x2="-18.7" y2="6.1" stroke="#5a5a5a" stroke-width="0.7"/><line x1="-2.8" y1="2" x2="-9.3" y2="7.8" stroke="#5a5a5a" stroke-width="0.7"/><line x1="0" y1="2" x2="0" y2="8.4" stroke="#5a5a5a" stroke-width="0.7"/><line x1="2.8" y1="2" x2="9.3" y2="7.8" stroke="#5a5a5a" stroke-width="0.7"/><line x1="5.6" y1="2" x2="18.7" y2="6.1" stroke="#5a5a5a" stroke-width="0.7"/><line x1="8.4" y1="2" x2="28" y2="4.5" stroke="#5a5a5a" stroke-width="0.7"/></g>
<g transform="matrix(0.3827 0.6532 -0.9239 0.2706 1783.2 1428.9)"><polygon points="-14.5,0 1.5,-8.8 14.5,0 -1.5,8.8" fill="#151515" stroke="#111" stroke-width="1.3" stroke-linejoin="round"/><line x1="-7.2" y1="0" x2="7.2" y2="0" stroke="#666" stroke-width="0.8"/></g>
<g transform="matrix(0.1305 0.7010 -0.9914 0.0923 1809.7 1498.5)"><polygon points="-37.4,-3.5 -6,-10.5 6,-10.5 37.4,-3.5 37.4,3.5 6,10.5 -6,10.5 -37.4,3.5" fill="#151515" stroke="#111" stroke-width="1.4" stroke-linejoin="round"/><line x1="-35.9" y1="0" x2="-3" y2="0" stroke="#e8e8e8" stroke-width="2.2"/><line x1="3" y1="0" x2="35.9" y2="0" stroke="#e8e8e8" stroke-width="2.2"/><line x1="-8.4" y1="-2" x2="-28" y2="-4.5" stroke="#5a5a5a" stroke-width="0.7"/><line x1="-5.6" y1="-2" x2="-18.7" y2="-6.1" stroke="#5a5a5a" stroke-width="0.7"/><line x1="-2.8" y1="-2" x2="-9.3" y2="-7.8" stroke="#5a5a5a" stroke-width="0.7"/><line x1="0" y1="-2" x2="0" y2="-8.4" stroke="#5a5a5a" stroke-width="0.7"/><line x1="2.8" y1="-2" x2="9.3" y2="-7.8" stroke="#5a5a5a" stroke-width="0.7"/><line x1="5.6" y1="-2" x2="18.7" y2="-6.1" stroke="#5a5a5a" stroke-width="0.7"/><line x1="8.4" y1="-2" x2="28" y2="-4.5" stroke="#5a5a5a" stroke-width="0.7"/><line x1="-8.4" y1="2" x2="-28" y2="4.5" stroke="#5a5a5a" stroke-width="0.7"/><line x1="-5.6" y1="2" x2="-18.7" y2="6.1" stroke="#5a5a5a" stroke-width="0.7"/><line x1="-2.8" y1="2" x2="-9.3" y2="7.8" stroke="#5a5a5a" stroke-width="0.7"/><line x1="0" y1="2" x2="0" y2="8.4" stroke="#5a5a5a" stroke-width="0.7"/><line x1="2.8" y1="2" x2="9.3" y2="7.8" stroke="#5a5a5a" stroke-width="0.7"/><line x1="5.6" y1="2" x2="18.7" y2="6.1" stroke="#5a5a5a" stroke-width="0.7"/><line x1="8.4" y1="2" x2="28" y2="4.5" stroke="#5a5a5a" stroke-width="0.7"/></g>
<g transform="matrix(-0.1305 0.7010 -0.9914 -0.0923 1809.7 1570.5)"><polygon points="-14.5,0 1.5,-8.8 14.5,0 -1.5,8.8" fill="#151515" stroke="#111" stroke-width="1.3" stroke-linejoin="round"/><line x1="-7.2" y1="0" x2="7.2" y2="0" stroke="#666" stroke-width="0.8"/></g>
<g transform="matrix(-0.3827 0.6532 -0.9239 -0.2706 1783.2 1640.1)"><polygon points="-37.4,-3.5 -6,-10.5 6,-10.5 37.4,-3.5 37.4,3.5 6,10.5 -6,10.5 -37.4,3.5" fill="#151515" stroke="#111" stroke-width="1.4" stroke-linejoin="round"/><line x1="-35.9" y1="0" x2="-3" y2="0" stroke="#e8e8e8" stroke-width="2.2"/><line x1="3" y1="0" x2="35.9" y2="0" stroke="#e8e8e8" stroke-width="2.2"/><line x1="-8.4" y1="-2" x2="-28" y2="-4.5" stroke="#5a5a5a" stroke-width="0.7"/><line x1="-5.6" y1="-2" x2="-18.7" y2="-6.1" stroke="#5a5a5a" stroke-width="0.7"/><line x1="-2.8" y1="-2" x2="-9.3" y2="-7.8" stroke="#5a5a5a" stroke-width="0.7"/><line x1="0" y1="-2" x2="0" y2="-8.4" stroke="#5a5a5a" stroke-width="0.7"/><line x1="2.8" y1="-2" x2="9.3" y2="-7.8" stroke="#5a5a5a" stroke-width="0.7"/><line x1="5.6" y1="-2" x2="18.7" y2="-6.1" stroke="#5a5a5a" stroke-width="0.7"/><line x1="8.4" y1="-2" x2="28" y2="-4.5" stroke="#5a5a5a" stroke-width="0.7"/><line x1="-8.4" y1="2" x2="-28" y2="4.5" stroke="#5a5a5a" stroke-width="0.7"/><line x1="-5.6" y1="2" x2="-18.7" y2="6.1" stroke="#5a5a5a" stroke-width="0.7"/><line x1="-2.8" y1="2" x2="-9.3" y2="7.8" stroke="#5a5a5a" stroke-width="0.7"/><line x1="0" y1="2" x2="0" y2="8.4" stroke="#5a5a5a" stroke-width="0.7"/><line x1="2.8" y1="2" x2="9.3" y2="7.8" stroke="#5a5a5a" stroke-width="0.7"/><line x1="5.6" y1="2" x2="18.7" y2="6.1" stroke="#5a5a5a" stroke-width="0.7"/><line x1="8.4" y1="2" x2="28" y2="4.5" stroke="#5a5a5a" stroke-width="0.7"/></g>
<g transform="matrix(-0.6088 0.5609 -0.7934 -0.4304 1732.2 1702.5)"><polygon points="-14.5,0 1.5,-8.8 14.5,0 -1.5,8.8" fill="#151515" stroke="#111" stroke-width="1.3" stroke-linejoin="round"/><line x1="-7.2" y1="0" x2="7.2" y2="0" stroke="#666" stroke-width="0.8"/></g>
<g transform="matrix(-0.7934 0.4304 -0.6088 -0.5609 1660 1753.5)"><polygon points="-37.4,-3.5 -6,-10.5 6,-10.5 37.4,-3.5 37.4,3.5 6,10.5 -6,10.5 -37.4,3.5" fill="#151515" stroke="#111" stroke-width="1.4" stroke-linejoin="round"/><line x1="-35.9" y1="0" x2="-3" y2="0" stroke="#e8e8e8" stroke-width="2.2"/><line x1="3" y1="0" x2="35.9" y2="0" stroke="#e8e8e8" stroke-width="2.2"/><line x1="-8.4" y1="-2" x2="-28" y2="-4.5" stroke="#5a5a5a" stroke-width="0.7"/><line x1="-5.6" y1="-2" x2="-18.7" y2="-6.1" stroke="#5a5a5a" stroke-width="0.7"/><line x1="-2.8" y1="-2" x2="-9.3" y2="-7.8" stroke="#5a5a5a" stroke-width="0.7"/><line x1="0" y1="-2" x2="0" y2="-8.4" stroke="#5a5a5a" stroke-width="0.7"/><line x1="2.8" y1="-2" x2="9.3" y2="-7.8" stroke="#5a5a5a" stroke-width="0.7"/><line x1="5.6" y1="-2" x2="18.7" y2="-6.1" stroke="#5a5a5a" stroke-width="0.7"/><line x1="8.4" y1="-2" x2="28" y2="-4.5" stroke="#5a5a5a" stroke-width="0.7"/><line x1="-8.4" y1="2" x2="-28" y2="4.5" stroke="#5a5a5a" stroke-width="0.7"/><line x1="-5.6" y1="2" x2="-18.7" y2="6.1" stroke="#5a5a5a" stroke-width="0.7"/><line x1="-2.8" y1="2" x2="-9.3" y2="7.8" stroke="#5a5a5a" stroke-width="0.7"/><line x1="0" y1="2" x2="0" y2="8.4" stroke="#5a5a5a" stroke-width="0.7"/><line x1="2.8" y1="2" x2="9.3" y2="7.8" stroke="#5a5a5a" stroke-width="0.7"/><line x1="5.6" y1="2" x2="18.7" y2="6.1" stroke="#5a5a5a" stroke-width="0.7"/><line x1="8.4" y1="2" x2="28" y2="4.5" stroke="#5a5a5a" stroke-width="0.7"/></g>
<g transform="matrix(-0.9239 0.2706 -0.3827 -0.6532 1571.6 1789.5)"><polygon points="-14.5,0 1.5,-8.8 14.5,0 -1.5,8.8" fill="#151515" stroke="#111" stroke-width="1.3" stroke-linejoin="round"/><line x1="-7.2" y1="0" x2="7.2" y2="0" stroke="#666" stroke-width="0.8"/></g>
<g transform="matrix(-0.9914 0.0923 -0.1305 -0.7010 1473 1808.1)"><polygon points="-37.4,-3.5 -6,-10.5 6,-10.5 37.4,-3.5 37.4,3.5 6,10.5 -6,10.5 -37.4,3.5" fill="#151515" stroke="#111" stroke-width="1.4" stroke-linejoin="round"/><line x1="-35.9" y1="0" x2="-3" y2="0" stroke="#e8e8e8" stroke-width="2.2"/><line x1="3" y1="0" x2="35.9" y2="0" stroke="#e8e8e8" stroke-width="2.2"/><line x1="-8.4" y1="-2" x2="-28" y2="-4.5" stroke="#5a5a5a" stroke-width="0.7"/><line x1="-5.6" y1="-2" x2="-18.7" y2="-6.1" stroke="#5a5a5a" stroke-width="0.7"/><line x1="-2.8" y1="-2" x2="-9.3" y2="-7.8" stroke="#5a5a5a" stroke-width="0.7"/><line x1="0" y1="-2" x2="0" y2="-8.4" stroke="#5a5a5a" stroke-width="0.7"/><line x1="2.8" y1="-2" x2="9.3" y2="-7.8" stroke="#5a5a5a" stroke-width="0.7"/><line x1="5.6" y1="-2" x2="18.7" y2="-6.1" stroke="#5a5a5a" stroke-width="0.7"/><line x1="8.4" y1="-2" x2="28" y2="-4.5" stroke="#5a5a5a" stroke-width="0.7"/><line x1="-8.4" y1="2" x2="-28" y2="4.5" stroke="#5a5a5a" stroke-width="0.7"/><line x1="-5.6" y1="2" x2="-18.7" y2="6.1" stroke="#5a5a5a" stroke-width="0.7"/><line x1="-2.8" y1="2" x2="-9.3" y2="7.8" stroke="#5a5a5a" stroke-width="0.7"/><line x1="0" y1="2" x2="0" y2="8.4" stroke="#5a5a5a" stroke-width="0.7"/><line x1="2.8" y1="2" x2="9.3" y2="7.8" stroke="#5a5a5a" stroke-width="0.7"/><line x1="5.6" y1="2" x2="18.7" y2="6.1" stroke="#5a5a5a" stroke-width="0.7"/><line x1="8.4" y1="2" x2="28" y2="4.5" stroke="#5a5a5a" stroke-width="0.7"/></g>
<g transform="matrix(-0.9914 -0.0923 0.1305 -0.7010 1371 1808.1)"><polygon points="-14.5,0 1.5,-8.8 14.5,0 -1.5,8.8" fill="#151515" stroke="#111" stroke-width="1.3" stroke-linejoin="round"/><line x1="-7.2" y1="0" x2="7.2" y2="0" stroke="#666" stroke-width="0.8"/></g>
<g transform="matrix(-0.9239 -0.2706 0.3827 -0.6532 1272.4 1789.5)"><polygon points="-37.4,-3.5 -6,-10.5 6,-10.5 37.4,-3.5 37.4,3.5 6,10.5 -6,10.5 -37.4,3.5" fill="#151515" stroke="#111" stroke-width="1.4" stroke-linejoin="round"/><line x1="-35.9" y1="0" x2="-3" y2="0" stroke="#e8e8e8" stroke-width="2.2"/><line x1="3" y1="0" x2="35.9" y2="0" stroke="#e8e8e8" stroke-width="2.2"/><line x1="-8.4" y1="-2" x2="-28" y2="-4.5" stroke="#5a5a5a" stroke-width="0.7"/><line x1="-5.6" y1="-2" x2="-18.7" y2="-6.1" stroke="#5a5a5a" stroke-width="0.7"/><line x1="-2.8" y1="-2" x2="-9.3" y2="-7.8" stroke="#5a5a5a" stroke-width="0.7"/><line x1="0" y1="-2" x2="0" y2="-8.4" stroke="#5a5a5a" stroke-width="0.7"/><line x1="2.8" y1="-2" x2="9.3" y2="-7.8" stroke="#5a5a5a" stroke-width="0.7"/><line x1="5.6" y1="-2" x2="18.7" y2="-6.1" stroke="#5a5a5a" stroke-width="0.7"/><line x1="8.4" y1="-2" x2="28" y2="-4.5" stroke="#5a5a5a" stroke-width="0.7"/><line x1="-8.4" y1="2" x2="-28" y2="4.5" stroke="#5a5a5a" stroke-width="0.7"/><line x1="-5.6" y1="2" x2="-18.7" y2="6.1" stroke="#5a5a5a" stroke-width="0.7"/><line x1="-2.8" y1="2" x2="-9.3" y2="7.8" stroke="#5a5a5a" stroke-width="0.7"/><line x1="0" y1="2" x2="0" y2="8.4" stroke="#5a5a5a" stroke-width="0.7"/><line x1="2.8" y1="2" x2="9.3" y2="7.8" stroke="#5a5a5a" stroke-width="0.7"/><line x1="5.6" y1="2" x2="18.7" y2="6.1" stroke="#5a5a5a" stroke-width="0.7"/><line x1="8.4" y1="2" x2="28" y2="4.5" stroke="#5a5a5a" stroke-width="0.7"/></g>
<g transform="matrix(-0.7934 -0.4304 0.6088 -0.5609 1184 1753.5)"><polygon points="-14.5,0 1.5,-8.8 14.5,0 -1.5,8.8" fill="#151515" stroke="#111" stroke-width="1.3" stroke-linejoin="round"/><line x1="-7.2" y1="0" x2="7.2" y2="0" stroke="#666" stroke-width="0.8"/></g>
<g transform="matrix(-0.6088 -0.5609 0.7934 -0.4304 1111.8 1702.5)"><polygon points="-37.4,-3.5 -6,-10.5 6,-10.5 37.4,-3.5 37.4,3.5 6,10.5 -6,10.5 -37.4,3.5" fill="#151515" stroke="#111" stroke-width="1.4" stroke-linejoin="round"/><line x1="-35.9" y1="0" x2="-3" y2="0" stroke="#e8e8e8" stroke-width="2.2"/><line x1="3" y1="0" x2="35.9" y2="0" stroke="#e8e8e8" stroke-width="2.2"/><line x1="-8.4" y1="-2" x2="-28" y2="-4.5" stroke="#5a5a5a" stroke-width="0.7"/><line x1="-5.6" y1="-2" x2="-18.7" y2="-6.1" stroke="#5a5a5a" stroke-width="0.7"/><line x1="-2.8" y1="-2" x2="-9.3" y2="-7.8" stroke="#5a5a5a" stroke-width="0.7"/><line x1="0" y1="-2" x2="0" y2="-8.4" stroke="#5a5a5a" stroke-width="0.7"/><line x1="2.8" y1="-2" x2="9.3" y2="-7.8" stroke="#5a5a5a" stroke-width="0.7"/><line x1="5.6" y1="-2" x2="18.7" y2="-6.1" stroke="#5a5a5a" stroke-width="0.7"/><line x1="8.4" y1="-2" x2="28" y2="-4.5" stroke="#5a5a5a" stroke-width="0.7"/><line x1="-8.4" y1="2" x2="-28" y2="4.5" stroke="#5a5a5a" stroke-width="0.7"/><line x1="-5.6" y1="2" x2="-18.7" y2="6.1" stroke="#5a5a5a" stroke-width="0.7"/><line x1="-2.8" y1="2" x2="-9.3" y2="7.8" stroke="#5a5a5a" stroke-width="0.7"/><line x1="0" y1="2" x2="0" y2="8.4" stroke="#5a5a5a" stroke-width="0.7"/><line x1="2.8" y1="2" x2="9.3" y2="7.8" stroke="#5a5a5a" stroke-width="0.7"/><line x1="5.6" y1="2" x2="18.7" y2="6.1" stroke="#5a5a5a" stroke-width="0.7"/><line x1="8.4" y1="2" x2="28" y2="4.5" stroke="#5a5a5a" stroke-width="0.7"/></g>
<g transform="matrix(-0.3827 -0.6532 0.9239 -0.2706 1060.8 1640.1)"><polygon points="-14.5,0 1.5,-8.8 14.5,0 -1.5,8.8" fill="#151515" stroke="#111" stroke-width="1.3" stroke-linejoin="round"/><line x1="-7.2" y1="0" x2="7.2" y2="0" stroke="#666" stroke-width="0.8"/></g>
<g transform="matrix(-0.1305 -0.7010 0.9914 -0.0923 1034.3 1570.5)"><polygon points="-37.4,-3.5 -6,-10.5 6,-10.5 37.4,-3.5 37.4,3.5 6,10.5 -6,10.5 -37.4,3.5" fill="#151515" stroke="#111" stroke-width="1.4" stroke-linejoin="round"/><line x1="-35.9" y1="0" x2="-3" y2="0" stroke="#e8e8e8" stroke-width="2.2"/><line x1="3" y1="0" x2="35.9" y2="0" stroke="#e8e8e8" stroke-width="2.2"/><line x1="-8.4" y1="-2" x2="-28" y2="-4.5" stroke="#5a5a5a" stroke-width="0.7"/><line x1="-5.6" y1="-2" x2="-18.7" y2="-6.1" stroke="#5a5a5a" stroke-width="0.7"/><line x1="-2.8" y1="-2" x2="-9.3" y2="-7.8" stroke="#5a5a5a" stroke-width="0.7"/><line x1="0" y1="-2" x2="0" y2="-8.4" stroke="#5a5a5a" stroke-width="0.7"/><line x1="2.8" y1="-2" x2="9.3" y2="-7.8" stroke="#5a5a5a" stroke-width="0.7"/><line x1="5.6" y1="-2" x2="18.7" y2="-6.1" stroke="#5a5a5a" stroke-width="0.7"/><line x1="8.4" y1="-2" x2="28" y2="-4.5" stroke="#5a5a5a" stroke-width="0.7"/><line x1="-8.4" y1="2" x2="-28" y2="4.5" stroke="#5a5a5a" stroke-width="0.7"/><line x1="-5.6" y1="2" x2="-18.7" y2="6.1" stroke="#5a5a5a" stroke-width="0.7"/><line x1="-2.8" y1="2" x2="-9.3" y2="7.8" stroke="#5a5a5a" stroke-width="0.7"/><line x1="0" y1="2" x2="0" y2="8.4" stroke="#5a5a5a" stroke-width="0.7"/><line x1="2.8" y1="2" x2="9.3" y2="7.8" stroke="#5a5a5a" stroke-width="0.7"/><line x1="5.6" y1="2" x2="18.7" y2="6.1" stroke="#5a5a5a" stroke-width="0.7"/><line x1="8.4" y1="2" x2="28" y2="4.5" stroke="#5a5a5a" stroke-width="0.7"/></g>
<g transform="matrix(0.1305 -0.7010 0.9914 0.0923 1034.3 1498.5)"><polygon points="-14.5,0 1.5,-8.8 14.5,0 -1.5,8.8" fill="#151515" stroke="#111" stroke-width="1.3" stroke-linejoin="round"/><line x1="-7.2" y1="0" x2="7.2" y2="0" stroke="#666" stroke-width="0.8"/></g>
<g transform="matrix(0.3827 -0.6532 0.9239 0.2706 1060.8 1428.9)"><polygon points="-37.4,-3.5 -6,-10.5 6,-10.5 37.4,-3.5 37.4,3.5 6,10.5 -6,10.5 -37.4,3.5" fill="#151515" stroke="#111" stroke-width="1.4" stroke-linejoin="round"/><line x1="-35.9" y1="0" x2="-3" y2="0" stroke="#e8e8e8" stroke-width="2.2"/><line x1="3" y1="0" x2="35.9" y2="0" stroke="#e8e8e8" stroke-width="2.2"/><line x1="-8.4" y1="-2" x2="-28" y2="-4.5" stroke="#5a5a5a" stroke-width="0.7"/><line x1="-5.6" y1="-2" x2="-18.7" y2="-6.1" stroke="#5a5a5a" stroke-width="0.7"/><line x1="-2.8" y1="-2" x2="-9.3" y2="-7.8" stroke="#5a5a5a" stroke-width="0.7"/><line x1="0" y1="-2" x2="0" y2="-8.4" stroke="#5a5a5a" stroke-width="0.7"/><line x1="2.8" y1="-2" x2="9.3" y2="-7.8" stroke="#5a5a5a" stroke-width="0.7"/><line x1="5.6" y1="-2" x2="18.7" y2="-6.1" stroke="#5a5a5a" stroke-width="0.7"/><line x1="8.4" y1="-2" x2="28" y2="-4.5" stroke="#5a5a5a" stroke-width="0.7"/><line x1="-8.4" y1="2" x2="-28" y2="4.5" stroke="#5a5a5a" stroke-width="0.7"/><line x1="-5.6" y1="2" x2="-18.7" y2="6.1" stroke="#5a5a5a" stroke-width="0.7"/><line x1="-2.8" y1="2" x2="-9.3" y2="7.8" stroke="#5a5a5a" stroke-width="0.7"/><line x1="0" y1="2" x2="0" y2="8.4" stroke="#5a5a5a" stroke-width="0.7"/><line x1="2.8" y1="2" x2="9.3" y2="7.8" stroke="#5a5a5a" stroke-width="0.7"/><line x1="5.6" y1="2" x2="18.7" y2="6.1" stroke="#5a5a5a" stroke-width="0.7"/><line x1="8.4" y1="2" x2="28" y2="4.5" stroke="#5a5a5a" stroke-width="0.7"/></g>
<g transform="matrix(0.6088 -0.5609 0.7934 0.4304 1111.8 1366.5)"><polygon points="-14.5,0 1.5,-8.8 14.5,0 -1.5,8.8" fill="#151515" stroke="#111" stroke-width="1.3" stroke-linejoin="round"/><line x1="-7.2" y1="0" x2="7.2" y2="0" stroke="#666" stroke-width="0.8"/></g>
<g transform="matrix(0.7934 -0.4304 0.6088 0.5609 1184 1315.5)"><polygon points="-37.4,-3.5 -6,-10.5 6,-10.5 37.4,-3.5 37.4,3.5 6,10.5 -6,10.5 -37.4,3.5" fill="#151515" stroke="#111" stroke-width="1.4" stroke-linejoin="round"/><line x1="-35.9" y1="0" x2="-3" y2="0" stroke="#e8e8e8" stroke-width="2.2"/><line x1="3" y1="0" x2="35.9" y2="0" stroke="#e8e8e8" stroke-width="2.2"/><line x1="-8.4" y1="-2" x2="-28" y2="-4.5" stroke="#5a5a5a" stroke-width="0.7"/><line x1="-5.6" y1="-2" x2="-18.7" y2="-6.1" stroke="#5a5a5a" stroke-width="0.7"/><line x1="-2.8" y1="-2" x2="-9.3" y2="-7.8" stroke="#5a5a5a" stroke-width="0.7"/><line x1="0" y1="-2" x2="0" y2="-8.4" stroke="#5a5a5a" stroke-width="0.7"/><line x1="2.8" y1="-2" x2="9.3" y2="-7.8" stroke="#5a5a5a" stroke-width="0.7"/><line x1="5.6" y1="-2" x2="18.7" y2="-6.1" stroke="#5a5a5a" stroke-width="0.7"/><line x1="8.4" y1="-2" x2="28" y2="-4.5" stroke="#5a5a5a" stroke-width="0.7"/><line x1="-8.4" y1="2" x2="-28" y2="4.5" stroke="#5a5a5a" stroke-width="0.7"/><line x1="-5.6" y1="2" x2="-18.7" y2="6.1" stroke="#5a5a5a" stroke-width="0.7"/><line x1="-2.8" y1="2" x2="-9.3" y2="7.8" stroke="#5a5a5a" stroke-width="0.7"/><line x1="0" y1="2" x2="0" y2="8.4" stroke="#5a5a5a" stroke-width="0.7"/><line x1="2.8" y1="2" x2="9.3" y2="7.8" stroke="#5a5a5a" stroke-width="0.7"/><line x1="5.6" y1="2" x2="18.7" y2="6.1" stroke="#5a5a5a" stroke-width="0.7"/><line x1="8.4" y1="2" x2="28" y2="4.5" stroke="#5a5a5a" stroke-width="0.7"/></g>
<g transform="matrix(0.9239 -0.2706 0.3827 0.6532 1272.4 1279.5)"><polygon points="-14.5,0 1.5,-8.8 14.5,0 -1.5,8.8" fill="#151515" stroke="#111" stroke-width="1.3" stroke-linejoin="round"/><line x1="-7.2" y1="0" x2="7.2" y2="0" stroke="#666" stroke-width="0.8"/></g>
<g transform="matrix(0.9914 -0.0923 0.1305 0.7010 1371 1260.9)"><polygon points="-37.4,-3.5 -6,-10.5 6,-10.5 37.4,-3.5 37.4,3.5 6,10.5 -6,10.5 -37.4,3.5" fill="#151515" stroke="#111" stroke-width="1.4" stroke-linejoin="round"/><line x1="-35.9" y1="0" x2="-3" y2="0" stroke="#e8e8e8" stroke-width="2.2"/><line x1="3" y1="0" x2="35.9" y2="0" stroke="#e8e8e8" stroke-width="2.2"/><line x1="-8.4" y1="-2" x2="-28" y2="-4.5" stroke="#5a5a5a" stroke-width="0.7"/><line x1="-5.6" y1="-2" x2="-18.7" y2="-6.1" stroke="#5a5a5a" stroke-width="0.7"/><line x1="-2.8" y1="-2" x2="-9.3" y2="-7.8" stroke="#5a5a5a" stroke-width="0.7"/><line x1="0" y1="-2" x2="0" y2="-8.4" stroke="#5a5a5a" stroke-width="0.7"/><line x1="2.8" y1="-2" x2="9.3" y2="-7.8" stroke="#5a5a5a" stroke-width="0.7"/><line x1="5.6" y1="-2" x2="18.7" y2="-6.1" stroke="#5a5a5a" stroke-width="0.7"/><line x1="8.4" y1="-2" x2="28" y2="-4.5" stroke="#5a5a5a" stroke-width="0.7"/><line x1="-8.4" y1="2" x2="-28" y2="4.5" stroke="#5a5a5a" stroke-width="0.7"/><line x1="-5.6" y1="2" x2="-18.7" y2="6.1" stroke="#5a5a5a" stroke-width="0.7"/><line x1="-2.8" y1="2" x2="-9.3" y2="7.8" stroke="#5a5a5a" stroke-width="0.7"/><line x1="0" y1="2" x2="0" y2="8.4" stroke="#5a5a5a" stroke-width="0.7"/><line x1="2.8" y1="2" x2="9.3" y2="7.8" stroke="#5a5a5a" stroke-width="0.7"/><line x1="5.6" y1="2" x2="18.7" y2="6.1" stroke="#5a5a5a" stroke-width="0.7"/><line x1="8.4" y1="2" x2="28" y2="4.5" stroke="#5a5a5a" stroke-width="0.7"/></g>
<polyline points="1450.3,1329.4 1460.4,1330.3 1470.4,1331.3 1480.4,1332.6 1490.3,1334.2 1500.1,1336 1509.9,1338 1519.5,1340.3 1529,1342.8 1538.3,1345.6 1547.6,1348.6" fill="none" stroke="#111" stroke-width="2" stroke-linejoin="round"/>
<polyline points="1547.6,1348.6 1556.6,1351.8 1565.5,1355.2 1574.3,1358.9 1582.8,1362.7 1591.2,1366.8 1599.3,1371.1 1607.3,1375.5 1615,1380.2 1622.5,1385.1 1629.7,1390.1" fill="none" stroke="#111" stroke-width="2" stroke-linejoin="round" stroke-dasharray="12,6"/>
<polyline points="1629.7,1390.1 1636.7,1395.3 1643.4,1400.7 1649.8,1406.3 1656,1412 1661.9,1417.8 1667.5,1423.8 1672.8,1429.9 1677.8,1436.2 1682.5,1442.6 1686.8,1449.1" fill="none" stroke="#111" stroke-width="2" stroke-linejoin="round"/>
<polyline points="1686.8,1449.1 1690.9,1455.7 1694.6,1462.4 1698,1469.1 1701,1476 1703.7,1482.9 1706.1,1489.9 1708.1,1497 1709.8,1504.1 1711.1,1511.2 1712.1,1518.3" fill="none" stroke="#111" stroke-width="2" stroke-linejoin="round" stroke-dasharray="12,6"/>
<polyline points="1712.1,1518.3 1712.7,1525.5 1713,1532.7 1712.9,1539.9 1712.5,1547.1 1711.7,1554.2 1710.5,1561.4 1709,1568.5 1707.2,1575.6 1705,1582.6 1702.4,1589.6" fill="none" stroke="#111" stroke-width="2" stroke-linejoin="round"/>
<polyline points="1702.4,1589.6 1699.6,1596.4 1696.3,1603.3 1692.8,1610 1688.9,1616.6 1684.7,1623.2 1680.2,1629.6 1675.3,1635.9 1670.2,1642.1 1664.7,1648.2 1659,1654.1" fill="none" stroke="#111" stroke-width="2" stroke-linejoin="round" stroke-dasharray="12,6"/>
<polyline points="1659,1654.1 1653,1659.9 1646.7,1665.5 1640.1,1671 1633.2,1676.3 1626.1,1681.4 1618.8,1686.4 1611.2,1691.1 1603.3,1695.7 1595.3,1700.1 1587,1704.3" fill="none" stroke="#111" stroke-width="2" stroke-linejoin="round"/>
<polyline points="1587,1704.3 1578.6,1708.2 1569.9,1712 1561.1,1715.5 1552.1,1718.9 1543,1722 1533.7,1724.8 1524.2,1727.5 1514.7,1729.9 1505,1732 1495.2,1733.9" fill="none" stroke="#111" stroke-width="2" stroke-linejoin="round" stroke-dasharray="12,6"/>
<polyline points="1495.2,1733.9 1485.4,1735.6 1475.4,1737.1 1465.4,1738.2 1455.4,1739.2 1445.3,1739.9 1435.2,1740.3 1425,1740.5 1414.9,1740.4 1404.8,1740.1 1394.7,1739.6" fill="none" stroke="#111" stroke-width="2" stroke-linejoin="round"/>
<polyline points="1394.7,1739.6 1384.6,1738.7 1374.6,1737.7 1364.6,1736.4 1354.7,1734.8 1344.9,1733 1335.1,1731 1325.5,1728.7 1316,1726.2 1306.7,1723.4 1297.4,1720.4" fill="none" stroke="#111" stroke-width="2" stroke-linejoin="round" stroke-dasharray="12,6"/>
<polyline points="1297.4,1720.4 1288.4,1717.2 1279.5,1713.8 1270.7,1710.1 1262.2,1706.3 1253.8,1702.2 1245.7,1697.9 1237.7,1693.5 1230,1688.8 1222.5,1683.9 1215.3,1678.9" fill="none" stroke="#111" stroke-width="2" stroke-linejoin="round"/>
<polyline points="1215.3,1678.9 1208.3,1673.7 1201.6,1668.3 1195.2,1662.7 1189,1657 1183.1,1651.2 1177.5,1645.2 1172.2,1639.1 1167.2,1632.8 1162.5,1626.4 1158.2,1619.9" fill="none" stroke="#111" stroke-width="2" stroke-linejoin="round" stroke-dasharray="12,6"/>
<polyline points="1158.2,1619.9 1154.1,1613.3 1150.4,1606.6 1147,1599.9 1144,1593 1141.3,1586.1 1138.9,1579.1 1136.9,1572 1135.2,1564.9 1133.9,1557.8 1132.9,1550.7" fill="none" stroke="#111" stroke-width="2" stroke-linejoin="round"/>
<polyline points="1132.9,1550.7 1132.3,1543.5 1132,1536.3 1132.1,1529.1 1132.5,1521.9 1133.3,1514.8 1134.5,1507.6 1136,1500.5 1137.8,1493.4 1140,1486.4 1142.6,1479.4" fill="none" stroke="#111" stroke-width="2" stroke-linejoin="round" stroke-dasharray="12,6"/>
<polyline points="1142.6,1479.4 1145.4,1472.6 1148.7,1465.7 1152.2,1459 1156.1,1452.4 1160.3,1445.8 1164.8,1439.4 1169.7,1433.1 1174.8,1426.9 1180.3,1420.8 1186,1414.9" fill="none" stroke="#111" stroke-width="2" stroke-linejoin="round"/>
<polyline points="1186,1414.9 1192,1409.1 1198.3,1403.5 1204.9,1398 1211.8,1392.7 1218.9,1387.6 1226.2,1382.6 1233.8,1377.9 1241.7,1373.3 1249.7,1368.9 1258,1364.7" fill="none" stroke="#111" stroke-width="2" stroke-linejoin="round" stroke-dasharray="12,6"/>
<polyline points="1258,1364.7 1266.4,1360.8 1275.1,1357 1283.9,1353.5 1292.9,1350.1 1302,1347 1311.3,1344.2 1320.8,1341.5 1330.3,1339.1 1340,1337 1349.8,1335.1" fill="none" stroke="#111" stroke-width="2" stroke-linejoin="round"/>
<polyline points="1349.8,1335.1 1359.6,1333.4 1369.6,1331.9 1379.6,1330.8 1389.6,1329.8 1399.7,1329.1 1409.8,1328.7 1420,1328.5 1430.1,1328.6 1440.2,1328.9 1450.3,1329.4" fill="none" stroke="#111" stroke-width="2" stroke-linejoin="round" stroke-dasharray="12,6"/>
<g transform="matrix(0.9954 0.0678 -0.0958 0.7037 1450.3 1329.4)"><polygon points="-13,0 1.3,-7.5 13,0 -1.3,7.5" fill="#151515" stroke="#111" stroke-width="1.3" stroke-linejoin="round"/><line x1="-6.5" y1="0" x2="6.5" y2="0" stroke="#666" stroke-width="0.8"/></g>
<g transform="matrix(0.9026 0.3044 -0.4305 0.6381 1547.6 1348.6)"><polygon points="-37.4,-3.5 -6,-10.5 6,-10.5 37.4,-3.5 37.4,3.5 6,10.5 -6,10.5 -37.4,3.5" fill="#151515" stroke="#111" stroke-width="1.4" stroke-linejoin="round"/><line x1="-35.9" y1="0" x2="-3" y2="0" stroke="#e8e8e8" stroke-width="2.2"/><line x1="3" y1="0" x2="35.9" y2="0" stroke="#e8e8e8" stroke-width="2.2"/><line x1="-8.4" y1="-2" x2="-28" y2="-4.5" stroke="#5a5a5a" stroke-width="0.7"/><line x1="-5.6" y1="-2" x2="-18.7" y2="-6.1" stroke="#5a5a5a" stroke-width="0.7"/><line x1="-2.8" y1="-2" x2="-9.3" y2="-7.8" stroke="#5a5a5a" stroke-width="0.7"/><line x1="0" y1="-2" x2="0" y2="-8.4" stroke="#5a5a5a" stroke-width="0.7"/><line x1="2.8" y1="-2" x2="9.3" y2="-7.8" stroke="#5a5a5a" stroke-width="0.7"/><line x1="5.6" y1="-2" x2="18.7" y2="-6.1" stroke="#5a5a5a" stroke-width="0.7"/><line x1="8.4" y1="-2" x2="28" y2="-4.5" stroke="#5a5a5a" stroke-width="0.7"/><line x1="-8.4" y1="2" x2="-28" y2="4.5" stroke="#5a5a5a" stroke-width="0.7"/><line x1="-5.6" y1="2" x2="-18.7" y2="6.1" stroke="#5a5a5a" stroke-width="0.7"/><line x1="-2.8" y1="2" x2="-9.3" y2="7.8" stroke="#5a5a5a" stroke-width="0.7"/><line x1="0" y1="2" x2="0" y2="8.4" stroke="#5a5a5a" stroke-width="0.7"/><line x1="2.8" y1="2" x2="9.3" y2="7.8" stroke="#5a5a5a" stroke-width="0.7"/><line x1="5.6" y1="2" x2="18.7" y2="6.1" stroke="#5a5a5a" stroke-width="0.7"/><line x1="8.4" y1="2" x2="28" y2="4.5" stroke="#5a5a5a" stroke-width="0.7"/></g>
<g transform="matrix(0.7009 0.5043 -0.7133 0.4955 1629.7 1390.1)"><polygon points="-13,0 1.3,-7.5 13,0 -1.3,7.5" fill="#151515" stroke="#111" stroke-width="1.3" stroke-linejoin="round"/><line x1="-6.5" y1="0" x2="6.5" y2="0" stroke="#666" stroke-width="0.8"/></g>
<g transform="matrix(0.4147 0.6433 -0.9100 0.2932 1686.8 1449.1)"><polygon points="-37.4,-3.5 -6,-10.5 6,-10.5 37.4,-3.5 37.4,3.5 6,10.5 -6,10.5 -37.4,3.5" fill="#151515" stroke="#111" stroke-width="1.4" stroke-linejoin="round"/><line x1="-35.9" y1="0" x2="-3" y2="0" stroke="#e8e8e8" stroke-width="2.2"/><line x1="3" y1="0" x2="35.9" y2="0" stroke="#e8e8e8" stroke-width="2.2"/><line x1="-8.4" y1="-2" x2="-28" y2="-4.5" stroke="#5a5a5a" stroke-width="0.7"/><line x1="-5.6" y1="-2" x2="-18.7" y2="-6.1" stroke="#5a5a5a" stroke-width="0.7"/><line x1="-2.8" y1="-2" x2="-9.3" y2="-7.8" stroke="#5a5a5a" stroke-width="0.7"/><line x1="0" y1="-2" x2="0" y2="-8.4" stroke="#5a5a5a" stroke-width="0.7"/><line x1="2.8" y1="-2" x2="9.3" y2="-7.8" stroke="#5a5a5a" stroke-width="0.7"/><line x1="5.6" y1="-2" x2="18.7" y2="-6.1" stroke="#5a5a5a" stroke-width="0.7"/><line x1="8.4" y1="-2" x2="28" y2="-4.5" stroke="#5a5a5a" stroke-width="0.7"/><line x1="-8.4" y1="2" x2="-28" y2="4.5" stroke="#5a5a5a" stroke-width="0.7"/><line x1="-5.6" y1="2" x2="-18.7" y2="6.1" stroke="#5a5a5a" stroke-width="0.7"/><line x1="-2.8" y1="2" x2="-9.3" y2="7.8" stroke="#5a5a5a" stroke-width="0.7"/><line x1="0" y1="2" x2="0" y2="8.4" stroke="#5a5a5a" stroke-width="0.7"/><line x1="2.8" y1="2" x2="9.3" y2="7.8" stroke="#5a5a5a" stroke-width="0.7"/><line x1="5.6" y1="2" x2="18.7" y2="6.1" stroke="#5a5a5a" stroke-width="0.7"/><line x1="8.4" y1="2" x2="28" y2="4.5" stroke="#5a5a5a" stroke-width="0.7"/></g>
<g transform="matrix(0.0785 0.7048 -0.9969 0.0555 1712.1 1518.3)"><polygon points="-13,0 1.3,-7.5 13,0 -1.3,7.5" fill="#151515" stroke="#111" stroke-width="1.3" stroke-linejoin="round"/><line x1="-6.5" y1="0" x2="6.5" y2="0" stroke="#666" stroke-width="0.8"/></g>
<g transform="matrix(-0.2672 0.6813 -0.9636 -0.1889 1702.4 1589.6)"><polygon points="-37.4,-3.5 -6,-10.5 6,-10.5 37.4,-3.5 37.4,3.5 6,10.5 -6,10.5 -37.4,3.5" fill="#151515" stroke="#111" stroke-width="1.4" stroke-linejoin="round"/><line x1="-35.9" y1="0" x2="-3" y2="0" stroke="#e8e8e8" stroke-width="2.2"/><line x1="3" y1="0" x2="35.9" y2="0" stroke="#e8e8e8" stroke-width="2.2"/><line x1="-8.4" y1="-2" x2="-28" y2="-4.5" stroke="#5a5a5a" stroke-width="0.7"/><line x1="-5.6" y1="-2" x2="-18.7" y2="-6.1" stroke="#5a5a5a" stroke-width="0.7"/><line x1="-2.8" y1="-2" x2="-9.3" y2="-7.8" stroke="#5a5a5a" stroke-width="0.7"/><line x1="0" y1="-2" x2="0" y2="-8.4" stroke="#5a5a5a" stroke-width="0.7"/><line x1="2.8" y1="-2" x2="9.3" y2="-7.8" stroke="#5a5a5a" stroke-width="0.7"/><line x1="5.6" y1="-2" x2="18.7" y2="-6.1" stroke="#5a5a5a" stroke-width="0.7"/><line x1="8.4" y1="-2" x2="28" y2="-4.5" stroke="#5a5a5a" stroke-width="0.7"/><line x1="-8.4" y1="2" x2="-28" y2="4.5" stroke="#5a5a5a" stroke-width="0.7"/><line x1="-5.6" y1="2" x2="-18.7" y2="6.1" stroke="#5a5a5a" stroke-width="0.7"/><line x1="-2.8" y1="2" x2="-9.3" y2="7.8" stroke="#5a5a5a" stroke-width="0.7"/><line x1="0" y1="2" x2="0" y2="8.4" stroke="#5a5a5a" stroke-width="0.7"/><line x1="2.8" y1="2" x2="9.3" y2="7.8" stroke="#5a5a5a" stroke-width="0.7"/><line x1="5.6" y1="2" x2="18.7" y2="6.1" stroke="#5a5a5a" stroke-width="0.7"/><line x1="8.4" y1="2" x2="28" y2="4.5" stroke="#5a5a5a" stroke-width="0.7"/></g>
<g transform="matrix(-0.5807 0.5756 -0.8141 -0.4106 1659 1654.1)"><polygon points="-13,0 1.3,-7.5 13,0 -1.3,7.5" fill="#151515" stroke="#111" stroke-width="1.3" stroke-linejoin="round"/><line x1="-6.5" y1="0" x2="6.5" y2="0" stroke="#666" stroke-width="0.8"/></g>
<g transform="matrix(-0.8241 0.4004 -0.5664 -0.5827 1587 1704.3)"><polygon points="-37.4,-3.5 -6,-10.5 6,-10.5 37.4,-3.5 37.4,3.5 6,10.5 -6,10.5 -37.4,3.5" fill="#151515" stroke="#111" stroke-width="1.4" stroke-linejoin="round"/><line x1="-35.9" y1="0" x2="-3" y2="0" stroke="#e8e8e8" stroke-width="2.2"/><line x1="3" y1="0" x2="35.9" y2="0" stroke="#e8e8e8" stroke-width="2.2"/><line x1="-8.4" y1="-2" x2="-28" y2="-4.5" stroke="#5a5a5a" stroke-width="0.7"/><line x1="-5.6" y1="-2" x2="-18.7" y2="-6.1" stroke="#5a5a5a" stroke-width="0.7"/><line x1="-2.8" y1="-2" x2="-9.3" y2="-7.8" stroke="#5a5a5a" stroke-width="0.7"/><line x1="0" y1="-2" x2="0" y2="-8.4" stroke="#5a5a5a" stroke-width="0.7"/><line x1="2.8" y1="-2" x2="9.3" y2="-7.8" stroke="#5a5a5a" stroke-width="0.7"/><line x1="5.6" y1="-2" x2="18.7" y2="-6.1" stroke="#5a5a5a" stroke-width="0.7"/><line x1="8.4" y1="-2" x2="28" y2="-4.5" stroke="#5a5a5a" stroke-width="0.7"/><line x1="-8.4" y1="2" x2="-28" y2="4.5" stroke="#5a5a5a" stroke-width="0.7"/><line x1="-5.6" y1="2" x2="-18.7" y2="6.1" stroke="#5a5a5a" stroke-width="0.7"/><line x1="-2.8" y1="2" x2="-9.3" y2="7.8" stroke="#5a5a5a" stroke-width="0.7"/><line x1="0" y1="2" x2="0" y2="8.4" stroke="#5a5a5a" stroke-width="0.7"/><line x1="2.8" y1="2" x2="9.3" y2="7.8" stroke="#5a5a5a" stroke-width="0.7"/><line x1="5.6" y1="2" x2="18.7" y2="6.1" stroke="#5a5a5a" stroke-width="0.7"/><line x1="8.4" y1="2" x2="28" y2="4.5" stroke="#5a5a5a" stroke-width="0.7"/></g>
<g transform="matrix(-0.9681 0.1770 -0.2504 -0.6845 1495.2 1733.9)"><polygon points="-13,0 1.3,-7.5 13,0 -1.3,7.5" fill="#151515" stroke="#111" stroke-width="1.3" stroke-linejoin="round"/><line x1="-6.5" y1="0" x2="6.5" y2="0" stroke="#666" stroke-width="0.8"/></g>
<g transform="matrix(-0.9954 -0.0678 0.0958 -0.7037 1394.7 1739.6)"><polygon points="-37.4,-3.5 -6,-10.5 6,-10.5 37.4,-3.5 37.4,3.5 6,10.5 -6,10.5 -37.4,3.5" fill="#151515" stroke="#111" stroke-width="1.4" stroke-linejoin="round"/><line x1="-35.9" y1="0" x2="-3" y2="0" stroke="#e8e8e8" stroke-width="2.2"/><line x1="3" y1="0" x2="35.9" y2="0" stroke="#e8e8e8" stroke-width="2.2"/><line x1="-8.4" y1="-2" x2="-28" y2="-4.5" stroke="#5a5a5a" stroke-width="0.7"/><line x1="-5.6" y1="-2" x2="-18.7" y2="-6.1" stroke="#5a5a5a" stroke-width="0.7"/><line x1="-2.8" y1="-2" x2="-9.3" y2="-7.8" stroke="#5a5a5a" stroke-width="0.7"/><line x1="0" y1="-2" x2="0" y2="-8.4" stroke="#5a5a5a" stroke-width="0.7"/><line x1="2.8" y1="-2" x2="9.3" y2="-7.8" stroke="#5a5a5a" stroke-width="0.7"/><line x1="5.6" y1="-2" x2="18.7" y2="-6.1" stroke="#5a5a5a" stroke-width="0.7"/><line x1="8.4" y1="-2" x2="28" y2="-4.5" stroke="#5a5a5a" stroke-width="0.7"/><line x1="-8.4" y1="2" x2="-28" y2="4.5" stroke="#5a5a5a" stroke-width="0.7"/><line x1="-5.6" y1="2" x2="-18.7" y2="6.1" stroke="#5a5a5a" stroke-width="0.7"/><line x1="-2.8" y1="2" x2="-9.3" y2="7.8" stroke="#5a5a5a" stroke-width="0.7"/><line x1="0" y1="2" x2="0" y2="8.4" stroke="#5a5a5a" stroke-width="0.7"/><line x1="2.8" y1="2" x2="9.3" y2="7.8" stroke="#5a5a5a" stroke-width="0.7"/><line x1="5.6" y1="2" x2="18.7" y2="6.1" stroke="#5a5a5a" stroke-width="0.7"/><line x1="8.4" y1="2" x2="28" y2="4.5" stroke="#5a5a5a" stroke-width="0.7"/></g>
<g transform="matrix(-0.9026 -0.3044 0.4305 -0.6381 1297.4 1720.4)"><polygon points="-13,0 1.3,-7.5 13,0 -1.3,7.5" fill="#151515" stroke="#111" stroke-width="1.3" stroke-linejoin="round"/><line x1="-6.5" y1="0" x2="6.5" y2="0" stroke="#666" stroke-width="0.8"/></g>
<g transform="matrix(-0.7009 -0.5043 0.7133 -0.4955 1215.3 1678.9)"><polygon points="-37.4,-3.5 -6,-10.5 6,-10.5 37.4,-3.5 37.4,3.5 6,10.5 -6,10.5 -37.4,3.5" fill="#151515" stroke="#111" stroke-width="1.4" stroke-linejoin="round"/><line x1="-35.9" y1="0" x2="-3" y2="0" stroke="#e8e8e8" stroke-width="2.2"/><line x1="3" y1="0" x2="35.9" y2="0" stroke="#e8e8e8" stroke-width="2.2"/><line x1="-8.4" y1="-2" x2="-28" y2="-4.5" stroke="#5a5a5a" stroke-width="0.7"/><line x1="-5.6" y1="-2" x2="-18.7" y2="-6.1" stroke="#5a5a5a" stroke-width="0.7"/><line x1="-2.8" y1="-2" x2="-9.3" y2="-7.8" stroke="#5a5a5a" stroke-width="0.7"/><line x1="0" y1="-2" x2="0" y2="-8.4" stroke="#5a5a5a" stroke-width="0.7"/><line x1="2.8" y1="-2" x2="9.3" y2="-7.8" stroke="#5a5a5a" stroke-width="0.7"/><line x1="5.6" y1="-2" x2="18.7" y2="-6.1" stroke="#5a5a5a" stroke-width="0.7"/><line x1="8.4" y1="-2" x2="28" y2="-4.5" stroke="#5a5a5a" stroke-width="0.7"/><line x1="-8.4" y1="2" x2="-28" y2="4.5" stroke="#5a5a5a" stroke-width="0.7"/><line x1="-5.6" y1="2" x2="-18.7" y2="6.1" stroke="#5a5a5a" stroke-width="0.7"/><line x1="-2.8" y1="2" x2="-9.3" y2="7.8" stroke="#5a5a5a" stroke-width="0.7"/><line x1="0" y1="2" x2="0" y2="8.4" stroke="#5a5a5a" stroke-width="0.7"/><line x1="2.8" y1="2" x2="9.3" y2="7.8" stroke="#5a5a5a" stroke-width="0.7"/><line x1="5.6" y1="2" x2="18.7" y2="6.1" stroke="#5a5a5a" stroke-width="0.7"/><line x1="8.4" y1="2" x2="28" y2="4.5" stroke="#5a5a5a" stroke-width="0.7"/></g>
<g transform="matrix(-0.4147 -0.6433 0.9100 -0.2932 1158.2 1619.9)"><polygon points="-13,0 1.3,-7.5 13,0 -1.3,7.5" fill="#151515" stroke="#111" stroke-width="1.3" stroke-linejoin="round"/><line x1="-6.5" y1="0" x2="6.5" y2="0" stroke="#666" stroke-width="0.8"/></g>
<g transform="matrix(-0.0785 -0.7048 0.9969 -0.0555 1132.9 1550.7)"><polygon points="-37.4,-3.5 -6,-10.5 6,-10.5 37.4,-3.5 37.4,3.5 6,10.5 -6,10.5 -37.4,3.5" fill="#151515" stroke="#111" stroke-width="1.4" stroke-linejoin="round"/><line x1="-35.9" y1="0" x2="-3" y2="0" stroke="#e8e8e8" stroke-width="2.2"/><line x1="3" y1="0" x2="35.9" y2="0" stroke="#e8e8e8" stroke-width="2.2"/><line x1="-8.4" y1="-2" x2="-28" y2="-4.5" stroke="#5a5a5a" stroke-width="0.7"/><line x1="-5.6" y1="-2" x2="-18.7" y2="-6.1" stroke="#5a5a5a" stroke-width="0.7"/><line x1="-2.8" y1="-2" x2="-9.3" y2="-7.8" stroke="#5a5a5a" stroke-width="0.7"/><line x1="0" y1="-2" x2="0" y2="-8.4" stroke="#5a5a5a" stroke-width="0.7"/><line x1="2.8" y1="-2" x2="9.3" y2="-7.8" stroke="#5a5a5a" stroke-width="0.7"/><line x1="5.6" y1="-2" x2="18.7" y2="-6.1" stroke="#5a5a5a" stroke-width="0.7"/><line x1="8.4" y1="-2" x2="28" y2="-4.5" stroke="#5a5a5a" stroke-width="0.7"/><line x1="-8.4" y1="2" x2="-28" y2="4.5" stroke="#5a5a5a" stroke-width="0.7"/><line x1="-5.6" y1="2" x2="-18.7" y2="6.1" stroke="#5a5a5a" stroke-width="0.7"/><line x1="-2.8" y1="2" x2="-9.3" y2="7.8" stroke="#5a5a5a" stroke-width="0.7"/><line x1="0" y1="2" x2="0" y2="8.4" stroke="#5a5a5a" stroke-width="0.7"/><line x1="2.8" y1="2" x2="9.3" y2="7.8" stroke="#5a5a5a" stroke-width="0.7"/><line x1="5.6" y1="2" x2="18.7" y2="6.1" stroke="#5a5a5a" stroke-width="0.7"/><line x1="8.4" y1="2" x2="28" y2="4.5" stroke="#5a5a5a" stroke-width="0.7"/></g>
<g transform="matrix(0.2672 -0.6813 0.9636 0.1889 1142.6 1479.4)"><polygon points="-13,0 1.3,-7.5 13,0 -1.3,7.5" fill="#151515" stroke="#111" stroke-width="1.3" stroke-linejoin="round"/><line x1="-6.5" y1="0" x2="6.5" y2="0" stroke="#666" stroke-width="0.8"/></g>
<g transform="matrix(0.5807 -0.5756 0.8141 0.4106 1186 1414.9)"><polygon points="-37.4,-3.5 -6,-10.5 6,-10.5 37.4,-3.5 37.4,3.5 6,10.5 -6,10.5 -37.4,3.5" fill="#151515" stroke="#111" stroke-width="1.4" stroke-linejoin="round"/><line x1="-35.9" y1="0" x2="-3" y2="0" stroke="#e8e8e8" stroke-width="2.2"/><line x1="3" y1="0" x2="35.9" y2="0" stroke="#e8e8e8" stroke-width="2.2"/><line x1="-8.4" y1="-2" x2="-28" y2="-4.5" stroke="#5a5a5a" stroke-width="0.7"/><line x1="-5.6" y1="-2" x2="-18.7" y2="-6.1" stroke="#5a5a5a" stroke-width="0.7"/><line x1="-2.8" y1="-2" x2="-9.3" y2="-7.8" stroke="#5a5a5a" stroke-width="0.7"/><line x1="0" y1="-2" x2="0" y2="-8.4" stroke="#5a5a5a" stroke-width="0.7"/><line x1="2.8" y1="-2" x2="9.3" y2="-7.8" stroke="#5a5a5a" stroke-width="0.7"/><line x1="5.6" y1="-2" x2="18.7" y2="-6.1" stroke="#5a5a5a" stroke-width="0.7"/><line x1="8.4" y1="-2" x2="28" y2="-4.5" stroke="#5a5a5a" stroke-width="0.7"/><line x1="-8.4" y1="2" x2="-28" y2="4.5" stroke="#5a5a5a" stroke-width="0.7"/><line x1="-5.6" y1="2" x2="-18.7" y2="6.1" stroke="#5a5a5a" stroke-width="0.7"/><line x1="-2.8" y1="2" x2="-9.3" y2="7.8" stroke="#5a5a5a" stroke-width="0.7"/><line x1="0" y1="2" x2="0" y2="8.4" stroke="#5a5a5a" stroke-width="0.7"/><line x1="2.8" y1="2" x2="9.3" y2="7.8" stroke="#5a5a5a" stroke-width="0.7"/><line x1="5.6" y1="2" x2="18.7" y2="6.1" stroke="#5a5a5a" stroke-width="0.7"/><line x1="8.4" y1="2" x2="28" y2="4.5" stroke="#5a5a5a" stroke-width="0.7"/></g>
<g transform="matrix(0.8241 -0.4004 0.5664 0.5827 1258 1364.7)"><polygon points="-13,0 1.3,-7.5 13,0 -1.3,7.5" fill="#151515" stroke="#111" stroke-width="1.3" stroke-linejoin="round"/><line x1="-6.5" y1="0" x2="6.5" y2="0" stroke="#666" stroke-width="0.8"/></g>
<g transform="matrix(0.9681 -0.1770 0.2504 0.6845 1349.8 1335.1)"><polygon points="-37.4,-3.5 -6,-10.5 6,-10.5 37.4,-3.5 37.4,3.5 6,10.5 -6,10.5 -37.4,3.5" fill="#151515" stroke="#111" stroke-width="1.4" stroke-linejoin="round"/><line x1="-35.9" y1="0" x2="-3" y2="0" stroke="#e8e8e8" stroke-width="2.2"/><line x1="3" y1="0" x2="35.9" y2="0" stroke="#e8e8e8" stroke-width="2.2"/><line x1="-8.4" y1="-2" x2="-28" y2="-4.5" stroke="#5a5a5a" stroke-width="0.7"/><line x1="-5.6" y1="-2" x2="-18.7" y2="-6.1" stroke="#5a5a5a" stroke-width="0.7"/><line x1="-2.8" y1="-2" x2="-9.3" y2="-7.8" stroke="#5a5a5a" stroke-width="0.7"/><line x1="0" y1="-2" x2="0" y2="-8.4" stroke="#5a5a5a" stroke-width="0.7"/><line x1="2.8" y1="-2" x2="9.3" y2="-7.8" stroke="#5a5a5a" stroke-width="0.7"/><line x1="5.6" y1="-2" x2="18.7" y2="-6.1" stroke="#5a5a5a" stroke-width="0.7"/><line x1="8.4" y1="-2" x2="28" y2="-4.5" stroke="#5a5a5a" stroke-width="0.7"/><line x1="-8.4" y1="2" x2="-28" y2="4.5" stroke="#5a5a5a" stroke-width="0.7"/><line x1="-5.6" y1="2" x2="-18.7" y2="6.1" stroke="#5a5a5a" stroke-width="0.7"/><line x1="-2.8" y1="2" x2="-9.3" y2="7.8" stroke="#5a5a5a" stroke-width="0.7"/><line x1="0" y1="2" x2="0" y2="8.4" stroke="#5a5a5a" stroke-width="0.7"/><line x1="2.8" y1="2" x2="9.3" y2="7.8" stroke="#5a5a5a" stroke-width="0.7"/><line x1="5.6" y1="2" x2="18.7" y2="6.1" stroke="#5a5a5a" stroke-width="0.7"/><line x1="8.4" y1="2" x2="28" y2="4.5" stroke="#5a5a5a" stroke-width="0.7"/></g>
<polyline points="1497.1,1408.9 1503.4,1410.8 1509.5,1412.8 1515.5,1415 1521.5,1417.4 1527.3,1419.9 1532.9,1422.5 1538.5,1425.3 1543.9,1428.2 1549.1,1431.2 1554.2,1434.4 1559.2,1437.6 1563.9,1441 1568.5,1444.6 1573,1448.2 1577.2,1451.9" fill="none" stroke="#111" stroke-width="2" stroke-linejoin="round"/>
<polyline points="1577.2,1451.9 1581.3,1455.7 1585.1,1459.7 1588.8,1463.7 1592.2,1467.8 1595.5,1472 1598.5,1476.2 1601.3,1480.6 1603.9,1485 1606.3,1489.4 1608.5,1494 1610.4,1498.5 1612.1,1503.1 1613.6,1507.8 1614.8,1512.5 1615.8,1517.2" fill="none" stroke="#111" stroke-width="2" stroke-linejoin="round" stroke-dasharray="12,6"/>
<polyline points="1615.8,1517.2 1616.6,1521.9 1617.1,1526.7 1617.4,1531.4 1617.5,1536.2 1617.3,1541 1616.9,1545.7 1616.2,1550.5 1615.4,1555.2 1614.2,1559.9 1612.9,1564.5 1611.3,1569.2 1609.5,1573.8 1607.4,1578.3 1605.2,1582.8 1602.7,1587.2" fill="none" stroke="#111" stroke-width="2" stroke-linejoin="round"/>
<polyline points="1602.7,1587.2 1599.9,1591.6 1597,1595.9 1593.9,1600.1 1590.5,1604.3 1587,1608.3 1583.2,1612.3 1579.3,1616.2 1575.1,1620 1570.8,1623.6 1566.3,1627.2 1561.6,1630.7 1556.7,1634 1551.7,1637.2 1546.5,1640.3 1541.2,1643.3" fill="none" stroke="#111" stroke-width="2" stroke-linejoin="round" stroke-dasharray="12,6"/>
<polyline points="1541.2,1643.3 1535.7,1646.1 1530.1,1648.8 1524.4,1651.4 1518.5,1653.8 1512.5,1656.1 1506.4,1658.2 1500.3,1660.2 1494,1662 1487.6,1663.7 1481.1,1665.2 1474.6,1666.5 1468,1667.7 1461.4,1668.8 1454.7,1669.6 1448,1670.3" fill="none" stroke="#111" stroke-width="2" stroke-linejoin="round"/>
<polyline points="1448,1670.3 1441.2,1670.9 1434.4,1671.2 1427.6,1671.5 1420.8,1671.5 1414,1671.4 1407.2,1671.1 1400.4,1670.6 1393.7,1670 1387,1669.2 1380.3,1668.3 1373.7,1667.2 1367.1,1665.9 1360.6,1664.4 1354.2,1662.9 1347.9,1661.1" fill="none" stroke="#111" stroke-width="2" stroke-linejoin="round" stroke-dasharray="12,6"/>
<polyline points="1347.9,1661.1 1341.6,1659.2 1335.5,1657.2 1329.5,1655 1323.5,1652.6 1317.7,1650.1 1312.1,1647.5 1306.5,1644.7 1301.1,1641.8 1295.9,1638.8 1290.8,1635.6 1285.8,1632.4 1281.1,1629 1276.5,1625.4 1272,1621.8 1267.8,1618.1" fill="none" stroke="#111" stroke-width="2" stroke-linejoin="round"/>
<polyline points="1267.8,1618.1 1263.7,1614.3 1259.9,1610.3 1256.2,1606.3 1252.8,1602.2 1249.5,1598 1246.5,1593.8 1243.7,1589.4 1241.1,1585 1238.7,1580.6 1236.5,1576 1234.6,1571.5 1232.9,1566.9 1231.4,1562.2 1230.2,1557.5 1229.2,1552.8" fill="none" stroke="#111" stroke-width="2" stroke-linejoin="round" stroke-dasharray="12,6"/>
<polyline points="1229.2,1552.8 1228.4,1548.1 1227.9,1543.3 1227.6,1538.6 1227.5,1533.8 1227.7,1529 1228.1,1524.3 1228.8,1519.5 1229.6,1514.8 1230.8,1510.1 1232.1,1505.5 1233.7,1500.8 1235.5,1496.2 1237.6,1491.7 1239.8,1487.2 1242.3,1482.8" fill="none" stroke="#111" stroke-width="2" stroke-linejoin="round"/>
<polyline points="1242.3,1482.8 1245.1,1478.4 1248,1474.1 1251.1,1469.9 1254.5,1465.7 1258,1461.7 1261.8,1457.7 1265.7,1453.8 1269.9,1450 1274.2,1446.4 1278.7,1442.8 1283.4,1439.3 1288.3,1436 1293.3,1432.8 1298.5,1429.7 1303.8,1426.7" fill="none" stroke="#111" stroke-width="2" stroke-linejoin="round" stroke-dasharray="12,6"/>
<polyline points="1303.8,1426.7 1309.3,1423.9 1314.9,1421.2 1320.6,1418.6 1326.5,1416.2 1332.5,1413.9 1338.6,1411.8 1344.7,1409.8 1351,1408 1357.4,1406.3 1363.9,1404.8 1370.4,1403.5 1377,1402.3 1383.6,1401.2 1390.3,1400.4 1397,1399.7" fill="none" stroke="#111" stroke-width="2" stroke-linejoin="round"/>
<polyline points="1397,1399.7 1403.8,1399.1 1410.6,1398.8 1417.4,1398.5 1424.2,1398.5 1431,1398.6 1437.8,1398.9 1444.6,1399.4 1451.3,1400 1458,1400.8 1464.7,1401.7 1471.3,1402.8 1477.9,1404.1 1484.4,1405.6 1490.8,1407.1 1497.1,1408.9" fill="none" stroke="#111" stroke-width="2" stroke-linejoin="round" stroke-dasharray="12,6"/>
<g transform="matrix(0.9239 0.2706 -0.3827 0.6532 1497.1 1408.9)"><polygon points="-10,0 1,-9.5 10,0 -1,9.5" fill="#151515" stroke="#111" stroke-width="1.3" stroke-linejoin="round"/><line x1="-5" y1="0" x2="5" y2="0" stroke="#666" stroke-width="0.8"/></g>
<g transform="matrix(0.6088 0.5609 -0.7934 0.4304 1577.2 1451.9)"><polygon points="-37.4,-3.5 -6,-10.5 6,-10.5 37.4,-3.5 37.4,3.5 6,10.5 -6,10.5 -37.4,3.5" fill="#151515" stroke="#111" stroke-width="1.4" stroke-linejoin="round"/><line x1="-35.9" y1="0" x2="-3" y2="0" stroke="#e8e8e8" stroke-width="2.2"/><line x1="3" y1="0" x2="35.9" y2="0" stroke="#e8e8e8" stroke-width="2.2"/><line x1="-8.4" y1="-2" x2="-28" y2="-4.5" stroke="#5a5a5a" stroke-width="0.7"/><line x1="-5.6" y1="-2" x2="-18.7" y2="-6.1" stroke="#5a5a5a" stroke-width="0.7"/><line x1="-2.8" y1="-2" x2="-9.3" y2="-7.8" stroke="#5a5a5a" stroke-width="0.7"/><line x1="0" y1="-2" x2="0" y2="-8.4" stroke="#5a5a5a" stroke-width="0.7"/><line x1="2.8" y1="-2" x2="9.3" y2="-7.8" stroke="#5a5a5a" stroke-width="0.7"/><line x1="5.6" y1="-2" x2="18.7" y2="-6.1" stroke="#5a5a5a" stroke-width="0.7"/><line x1="8.4" y1="-2" x2="28" y2="-4.5" stroke="#5a5a5a" stroke-width="0.7"/><line x1="-8.4" y1="2" x2="-28" y2="4.5" stroke="#5a5a5a" stroke-width="0.7"/><line x1="-5.6" y1="2" x2="-18.7" y2="6.1" stroke="#5a5a5a" stroke-width="0.7"/><line x1="-2.8" y1="2" x2="-9.3" y2="7.8" stroke="#5a5a5a" stroke-width="0.7"/><line x1="0" y1="2" x2="0" y2="8.4" stroke="#5a5a5a" stroke-width="0.7"/><line x1="2.8" y1="2" x2="9.3" y2="7.8" stroke="#5a5a5a" stroke-width="0.7"/><line x1="5.6" y1="2" x2="18.7" y2="6.1" stroke="#5a5a5a" stroke-width="0.7"/><line x1="8.4" y1="2" x2="28" y2="4.5" stroke="#5a5a5a" stroke-width="0.7"/></g>
<g transform="matrix(0.1305 0.7010 -0.9914 0.0923 1615.8 1517.2)"><polygon points="-10,0 1,-9.5 10,0 -1,9.5" fill="#151515" stroke="#111" stroke-width="1.3" stroke-linejoin="round"/><line x1="-5" y1="0" x2="5" y2="0" stroke="#666" stroke-width="0.8"/></g>
<g transform="matrix(-0.3827 0.6532 -0.9239 -0.2706 1602.7 1587.2)"><polygon points="-37.4,-3.5 -6,-10.5 6,-10.5 37.4,-3.5 37.4,3.5 6,10.5 -6,10.5 -37.4,3.5" fill="#151515" stroke="#111" stroke-width="1.4" stroke-linejoin="round"/><line x1="-35.9" y1="0" x2="-3" y2="0" stroke="#e8e8e8" stroke-width="2.2"/><line x1="3" y1="0" x2="35.9" y2="0" stroke="#e8e8e8" stroke-width="2.2"/><line x1="-8.4" y1="-2" x2="-28" y2="-4.5" stroke="#5a5a5a" stroke-width="0.7"/><line x1="-5.6" y1="-2" x2="-18.7" y2="-6.1" stroke="#5a5a5a" stroke-width="0.7"/><line x1="-2.8" y1="-2" x2="-9.3" y2="-7.8" stroke="#5a5a5a" stroke-width="0.7"/><line x1="0" y1="-2" x2="0" y2="-8.4" stroke="#5a5a5a" stroke-width="0.7"/><line x1="2.8" y1="-2" x2="9.3" y2="-7.8" stroke="#5a5a5a" stroke-width="0.7"/><line x1="5.6" y1="-2" x2="18.7" y2="-6.1" stroke="#5a5a5a" stroke-width="0.7"/><line x1="8.4" y1="-2" x2="28" y2="-4.5" stroke="#5a5a5a" stroke-width="0.7"/><line x1="-8.4" y1="2" x2="-28" y2="4.5" stroke="#5a5a5a" stroke-width="0.7"/><line x1="-5.6" y1="2" x2="-18.7" y2="6.1" stroke="#5a5a5a" stroke-width="0.7"/><line x1="-2.8" y1="2" x2="-9.3" y2="7.8" stroke="#5a5a5a" stroke-width="0.7"/><line x1="0" y1="2" x2="0" y2="8.4" stroke="#5a5a5a" stroke-width="0.7"/><line x1="2.8" y1="2" x2="9.3" y2="7.8" stroke="#5a5a5a" stroke-width="0.7"/><line x1="5.6" y1="2" x2="18.7" y2="6.1" stroke="#5a5a5a" stroke-width="0.7"/><line x1="8.4" y1="2" x2="28" y2="4.5" stroke="#5a5a5a" stroke-width="0.7"/></g>
<g transform="matrix(-0.7934 0.4304 -0.6088 -0.5609 1541.2 1643.3)"><polygon points="-10,0 1,-9.5 10,0 -1,9.5" fill="#151515" stroke="#111" stroke-width="1.3" stroke-linejoin="round"/><line x1="-5" y1="0" x2="5" y2="0" stroke="#666" stroke-width="0.8"/></g>
<g transform="matrix(-0.9914 0.0923 -0.1305 -0.7010 1448 1670.3)"><polygon points="-37.4,-3.5 -6,-10.5 6,-10.5 37.4,-3.5 37.4,3.5 6,10.5 -6,10.5 -37.4,3.5" fill="#151515" stroke="#111" stroke-width="1.4" stroke-linejoin="round"/><line x1="-35.9" y1="0" x2="-3" y2="0" stroke="#e8e8e8" stroke-width="2.2"/><line x1="3" y1="0" x2="35.9" y2="0" stroke="#e8e8e8" stroke-width="2.2"/><line x1="-8.4" y1="-2" x2="-28" y2="-4.5" stroke="#5a5a5a" stroke-width="0.7"/><line x1="-5.6" y1="-2" x2="-18.7" y2="-6.1" stroke="#5a5a5a" stroke-width="0.7"/><line x1="-2.8" y1="-2" x2="-9.3" y2="-7.8" stroke="#5a5a5a" stroke-width="0.7"/><line x1="0" y1="-2" x2="0" y2="-8.4" stroke="#5a5a5a" stroke-width="0.7"/><line x1="2.8" y1="-2" x2="9.3" y2="-7.8" stroke="#5a5a5a" stroke-width="0.7"/><line x1="5.6" y1="-2" x2="18.7" y2="-6.1" stroke="#5a5a5a" stroke-width="0.7"/><line x1="8.4" y1="-2" x2="28" y2="-4.5" stroke="#5a5a5a" stroke-width="0.7"/><line x1="-8.4" y1="2" x2="-28" y2="4.5" stroke="#5a5a5a" stroke-width="0.7"/><line x1="-5.6" y1="2" x2="-18.7" y2="6.1" stroke="#5a5a5a" stroke-width="0.7"/><line x1="-2.8" y1="2" x2="-9.3" y2="7.8" stroke="#5a5a5a" stroke-width="0.7"/><line x1="0" y1="2" x2="0" y2="8.4" stroke="#5a5a5a" stroke-width="0.7"/><line x1="2.8" y1="2" x2="9.3" y2="7.8" stroke="#5a5a5a" stroke-width="0.7"/><line x1="5.6" y1="2" x2="18.7" y2="6.1" stroke="#5a5a5a" stroke-width="0.7"/><line x1="8.4" y1="2" x2="28" y2="4.5" stroke="#5a5a5a" stroke-width="0.7"/></g>
<g transform="matrix(-0.9239 -0.2706 0.3827 -0.6532 1347.9 1661.1)"><polygon points="-10,0 1,-9.5 10,0 -1,9.5" fill="#151515" stroke="#111" stroke-width="1.3" stroke-linejoin="round"/><line x1="-5" y1="0" x2="5" y2="0" stroke="#666" stroke-width="0.8"/></g>
<g transform="matrix(-0.6088 -0.5609 0.7934 -0.4304 1267.8 1618.1)"><polygon points="-37.4,-3.5 -6,-10.5 6,-10.5 37.4,-3.5 37.4,3.5 6,10.5 -6,10.5 -37.4,3.5" fill="#151515" stroke="#111" stroke-width="1.4" stroke-linejoin="round"/><line x1="-35.9" y1="0" x2="-3" y2="0" stroke="#e8e8e8" stroke-width="2.2"/><line x1="3" y1="0" x2="35.9" y2="0" stroke="#e8e8e8" stroke-width="2.2"/><line x1="-8.4" y1="-2" x2="-28" y2="-4.5" stroke="#5a5a5a" stroke-width="0.7"/><line x1="-5.6" y1="-2" x2="-18.7" y2="-6.1" stroke="#5a5a5a" stroke-width="0.7"/><line x1="-2.8" y1="-2" x2="-9.3" y2="-7.8" stroke="#5a5a5a" stroke-width="0.7"/><line x1="0" y1="-2" x2="0" y2="-8.4" stroke="#5a5a5a" stroke-width="0.7"/><line x1="2.8" y1="-2" x2="9.3" y2="-7.8" stroke="#5a5a5a" stroke-width="0.7"/><line x1="5.6" y1="-2" x2="18.7" y2="-6.1" stroke="#5a5a5a" stroke-width="0.7"/><line x1="8.4" y1="-2" x2="28" y2="-4.5" stroke="#5a5a5a" stroke-width="0.7"/><line x1="-8.4" y1="2" x2="-28" y2="4.5" stroke="#5a5a5a" stroke-width="0.7"/><line x1="-5.6" y1="2" x2="-18.7" y2="6.1" stroke="#5a5a5a" stroke-width="0.7"/><line x1="-2.8" y1="2" x2="-9.3" y2="7.8" stroke="#5a5a5a" stroke-width="0.7"/><line x1="0" y1="2" x2="0" y2="8.4" stroke="#5a5a5a" stroke-width="0.7"/><line x1="2.8" y1="2" x2="9.3" y2="7.8" stroke="#5a5a5a" stroke-width="0.7"/><line x1="5.6" y1="2" x2="18.7" y2="6.1" stroke="#5a5a5a" stroke-width="0.7"/><line x1="8.4" y1="2" x2="28" y2="4.5" stroke="#5a5a5a" stroke-width="0.7"/></g>
<g transform="matrix(-0.1305 -0.7010 0.9914 -0.0923 1229.2 1552.8)"><polygon points="-10,0 1,-9.5 10,0 -1,9.5" fill="#151515" stroke="#111" stroke-width="1.3" stroke-linejoin="round"/><line x1="-5" y1="0" x2="5" y2="0" stroke="#666" stroke-width="0.8"/></g>
<g transform="matrix(0.3827 -0.6532 0.9239 0.2706 1242.3 1482.8)"><polygon points="-37.4,-3.5 -6,-10.5 6,-10.5 37.4,-3.5 37.4,3.5 6,10.5 -6,10.5 -37.4,3.5" fill="#151515" stroke="#111" stroke-width="1.4" stroke-linejoin="round"/><line x1="-35.9" y1="0" x2="-3" y2="0" stroke="#e8e8e8" stroke-width="2.2"/><line x1="3" y1="0" x2="35.9" y2="0" stroke="#e8e8e8" stroke-width="2.2"/><line x1="-8.4" y1="-2" x2="-28" y2="-4.5" stroke="#5a5a5a" stroke-width="0.7"/><line x1="-5.6" y1="-2" x2="-18.7" y2="-6.1" stroke="#5a5a5a" stroke-width="0.7"/><line x1="-2.8" y1="-2" x2="-9.3" y2="-7.8" stroke="#5a5a5a" stroke-width="0.7"/><line x1="0" y1="-2" x2="0" y2="-8.4" stroke="#5a5a5a" stroke-width="0.7"/><line x1="2.8" y1="-2" x2="9.3" y2="-7.8" stroke="#5a5a5a" stroke-width="0.7"/><line x1="5.6" y1="-2" x2="18.7" y2="-6.1" stroke="#5a5a5a" stroke-width="0.7"/><line x1="8.4" y1="-2" x2="28" y2="-4.5" stroke="#5a5a5a" stroke-width="0.7"/><line x1="-8.4" y1="2" x2="-28" y2="4.5" stroke="#5a5a5a" stroke-width="0.7"/><line x1="-5.6" y1="2" x2="-18.7" y2="6.1" stroke="#5a5a5a" stroke-width="0.7"/><line x1="-2.8" y1="2" x2="-9.3" y2="7.8" stroke="#5a5a5a" stroke-width="0.7"/><line x1="0" y1="2" x2="0" y2="8.4" stroke="#5a5a5a" stroke-width="0.7"/><line x1="2.8" y1="2" x2="9.3" y2="7.8" stroke="#5a5a5a" stroke-width="0.7"/><line x1="5.6" y1="2" x2="18.7" y2="6.1" stroke="#5a5a5a" stroke-width="0.7"/><line x1="8.4" y1="2" x2="28" y2="4.5" stroke="#5a5a5a" stroke-width="0.7"/></g>
<g transform="matrix(0.7934 -0.4304 0.6088 0.5609 1303.8 1426.7)"><polygon points="-10,0 1,-9.5 10,0 -1,9.5" fill="#151515" stroke="#111" stroke-width="1.3" stroke-linejoin="round"/><line x1="-5" y1="0" x2="5" y2="0" stroke="#666" stroke-width="0.8"/></g>
<g transform="matrix(0.9914 -0.0923 0.1305 0.7010 1397 1399.7)"><polygon points="-37.4,-3.5 -6,-10.5 6,-10.5 37.4,-3.5 37.4,3.5 6,10.5 -6,10.5 -37.4,3.5" fill="#151515" stroke="#111" stroke-width="1.4" stroke-linejoin="round"/><line x1="-35.9" y1="0" x2="-3" y2="0" stroke="#e8e8e8" stroke-width="2.2"/><line x1="3" y1="0" x2="35.9" y2="0" stroke="#e8e8e8" stroke-width="2.2"/><line x1="-8.4" y1="-2" x2="-28" y2="-4.5" stroke="#5a5a5a" stroke-width="0.7"/><line x1="-5.6" y1="-2" x2="-18.7" y2="-6.1" stroke="#5a5a5a" stroke-width="0.7"/><line x1="-2.8" y1="-2" x2="-9.3" y2="-7.8" stroke="#5a5a5a" stroke-width="0.7"/><line x1="0" y1="-2" x2="0" y2="-8.4" stroke="#5a5a5a" stroke-width="0.7"/><line x1="2.8" y1="-2" x2="9.3" y2="-7.8" stroke="#5a5a5a" stroke-width="0.7"/><line x1="5.6" y1="-2" x2="18.7" y2="-6.1" stroke="#5a5a5a" stroke-width="0.7"/><line x1="8.4" y1="-2" x2="28" y2="-4.5" stroke="#5a5a5a" stroke-width="0.7"/><line x1="-8.4" y1="2" x2="-28" y2="4.5" stroke="#5a5a5a" stroke-width="0.7"/><line x1="-5.6" y1="2" x2="-18.7" y2="6.1" stroke="#5a5a5a" stroke-width="0.7"/><line x1="-2.8" y1="2" x2="-9.3" y2="7.8" stroke="#5a5a5a" stroke-width="0.7"/><line x1="0" y1="2" x2="0" y2="8.4" stroke="#5a5a5a" stroke-width="0.7"/><line x1="2.8" y1="2" x2="9.3" y2="7.8" stroke="#5a5a5a" stroke-width="0.7"/><line x1="5.6" y1="2" x2="18.7" y2="6.1" stroke="#5a5a5a" stroke-width="0.7"/><line x1="8.4" y1="2" x2="28" y2="4.5" stroke="#5a5a5a" stroke-width="0.7"/></g>
<polyline points="1423,1466.1 1426.4,1466.1 1429.9,1466.3 1433.3,1466.5 1436.7,1466.8 1440.1,1467.1 1443.5,1467.6 1446.8,1468.1 1450.1,1468.7 1453.4,1469.4 1456.7,1470.2 1459.9,1471.1 1463,1472 1466.1,1473 1469.2,1474.1 1472.2,1475.3 1475.1,1476.5 1478,1477.8 1480.8,1479.2 1483.6,1480.6 1486.3,1482.1 1488.8,1483.7 1491.4,1485.3 1493.8,1487 1496.1,1488.7 1498.4,1490.5 1500.5,1492.4 1502.6,1494.3 1504.6,1496.3 1506.4,1498.3 1508.2,1500.3" fill="none" stroke="#111" stroke-width="2" stroke-linejoin="round"/>
<polyline points="1508.2,1500.3 1509.9,1502.4 1511.4,1504.5 1512.9,1506.7 1514.2,1508.9 1515.5,1511.1 1516.6,1513.4 1517.6,1515.6 1518.5,1518 1519.2,1520.3 1519.9,1522.6 1520.4,1525 1520.9,1527.4 1521.2,1529.7 1521.3,1532.1 1521.4,1534.5 1521.3,1536.9 1521.2,1539.3 1520.9,1541.6 1520.4,1544 1519.9,1546.4 1519.2,1548.7 1518.5,1551 1517.6,1553.4 1516.6,1555.6 1515.5,1557.9 1514.2,1560.1 1512.9,1562.3 1511.4,1564.5 1509.9,1566.6 1508.2,1568.7" fill="none" stroke="#111" stroke-width="2" stroke-linejoin="round" stroke-dasharray="12,6"/>
<polyline points="1508.2,1568.7 1506.4,1570.7 1504.6,1572.7 1502.6,1574.7 1500.5,1576.6 1498.4,1578.5 1496.1,1580.3 1493.8,1582 1491.4,1583.7 1488.8,1585.3 1486.3,1586.9 1483.6,1588.4 1480.8,1589.8 1478,1591.2 1475.1,1592.5 1472.2,1593.7 1469.2,1594.9 1466.1,1596 1463,1597 1459.9,1597.9 1456.7,1598.8 1453.4,1599.6 1450.1,1600.3 1446.8,1600.9 1443.5,1601.4 1440.1,1601.9 1436.7,1602.2 1433.3,1602.5 1429.9,1602.7 1426.4,1602.9 1423,1602.9" fill="none" stroke="#111" stroke-width="2" stroke-linejoin="round"/>
<polyline points="1423,1602.9 1419.6,1602.9 1416.1,1602.7 1412.7,1602.5 1409.3,1602.2 1405.9,1601.9 1402.5,1601.4 1399.2,1600.9 1395.9,1600.3 1392.6,1599.6 1389.3,1598.8 1386.1,1597.9 1383,1597 1379.9,1596 1376.8,1594.9 1373.8,1593.7 1370.9,1592.5 1368,1591.2 1365.2,1589.8 1362.4,1588.4 1359.7,1586.9 1357.2,1585.3 1354.6,1583.7 1352.2,1582 1349.9,1580.3 1347.6,1578.5 1345.5,1576.6 1343.4,1574.7 1341.4,1572.7 1339.6,1570.7 1337.8,1568.7" fill="none" stroke="#111" stroke-width="2" stroke-linejoin="round" stroke-dasharray="12,6"/>
<polyline points="1337.8,1568.7 1336.1,1566.6 1334.6,1564.5 1333.1,1562.3 1331.8,1560.1 1330.5,1557.9 1329.4,1555.6 1328.4,1553.4 1327.5,1551 1326.8,1548.7 1326.1,1546.4 1325.6,1544 1325.1,1541.6 1324.8,1539.3 1324.7,1536.9 1324.6,1534.5 1324.7,1532.1 1324.8,1529.7 1325.1,1527.4 1325.6,1525 1326.1,1522.6 1326.8,1520.3 1327.5,1518 1328.4,1515.6 1329.4,1513.4 1330.5,1511.1 1331.8,1508.9 1333.1,1506.7 1334.6,1504.5 1336.1,1502.4 1337.8,1500.3" fill="none" stroke="#111" stroke-width="2" stroke-linejoin="round"/>
<polyline points="1337.8,1500.3 1339.6,1498.3 1341.4,1496.3 1343.4,1494.3 1345.5,1492.4 1347.6,1490.5 1349.9,1488.7 1352.2,1487 1354.6,1485.3 1357.2,1483.7 1359.7,1482.1 1362.4,1480.6 1365.2,1479.2 1368,1477.8 1370.9,1476.5 1373.8,1475.3 1376.8,1474.1 1379.9,1473 1383,1472 1386.1,1471.1 1389.3,1470.2 1392.6,1469.4 1395.9,1468.7 1399.2,1468.1 1402.5,1467.6 1405.9,1467.1 1409.3,1466.8 1412.7,1466.5 1416.1,1466.3 1419.6,1466.1 1423,1466.1" fill="none" stroke="#111" stroke-width="2" stroke-linejoin="round" stroke-dasharray="12,6"/>
<g transform="matrix(1.0000 0.0000 -0.0000 0.7070 1423 1466.1)"><polygon points="-9.5,0 1,-9.5 9.5,0 -1,9.5" fill="#151515" stroke="#111" stroke-width="1.3" stroke-linejoin="round"/><line x1="-4.8" y1="0" x2="4.8" y2="0" stroke="#666" stroke-width="0.8"/></g>
<g transform="matrix(0.5000 0.6123 -0.8660 0.3535 1508.2 1500.3)"><polygon points="-37.4,-3.5 -6,-10.5 6,-10.5 37.4,-3.5 37.4,3.5 6,10.5 -6,10.5 -37.4,3.5" fill="#151515" stroke="#111" stroke-width="1.4" stroke-linejoin="round"/><line x1="-35.9" y1="0" x2="-3" y2="0" stroke="#e8e8e8" stroke-width="2.2"/><line x1="3" y1="0" x2="35.9" y2="0" stroke="#e8e8e8" stroke-width="2.2"/><line x1="-8.4" y1="-2" x2="-28" y2="-4.5" stroke="#5a5a5a" stroke-width="0.7"/><line x1="-5.6" y1="-2" x2="-18.7" y2="-6.1" stroke="#5a5a5a" stroke-width="0.7"/><line x1="-2.8" y1="-2" x2="-9.3" y2="-7.8" stroke="#5a5a5a" stroke-width="0.7"/><line x1="0" y1="-2" x2="0" y2="-8.4" stroke="#5a5a5a" stroke-width="0.7"/><line x1="2.8" y1="-2" x2="9.3" y2="-7.8" stroke="#5a5a5a" stroke-width="0.7"/><line x1="5.6" y1="-2" x2="18.7" y2="-6.1" stroke="#5a5a5a" stroke-width="0.7"/><line x1="8.4" y1="-2" x2="28" y2="-4.5" stroke="#5a5a5a" stroke-width="0.7"/><line x1="-8.4" y1="2" x2="-28" y2="4.5" stroke="#5a5a5a" stroke-width="0.7"/><line x1="-5.6" y1="2" x2="-18.7" y2="6.1" stroke="#5a5a5a" stroke-width="0.7"/><line x1="-2.8" y1="2" x2="-9.3" y2="7.8" stroke="#5a5a5a" stroke-width="0.7"/><line x1="0" y1="2" x2="0" y2="8.4" stroke="#5a5a5a" stroke-width="0.7"/><line x1="2.8" y1="2" x2="9.3" y2="7.8" stroke="#5a5a5a" stroke-width="0.7"/><line x1="5.6" y1="2" x2="18.7" y2="6.1" stroke="#5a5a5a" stroke-width="0.7"/><line x1="8.4" y1="2" x2="28" y2="4.5" stroke="#5a5a5a" stroke-width="0.7"/></g>
<g transform="matrix(-0.5000 0.6123 -0.8660 -0.3535 1508.2 1568.7)"><polygon points="-9.5,0 1,-9.5 9.5,0 -1,9.5" fill="#151515" stroke="#111" stroke-width="1.3" stroke-linejoin="round"/><line x1="-4.8" y1="0" x2="4.8" y2="0" stroke="#666" stroke-width="0.8"/></g>
<g transform="matrix(-1.0000 0.0000 -0.0000 -0.7070 1423 1602.9)"><polygon points="-37.4,-3.5 -6,-10.5 6,-10.5 37.4,-3.5 37.4,3.5 6,10.5 -6,10.5 -37.4,3.5" fill="#151515" stroke="#111" stroke-width="1.4" stroke-linejoin="round"/><line x1="-35.9" y1="0" x2="-3" y2="0" stroke="#e8e8e8" stroke-width="2.2"/><line x1="3" y1="0" x2="35.9" y2="0" stroke="#e8e8e8" stroke-width="2.2"/><line x1="-8.4" y1="-2" x2="-28" y2="-4.5" stroke="#5a5a5a" stroke-width="0.7"/><line x1="-5.6" y1="-2" x2="-18.7" y2="-6.1" stroke="#5a5a5a" stroke-width="0.7"/><line x1="-2.8" y1="-2" x2="-9.3" y2="-7.8" stroke="#5a5a5a" stroke-width="0.7"/><line x1="0" y1="-2" x2="0" y2="-8.4" stroke="#5a5a5a" stroke-width="0.7"/><line x1="2.8" y1="-2" x2="9.3" y2="-7.8" stroke="#5a5a5a" stroke-width="0.7"/><line x1="5.6" y1="-2" x2="18.7" y2="-6.1" stroke="#5a5a5a" stroke-width="0.7"/><line x1="8.4" y1="-2" x2="28" y2="-4.5" stroke="#5a5a5a" stroke-width="0.7"/><line x1="-8.4" y1="2" x2="-28" y2="4.5" stroke="#5a5a5a" stroke-width="0.7"/><line x1="-5.6" y1="2" x2="-18.7" y2="6.1" stroke="#5a5a5a" stroke-width="0.7"/><line x1="-2.8" y1="2" x2="-9.3" y2="7.8" stroke="#5a5a5a" stroke-width="0.7"/><line x1="0" y1="2" x2="0" y2="8.4" stroke="#5a5a5a" stroke-width="0.7"/><line x1="2.8" y1="2" x2="9.3" y2="7.8" stroke="#5a5a5a" stroke-width="0.7"/><line x1="5.6" y1="2" x2="18.7" y2="6.1" stroke="#5a5a5a" stroke-width="0.7"/><line x1="8.4" y1="2" x2="28" y2="4.5" stroke="#5a5a5a" stroke-width="0.7"/></g>
<g transform="matrix(-0.5000 -0.6123 0.8660 -0.3535 1337.8 1568.7)"><polygon points="-9.5,0 1,-9.5 9.5,0 -1,9.5" fill="#151515" stroke="#111" stroke-width="1.3" stroke-linejoin="round"/><line x1="-4.8" y1="0" x2="4.8" y2="0" stroke="#666" stroke-width="0.8"/></g>
<g transform="matrix(0.5000 -0.6123 0.8660 0.3535 1337.8 1500.3)"><polygon points="-37.4,-3.5 -6,-10.5 6,-10.5 37.4,-3.5 37.4,3.5 6,10.5 -6,10.5 -37.4,3.5" fill="#151515" stroke="#111" stroke-width="1.4" stroke-linejoin="round"/><line x1="-35.9" y1="0" x2="-3" y2="0" stroke="#e8e8e8" stroke-width="2.2"/><line x1="3" y1="0" x2="35.9" y2="0" stroke="#e8e8e8" stroke-width="2.2"/><line x1="-8.4" y1="-2" x2="-28" y2="-4.5" stroke="#5a5a5a" stroke-width="0.7"/><line x1="-5.6" y1="-2" x2="-18.7" y2="-6.1" stroke="#5a5a5a" stroke-width="0.7"/><line x1="-2.8" y1="-2" x2="-9.3" y2="-7.8" stroke="#5a5a5a" stroke-width="0.7"/><line x1="0" y1="-2" x2="0" y2="-8.4" stroke="#5a5a5a" stroke-width="0.7"/><line x1="2.8" y1="-2" x2="9.3" y2="-7.8" stroke="#5a5a5a" stroke-width="0.7"/><line x1="5.6" y1="-2" x2="18.7" y2="-6.1" stroke="#5a5a5a" stroke-width="0.7"/><line x1="8.4" y1="-2" x2="28" y2="-4.5" stroke="#5a5a5a" stroke-width="0.7"/><line x1="-8.4" y1="2" x2="-28" y2="4.5" stroke="#5a5a5a" stroke-width="0.7"/><line x1="-5.6" y1="2" x2="-18.7" y2="6.1" stroke="#5a5a5a" stroke-width="0.7"/><line x1="-2.8" y1="2" x2="-9.3" y2="7.8" stroke="#5a5a5a" stroke-width="0.7"/><line x1="0" y1="2" x2="0" y2="8.4" stroke="#5a5a5a" stroke-width="0.7"/><line x1="2.8" y1="2" x2="9.3" y2="7.8" stroke="#5a5a5a" stroke-width="0.7"/><line x1="5.6" y1="2" x2="18.7" y2="6.1" stroke="#5a5a5a" stroke-width="0.7"/><line x1="8.4" y1="2" x2="28" y2="4.5" stroke="#5a5a5a" stroke-width="0.7"/></g>
<g transform="matrix(1.0000 0.0000 -0.0000 0.7070 1422.5 1536)"><polygon points="-37.2,-3.5 -6,-10 6,-10 37.2,-3.5 37.2,3.5 6,10 -6,10 -37.2,3.5" fill="#151515" stroke="#111" stroke-width="1.4" stroke-linejoin="round"/><line x1="-35.8" y1="0" x2="-3" y2="0" stroke="#e8e8e8" stroke-width="2.2"/><line x1="3" y1="0" x2="35.8" y2="0" stroke="#e8e8e8" stroke-width="2.2"/><line x1="-8.4" y1="-2" x2="-27.9" y2="-4.3" stroke="#5a5a5a" stroke-width="0.7"/><line x1="-5.6" y1="-2" x2="-18.6" y2="-5.9" stroke="#5a5a5a" stroke-width="0.7"/><line x1="-2.8" y1="-2" x2="-9.3" y2="-7.4" stroke="#5a5a5a" stroke-width="0.7"/><line x1="0" y1="-2" x2="0" y2="-8" stroke="#5a5a5a" stroke-width="0.7"/><line x1="2.8" y1="-2" x2="9.3" y2="-7.4" stroke="#5a5a5a" stroke-width="0.7"/><line x1="5.6" y1="-2" x2="18.6" y2="-5.9" stroke="#5a5a5a" stroke-width="0.7"/><line x1="8.4" y1="-2" x2="27.9" y2="-4.3" stroke="#5a5a5a" stroke-width="0.7"/><line x1="-8.4" y1="2" x2="-27.9" y2="4.3" stroke="#5a5a5a" stroke-width="0.7"/><line x1="-5.6" y1="2" x2="-18.6" y2="5.9" stroke="#5a5a5a" stroke-width="0.7"/><line x1="-2.8" y1="2" x2="-9.3" y2="7.4" stroke="#5a5a5a" stroke-width="0.7"/><line x1="0" y1="2" x2="0" y2="8" stroke="#5a5a5a" stroke-width="0.7"/><line x1="2.8" y1="2" x2="9.3" y2="7.4" stroke="#5a5a5a" stroke-width="0.7"/><line x1="5.6" y1="2" x2="18.6" y2="5.9" stroke="#5a5a5a" stroke-width="0.7"/><line x1="8.4" y1="2" x2="27.9" y2="4.3" stroke="#5a5a5a" stroke-width="0.7"/></g>
<g transform="matrix(0.9914 -0.0923 0.1305 0.7010 1364.8 1225.7)"><text transform="scale(0.7,1)" x="0" y="14.9" font-family="Liberation Serif" font-weight="bold" font-size="45" text-anchor="middle" fill="#111" stroke="#111" stroke-width="0.9">A</text></g>
<g transform="matrix(0.9239 0.2706 -0.3827 0.6532 1591.6 1246.8)"><text transform="scale(0.7,1)" x="0" y="14.9" font-family="Liberation Serif" font-weight="bold" font-size="45" text-anchor="middle" fill="#111" stroke="#111" stroke-width="0.9">A</text></g>
<g transform="matrix(0.6088 0.5609 -0.7934 0.4304 1773.2 1345.3)"><text transform="scale(0.7,1)" x="0" y="14.9" font-family="Liberation Serif" font-weight="bold" font-size="45" text-anchor="middle" fill="#111" stroke="#111" stroke-width="0.9">A</text></g>
<g transform="matrix(0.1305 0.7010 -0.9914 0.0923 1860.7 1494.7)"><text transform="scale(0.7,1)" x="0" y="14.9" font-family="Liberation Serif" font-weight="bold" font-size="45" text-anchor="middle" fill="#111" stroke="#111" stroke-width="0.9">A</text></g>
<g transform="matrix(-0.3827 0.6532 -0.9239 -0.2706 1830.9 1655.1)"><text transform="scale(0.7,1)" x="0" y="14.9" font-family="Liberation Serif" font-weight="bold" font-size="45" text-anchor="middle" fill="#111" stroke="#111" stroke-width="0.9">A</text></g>
<g transform="matrix(-0.7934 0.4304 -0.6088 -0.5609 1691.6 1783.4)"><text transform="scale(0.7,1)" x="0" y="14.9" font-family="Liberation Serif" font-weight="bold" font-size="45" text-anchor="middle" fill="#111" stroke="#111" stroke-width="0.9">A</text></g>
<g transform="matrix(-0.9914 0.0923 -0.1305 -0.7010 1480.2 1845.3)"><text transform="scale(0.7,1)" x="0" y="14.9" font-family="Liberation Serif" font-weight="bold" font-size="45" text-anchor="middle" fill="#111" stroke="#111" stroke-width="0.9">A</text></g>
<g transform="matrix(-0.9239 -0.2706 0.3827 -0.6532 1253.4 1824.2)"><text transform="scale(0.7,1)" x="0" y="14.9" font-family="Liberation Serif" font-weight="bold" font-size="45" text-anchor="middle" fill="#111" stroke="#111" stroke-width="0.9">A</text></g>
<g transform="matrix(-0.6088 -0.5609 0.7934 -0.4304 1071.8 1725.7)"><text transform="scale(0.7,1)" x="0" y="14.9" font-family="Liberation Serif" font-weight="bold" font-size="45" text-anchor="middle" fill="#111" stroke="#111" stroke-width="0.9">A</text></g>
<g transform="matrix(-0.1305 -0.7010 0.9914 -0.0923 984.3 1576.3)"><text transform="scale(0.7,1)" x="0" y="14.9" font-family="Liberation Serif" font-weight="bold" font-size="45" text-anchor="middle" fill="#111" stroke="#111" stroke-width="0.9">A</text></g>
<g transform="matrix(0.3827 -0.6532 0.9239 0.2706 1014.1 1415.9)"><text transform="scale(0.7,1)" x="0" y="14.9" font-family="Liberation Serif" font-weight="bold" font-size="45" text-anchor="middle" fill="#111" stroke="#111" stroke-width="0.9">A</text></g>
<g transform="matrix(0.7934 -0.4304 0.6088 0.5609 1153.4 1287.6)"><text transform="scale(0.7,1)" x="0" y="14.9" font-family="Liberation Serif" font-weight="bold" font-size="45" text-anchor="middle" fill="#111" stroke="#111" stroke-width="0.9">A</text></g>
<g transform="matrix(0.9914 0.0923 -0.1305 0.7010 1480.2 1225.7)"><text transform="scale(0.7,1)" x="0" y="14.9" font-family="Liberation Serif" font-weight="bold" font-size="45" text-anchor="middle" fill="#111" stroke="#111" stroke-width="0.9">B</text></g>
<g transform="matrix(0.7934 0.4304 -0.6088 0.5609 1691.6 1287.6)"><text transform="scale(0.7,1)" x="0" y="14.9" font-family="Liberation Serif" font-weight="bold" font-size="45" text-anchor="middle" fill="#111" stroke="#111" stroke-width="0.9">B</text></g>
<g transform="matrix(0.3827 0.6532 -0.9239 0.2706 1830.9 1415.9)"><text transform="scale(0.7,1)" x="0" y="14.9" font-family="Liberation Serif" font-weight="bold" font-size="45" text-anchor="middle" fill="#111" stroke="#111" stroke-width="0.9">B</text></g>
<g transform="matrix(-0.1305 0.7010 -0.9914 -0.0923 1860.7 1576.3)"><text transform="scale(0.7,1)" x="0" y="14.9" font-family="Liberation Serif" font-weight="bold" font-size="45" text-anchor="middle" fill="#111" stroke="#111" stroke-width="0.9">B</text></g>
<g transform="matrix(-0.6088 0.5609 -0.7934 -0.4304 1773.2 1725.7)"><text transform="scale(0.7,1)" x="0" y="14.9" font-family="Liberation Serif" font-weight="bold" font-size="45" text-anchor="middle" fill="#111" stroke="#111" stroke-width="0.9">B</text></g>
<g transform="matrix(-0.9239 0.2706 -0.3827 -0.6532 1591.6 1824.2)"><text transform="scale(0.7,1)" x="0" y="14.9" font-family="Liberation Serif" font-weight="bold" font-size="45" text-anchor="middle" fill="#111" stroke="#111" stroke-width="0.9">B</text></g>
<g transform="matrix(-0.9914 -0.0923 0.1305 -0.7010 1364.8 1845.3)"><text transform="scale(0.7,1)" x="0" y="14.9" font-family="Liberation Serif" font-weight="bold" font-size="45" text-anchor="middle" fill="#111" stroke="#111" stroke-width="0.9">B</text></g>
<g transform="matrix(-0.7934 -0.4304 0.6088 -0.5609 1153.4 1783.4)"><text transform="scale(0.7,1)" x="0" y="14.9" font-family="Liberation Serif" font-weight="bold" font-size="45" text-anchor="middle" fill="#111" stroke="#111" stroke-width="0.9">B</text></g>
<g transform="matrix(-0.3827 -0.6532 0.9239 -0.2706 1014.1 1655.1)"><text transform="scale(0.7,1)" x="0" y="14.9" font-family="Liberation Serif" font-weight="bold" font-size="45" text-anchor="middle" fill="#111" stroke="#111" stroke-width="0.9">B</text></g>
<g transform="matrix(0.1305 -0.7010 0.9914 0.0923 984.3 1494.7)"><text transform="scale(0.7,1)" x="0" y="14.9" font-family="Liberation Serif" font-weight="bold" font-size="45" text-anchor="middle" fill="#111" stroke="#111" stroke-width="0.9">B</text></g>
<g transform="matrix(0.6088 -0.5609 0.7934 0.4304 1071.8 1345.3)"><text transform="scale(0.7,1)" x="0" y="14.9" font-family="Liberation Serif" font-weight="bold" font-size="45" text-anchor="middle" fill="#111" stroke="#111" stroke-width="0.9">B</text></g>
<g transform="matrix(0.9239 -0.2706 0.3827 0.6532 1253.4 1246.8)"><text transform="scale(0.7,1)" x="0" y="14.9" font-family="Liberation Serif" font-weight="bold" font-size="45" text-anchor="middle" fill="#111" stroke="#111" stroke-width="0.9">B</text></g>
<g transform="matrix(0.9681 -0.1770 0.2504 0.6845 1339.1 1307.6)"><text transform="scale(0.7,1)" x="0" y="14.9" font-family="Liberation Serif" font-weight="bold" font-size="45" text-anchor="middle" fill="#111" stroke="#111" stroke-width="0.9">C</text></g>
<g transform="matrix(0.9026 0.3044 -0.4305 0.6381 1565.9 1323)"><text transform="scale(0.7,1)" x="0" y="14.9" font-family="Liberation Serif" font-weight="bold" font-size="45" text-anchor="middle" fill="#111" stroke="#111" stroke-width="0.9">C</text></g>
<g transform="matrix(0.4147 0.6433 -0.9100 0.2932 1725.5 1437.9)"><text transform="scale(0.7,1)" x="0" y="14.9" font-family="Liberation Serif" font-weight="bold" font-size="45" text-anchor="middle" fill="#111" stroke="#111" stroke-width="0.9">C</text></g>
<g transform="matrix(-0.2672 0.6813 -0.9636 -0.1889 1743.4 1598.4)"><text transform="scale(0.7,1)" x="0" y="14.9" font-family="Liberation Serif" font-weight="bold" font-size="45" text-anchor="middle" fill="#111" stroke="#111" stroke-width="0.9">C</text></g>
<g transform="matrix(-0.8241 0.4004 -0.5664 -0.5827 1611.1 1729.5)"><text transform="scale(0.7,1)" x="0" y="14.9" font-family="Liberation Serif" font-weight="bold" font-size="45" text-anchor="middle" fill="#111" stroke="#111" stroke-width="0.9">C</text></g>
<g transform="matrix(-0.9954 -0.0678 0.0958 -0.7037 1390.6 1769.8)"><text transform="scale(0.7,1)" x="0" y="14.9" font-family="Liberation Serif" font-weight="bold" font-size="45" text-anchor="middle" fill="#111" stroke="#111" stroke-width="0.9">C</text></g>
<g transform="matrix(-0.7009 -0.5043 0.7133 -0.4955 1185 1700.5)"><text transform="scale(0.7,1)" x="0" y="14.9" font-family="Liberation Serif" font-weight="bold" font-size="45" text-anchor="middle" fill="#111" stroke="#111" stroke-width="0.9">C</text></g>
<g transform="matrix(-0.0785 -0.7048 0.9969 -0.0555 1090.5 1554)"><text transform="scale(0.7,1)" x="0" y="14.9" font-family="Liberation Serif" font-weight="bold" font-size="45" text-anchor="middle" fill="#111" stroke="#111" stroke-width="0.9">C</text></g>
<g transform="matrix(0.5807 -0.5756 0.8141 0.4106 1151.4 1398.8)"><text transform="scale(0.7,1)" x="0" y="14.9" font-family="Liberation Serif" font-weight="bold" font-size="45" text-anchor="middle" fill="#111" stroke="#111" stroke-width="0.9">C</text></g>
<g transform="matrix(0.9954 0.0678 -0.0958 0.7037 1454.4 1301.2)"><text transform="scale(0.7,1)" x="0" y="14.9" font-family="Liberation Serif" font-weight="bold" font-size="45" text-anchor="middle" fill="#111" stroke="#111" stroke-width="0.9">D</text></g>
<g transform="matrix(0.7009 0.5043 -0.7133 0.4955 1660 1370.5)"><text transform="scale(0.7,1)" x="0" y="14.9" font-family="Liberation Serif" font-weight="bold" font-size="45" text-anchor="middle" fill="#111" stroke="#111" stroke-width="0.9">D</text></g>
<g transform="matrix(0.0785 0.7048 -0.9969 0.0555 1754.5 1517)"><text transform="scale(0.7,1)" x="0" y="14.9" font-family="Liberation Serif" font-weight="bold" font-size="45" text-anchor="middle" fill="#111" stroke="#111" stroke-width="0.9">D</text></g>
<g transform="matrix(-0.5807 0.5756 -0.8141 -0.4106 1693.6 1672.2)"><text transform="scale(0.7,1)" x="0" y="14.9" font-family="Liberation Serif" font-weight="bold" font-size="45" text-anchor="middle" fill="#111" stroke="#111" stroke-width="0.9">D</text></g>
<g transform="matrix(-0.9681 0.1770 -0.2504 -0.6845 1505.9 1763.4)"><text transform="scale(0.7,1)" x="0" y="14.9" font-family="Liberation Serif" font-weight="bold" font-size="45" text-anchor="middle" fill="#111" stroke="#111" stroke-width="0.9">D</text></g>
<g transform="matrix(-0.9026 -0.3044 0.4305 -0.6381 1279.1 1748)"><text transform="scale(0.7,1)" x="0" y="14.9" font-family="Liberation Serif" font-weight="bold" font-size="45" text-anchor="middle" fill="#111" stroke="#111" stroke-width="0.9">D</text></g>
<g transform="matrix(-0.4147 -0.6433 0.9100 -0.2932 1119.5 1633.1)"><text transform="scale(0.7,1)" x="0" y="14.9" font-family="Liberation Serif" font-weight="bold" font-size="45" text-anchor="middle" fill="#111" stroke="#111" stroke-width="0.9">D</text></g>
<g transform="matrix(0.2672 -0.6813 0.9636 0.1889 1101.6 1472.6)"><text transform="scale(0.7,1)" x="0" y="14.9" font-family="Liberation Serif" font-weight="bold" font-size="45" text-anchor="middle" fill="#111" stroke="#111" stroke-width="0.9">D</text></g>
<g transform="matrix(0.8241 -0.4004 0.5664 0.5827 1233.9 1341.5)"><text transform="scale(0.7,1)" x="0" y="14.9" font-family="Liberation Serif" font-weight="bold" font-size="45" text-anchor="middle" fill="#111" stroke="#111" stroke-width="0.9">D</text></g>
<g transform="matrix(0.9914 -0.0923 0.1305 0.7010 1393.3 1378.5)"><text transform="scale(0.7,1)" x="0" y="14.9" font-family="Liberation Serif" font-weight="bold" font-size="45" text-anchor="middle" fill="#111" stroke="#111" stroke-width="0.9">E</text></g>
<g transform="matrix(0.6088 0.5609 -0.7934 0.4304 1600.2 1439.1)"><text transform="scale(0.7,1)" x="0" y="14.9" font-family="Liberation Serif" font-weight="bold" font-size="45" text-anchor="middle" fill="#111" stroke="#111" stroke-width="0.9">E</text></g>
<g transform="matrix(-0.3827 0.6532 -0.9239 -0.2706 1629.4 1596.1)"><text transform="scale(0.7,1)" x="0" y="14.9" font-family="Liberation Serif" font-weight="bold" font-size="45" text-anchor="middle" fill="#111" stroke="#111" stroke-width="0.9">E</text></g>
<g transform="matrix(-0.9914 0.0923 -0.1305 -0.7010 1451.7 1692.5)"><text transform="scale(0.7,1)" x="0" y="14.9" font-family="Liberation Serif" font-weight="bold" font-size="45" text-anchor="middle" fill="#111" stroke="#111" stroke-width="0.9">E</text></g>
<g transform="matrix(-0.6088 -0.5609 0.7934 -0.4304 1244.8 1631.9)"><text transform="scale(0.7,1)" x="0" y="14.9" font-family="Liberation Serif" font-weight="bold" font-size="45" text-anchor="middle" fill="#111" stroke="#111" stroke-width="0.9">E</text></g>
<g transform="matrix(0.3827 -0.6532 0.9239 0.2706 1215.6 1474.9)"><text transform="scale(0.7,1)" x="0" y="14.9" font-family="Liberation Serif" font-weight="bold" font-size="45" text-anchor="middle" fill="#111" stroke="#111" stroke-width="0.9">E</text></g>
<g transform="matrix(0.9239 0.2706 -0.3827 0.6532 1508.2 1389.2)"><text transform="scale(0.7,1)" x="0" y="14.9" font-family="Liberation Serif" font-weight="bold" font-size="45" text-anchor="middle" fill="#111" stroke="#111" stroke-width="0.9">F</text></g>
<g transform="matrix(0.1305 0.7010 -0.9914 0.0923 1644.6 1514.8)"><text transform="scale(0.7,1)" x="0" y="14.9" font-family="Liberation Serif" font-weight="bold" font-size="45" text-anchor="middle" fill="#111" stroke="#111" stroke-width="0.9">F</text></g>
<g transform="matrix(-0.7934 0.4304 -0.6088 -0.5609 1558.9 1661.1)"><text transform="scale(0.7,1)" x="0" y="14.9" font-family="Liberation Serif" font-weight="bold" font-size="45" text-anchor="middle" fill="#111" stroke="#111" stroke-width="0.9">F</text></g>
<g transform="matrix(-0.9239 -0.2706 0.3827 -0.6532 1336.8 1681.8)"><text transform="scale(0.7,1)" x="0" y="14.9" font-family="Liberation Serif" font-weight="bold" font-size="45" text-anchor="middle" fill="#111" stroke="#111" stroke-width="0.9">F</text></g>
<g transform="matrix(-0.1305 -0.7010 0.9914 -0.0923 1200.4 1556.2)"><text transform="scale(0.7,1)" x="0" y="14.9" font-family="Liberation Serif" font-weight="bold" font-size="45" text-anchor="middle" fill="#111" stroke="#111" stroke-width="0.9">F</text></g>
<g transform="matrix(0.7934 -0.4304 0.6088 0.5609 1286.1 1409.9)"><text transform="scale(0.7,1)" x="0" y="14.9" font-family="Liberation Serif" font-weight="bold" font-size="45" text-anchor="middle" fill="#111" stroke="#111" stroke-width="0.9">F</text></g>
<g transform="matrix(0.5000 0.6123 -0.8660 0.3535 1542.9 1486.4)"><text transform="scale(0.7,1)" x="0" y="14.9" font-family="Liberation Serif" font-weight="bold" font-size="45" text-anchor="middle" fill="#111" stroke="#111" stroke-width="0.9">G</text></g>
<g transform="matrix(-1.0000 0.0000 -0.0000 -0.7070 1422.5 1633.8)"><text transform="scale(0.7,1)" x="0" y="14.9" font-family="Liberation Serif" font-weight="bold" font-size="45" text-anchor="middle" fill="#111" stroke="#111" stroke-width="0.9">G</text></g>
<g transform="matrix(0.5000 -0.6123 0.8660 0.3535 1302.1 1486.4)"><text transform="scale(0.7,1)" x="0" y="14.9" font-family="Liberation Serif" font-weight="bold" font-size="45" text-anchor="middle" fill="#111" stroke="#111" stroke-width="0.9">G</text></g>
<g transform="matrix(1.0000 0.0000 -0.0000 0.7070 1422.5 1437.2)"><text transform="scale(0.7,1)" x="0" y="14.9" font-family="Liberation Serif" font-weight="bold" font-size="45" text-anchor="middle" fill="#111" stroke="#111" stroke-width="0.9">H</text></g>
<g transform="matrix(-0.5000 0.6123 -0.8660 -0.3535 1542.9 1584.6)"><text transform="scale(0.7,1)" x="0" y="14.9" font-family="Liberation Serif" font-weight="bold" font-size="45" text-anchor="middle" fill="#111" stroke="#111" stroke-width="0.9">H</text></g>
<g transform="matrix(-0.5000 -0.6123 0.8660 -0.3535 1302.1 1584.6)"><text transform="scale(0.7,1)" x="0" y="14.9" font-family="Liberation Serif" font-weight="bold" font-size="45" text-anchor="middle" fill="#111" stroke="#111" stroke-width="0.9">H</text></g>
<g transform="matrix(1.0000 0.0000 -0.0000 0.7070 1422.5 1510.5)"><text transform="scale(0.7,1)" x="0" y="14.9" font-family="Liberation Serif" font-weight="bold" font-size="45" text-anchor="middle" fill="#111" stroke="#111" stroke-width="0.9">I</text></g>
</svg></body></html>
